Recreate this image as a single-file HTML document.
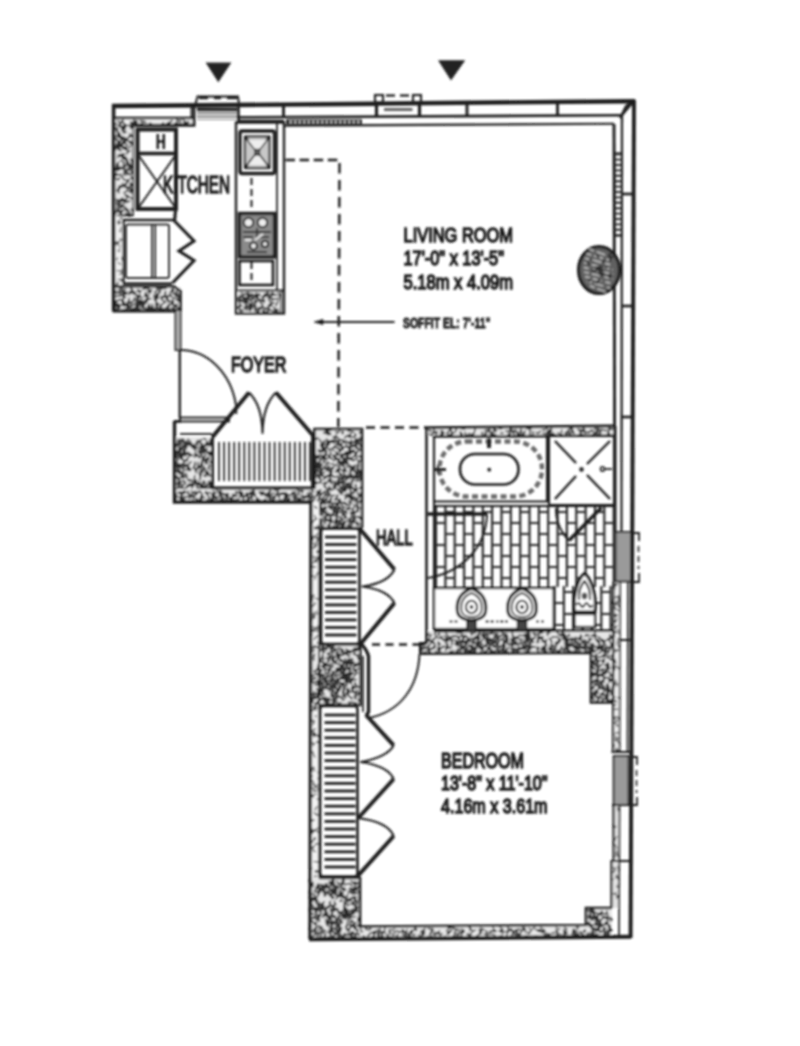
<!DOCTYPE html>
<html><head><meta charset="utf-8"><title>Floor plan</title>
<style>
html,body{margin:0;padding:0;background:#fff;}
body{width:800px;height:1046px;overflow:hidden;}
svg{display:block;font-family:"Liberation Sans",Arial,sans-serif;}
</style></head><body>
<svg width="800" height="1046" viewBox="0 0 800 1046">
<defs><filter id="b" x="-2%" y="-2%" width="104%" height="104%"><feGaussianBlur stdDeviation="1.05"/></filter></defs>
<rect width="800" height="1046" fill="#fff"/>
<g filter="url(#b)">
<polygon points="206.8,63.2 230.2,63.2 218.3,81" fill="#222" stroke="#222" stroke-width="1.3" stroke-linejoin="miter"/>
<polygon points="439.2,61 464,61 451,79.3" fill="#222" stroke="#222" stroke-width="1.3" stroke-linejoin="miter"/>
<rect x="115" y="120" width="17" height="96" fill="#e6e6e6"/>
<path d="M120.9 135.2L119.8 137.2L120 136.4M116.9 168.7L120.4 169.1L117.8 166.7M122.4 198.7L124.9 199.8L125.7 202.5M124.7 158.3L122.5 158.4L124.7 157.2M118.2 132.1L120.9 136.1L119 136.6M125.6 156L125.3 158.2L122.6 156.4M126.2 161.2L128.4 164.6L128.2 163.4M127.9 186.7L130.8 189.5L131 191.7M126.9 148.1L124.5 148.2L124 149.8M118.3 167L122.6 167.5L124.2 167.9M129.1 150.5L126.8 153.8L127.3 153.6M128.6 209.8L129 214.1L126.3 215.3M125.7 214.4L123.2 215.9L122.5 216M116.3 164.4L118.4 165.6L115.8 167.2M117.9 144.3L119.6 149L117.1 148.7M124.2 204L120 206.7L118.7 206.2M121.4 204.1L118.9 204.4L116.9 202.8M119.5 166.6L118.7 169.4L115.7 168.9M121.5 174.2L117.2 174.9L117.3 175.6M126.1 126.1L121.6 127.5L123.9 129.3M121.9 158.5L125.9 159.9L123.3 157.3M119.1 136.3L120.2 138.2L117.2 136.1M117.5 155.2L122.6 155.6L123.3 153.5M119.8 153.7L120.8 155.9L122.9 158.8M123 166.5L125.3 167.1L124.3 165.7M128.4 136.2L132 136.6L132 134.4M124.1 123.5L123.7 128.9L125.8 130.1M119.9 155.5L124 157.8L124.2 159.5M120.9 142L116.4 145L118.5 146.8M128.3 190.5L131.2 193L130.3 190.2M116.4 147.3L119.5 150.5L122.2 150.2M130.1 213.9L126.8 214.3L125.1 212.7M119 140.2L117 145L119 144.9M125.8 196.2L130 197.3L132 199M127.3 165.9L131.3 168.5L130.3 170.3M130.6 158.2L132 163.3L132 161.3M117.9 135.2L115 136.6L115 138.6M130.7 182.8L132 186.3L129.8 183.4M130.6 182.1L130.1 187.3L129.7 189.5M128.4 140.8L130.5 143L129 143.5M119.9 160.4L124.6 162.5L123.8 162.2M124.8 206L126 211.1L126 211.2M123.9 122.8L124.3 125.4L121.4 127.1M118.6 165.5L116 168.5L115 168.6M124.3 194.7L128.1 196L126.6 194.7M127.6 168.7L126.7 173.3L129.2 173M125.2 168.5L125 172.9L124.7 173.1M123.2 209.5L120.2 213.6L122.9 212.2M124.4 209.7L122.2 210.9L119.9 210.5M117.1 143.6L121.3 144.6L123 147M118.3 188.3L117.1 190.5L119.4 193.3M119.3 210.5L120.5 214.1L123.4 216M118.4 161.6L118.3 164.7L116.4 163.7M126.8 122.8L126.2 126.3L123.3 125.3M125.4 169.2L130.7 170.2L132 173.1M117.6 146L122.3 146.5L120.9 144.3M122.3 206.7L119.9 208.2L117.8 210.8M124.6 186.8L126.7 187.4L127.8 187M117.1 209.2L115.1 213.6L115 215.7M117 202.1L117.5 205.3L117.8 207.8M120 133.1L119.8 136L117.4 133.9M116.8 140L118.5 142.5L120 141.3M123.5 137.7L124.5 139.6L123 136.6M127 172.8L130 174.9L132 172.5M128.3 161.6L128.4 166.5L127.7 166.6M126.3 213.3L128.6 216L129.9 216M122.1 153.7L124.5 154.1L121.9 155.5M119.8 136.3L124.6 137.6L126.8 138.7M120.2 143.8L122.4 146.6L120.4 146.3M119.9 211.4L116 211.7L115 214.5M120.6 154.5L124 154.5L123.8 154.5M119 168.4L121.9 168.5L119.5 167.9M116.6 123.1L118.2 125.4L118.8 125.6M127.3 182.8L124.1 186.8L123.4 185.7M130.8 135L128 138.3L125.3 140.3M129.4 180L126.1 183.6L124 183.7M123.6 199.5L119.6 202.3L120.1 204.7M126.2 186.2L127.8 187.6L125.6 186.7M117.6 199.6L116.8 203.7L117.6 204.8M123.3 121.3L119.6 124.1L119.6 124.3M125.9 127.2L123.9 129.3L121.4 127.9M126.9 140.3L123.2 144.2L123.2 143.5M123.2 185.3L120.1 188L120.9 185.5M118.2 144.9L116.1 147.1L116.5 144.2M116.9 146.3L115 150.1L116.1 148.8M123.7 164.7L124 167.1L126.4 165.3M130.7 209L132 209.2L132 212M122.7 146.3L126.9 149.5L125.2 150M118.1 170.3L115.7 170.6L117.6 170.7M129.3 187.1L132 190.5L131.9 187.7M116.1 167.2L116.5 170.2L115 169.3M120.7 200L125.4 200L127.4 197.7M129.9 188L127 188.9L126.3 188.3M131 176.4L132 179.6L130.7 176.8M117.5 199.5L120.8 203.6L119.3 202.2M123.7 138.8L125.7 143.8L128 145.6M125.5 206.9L121.6 207.6L122.9 204.9M127 163.4L124 166.4L122.7 163.7M129.9 133L130.2 136.2L129 137.6M130.6 145.5L129.2 148.1L129.6 147.5M118.5 136.2L122.6 139.3L122.6 137.7M129.6 214.7L130 216L128.1 213.5M121.1 129.6L123.3 131.5L123.7 133.9M127.2 159.8L128.3 163.5L127.5 162.5M116.9 147.1L115 147.3L115 148.1M128.9 141.3L130.8 143.5L130.2 143.1M130.3 200.8L128.4 201.6L125.6 202.8M129.4 165.5L128.9 167.4L128.2 170M128.4 201.4L125.5 201.7L123.2 199.6M123.8 185.1L119.4 185.9L120.3 187.5M122.9 172.8L127.6 173.4L126 175.9M125.7 149.6L128.3 150.7L129.2 151.9M117.7 127.6L117.4 131.6L116.7 130M125 122L127.1 124.9L129.9 125.8M129.3 165.7L131.4 167.6L132 168.8M120.6 123L120.6 127.4L120.2 126M126 208L127.6 209.4L126.6 208.9M126.2 139.6L122.6 142.3L122.6 140.6M130.5 150.3L128.2 151.8L126.5 153.4M120.4 210.5L120.5 213.1L118.8 212.6M126 210.2L129 211.7L127.3 214.5M118.1 125.9L121.4 126.5L123.8 128.8M127 214.8L123.9 215.4L122 216M127.2 124L125.6 126.9L124.8 125.9M118.5 121.3L120.6 123.8L123.3 121.5M130.5 140.5L132 144.9L132 144.5M116.7 165.5L118.8 170.3L116.9 169.5M129.5 123.8L130.8 128.5L132 125.7M116.5 126.9L115 127.6L116.5 130M121.1 146.6L117 147.1L115.5 148.4M120.7 146.9L125.4 147L127.9 147.8M130.1 123.3L132 125.7L132 128.5M121.8 144.6L122.6 148.2L125.2 146.3M128 190.4L124 192.9L124.7 191.9M120.8 155L119 156.5L117.2 158M119.7 127.1L123.6 127.5L122.6 130.4M129.3 213.9L130.8 215.6L128.4 215.5M126.6 163L129.2 165.3L129.9 166.4M127.2 200.6L126 202.7L128.1 201.5M124.5 156.1L122.7 158L121.2 156.5M118.3 204.1L117.5 207.2L116.9 210.1M123.6 142.7L120.1 145.2L123 142.8M123.1 198L118.6 200.5L115.8 199.3M117.8 138.8L115 139.2L117.6 138.4M129 163.2L132 166.7L132 164.3M124.9 179.3L127.5 181.4L125.3 179.6M119.8 177.3L118.6 179.8L115.6 178.7M126.2 138.4L127.7 140.7L129.5 140.9M116.9 130.5L118.2 134.2L119.1 131.8M118.5 186.4L119.3 189.2L118.1 192M120.7 174.3L122.2 177.4L124.4 180.3M121.5 139.5L119.7 141.6L116.7 144M122.4 198.1L123.8 203L123.6 201M116.2 172.8L115 177.5L115 178.3M121.6 168.4L124.2 169.7L124.4 172.3M117.6 167.1L115 170.2L115 168M130.1 212.7L130.3 214.9L132 214.2M129.6 179.3L127.4 180.7L129.1 179M122.1 200.6L119.8 201.9L118.1 201.3M123.8 157.1L126.4 158.1L127.8 160.5M116.6 173.9L115.1 175.3L117.1 173M125 172.7L123.8 175.5L123.3 176M122.4 182.9L123 186.4L120.1 187.1M123.3 143.1L119.9 146.3L119.6 144.4M123.1 131.1L126.3 132.4L123.9 132.1" fill="none" stroke="#2a2a2a" stroke-width="1.5" stroke-linejoin="round"/>
<rect x="115.5" y="216" width="7" height="71" fill="#f0f0f0"/>
<path d="M119.1 219.8L118.1 221.9L119.5 223.6M119.1 220.7L119 224.1L121.7 221.9M120.8 285.7L117.6 287L115.7 287M119 283L116.5 283.7L118.2 286.3M116.8 241.2L115.5 243L117.9 241.6M120.6 226.9L120.5 232.1L118.8 230.7M119 239L121.6 239.3L119.6 241.9M119.9 278.8L122.5 281.2L120.2 281.4M119.7 241.8L116 243.4L116.5 245.7M117 285.5L115.7 287L117.5 285.6M121.5 256.8L122.5 261.1L122.2 259.1M120.2 220.3L117.8 221.9L118.6 224.8M119.4 262.8L120.5 264.5L117.7 262.4M119.6 246.8L119.4 252L117.2 250.3M119.8 218.5L122.5 218.6L120.1 217.7M117.6 257.3L116.9 259.9L117.6 259.7M117.2 281.6L119 283.4L116.6 284.2M120.9 271L121.7 273.8L118.8 274.6M119.3 241.2L117.7 244.4L120.4 245.8M117.7 279.3L121.6 279.9L121 278.3M116.8 270.7L120.7 270.9L122.5 268.7" fill="none" stroke="#2a2a2a" stroke-width="1.0" stroke-linejoin="round"/>
<rect x="115" y="118.5" width="78" height="6" fill="#f0f0f0"/>
<path d="M131.2 121.9L131.1 124.5L133 122.5M139.5 120.7L144.6 121.5L146.3 122.8M116.5 122.9L115 124.5L116.5 124.2M133.2 119.9L134.8 121.3L133.8 122.8M168.8 122.9L167 124.5L167.3 124.1M175.9 121.6L178.8 124.5L181.6 122.8M182.9 119.6L184.8 121.6L186.3 124.3M172.7 120.8L169.8 122L168.2 124.4M163.9 122.3L161.2 124.5L161.1 124.5M169 122.9L169.9 124.5L170.3 123.3M132.1 122L137.1 123.2L135 120.4M124.1 123.2L125.3 124.5L122.4 121.7M168.6 122L166 124.5L163.4 124.5M143.6 122.8L139.3 124.5L136.7 124.5M185.5 123.3L188.1 124.2L185.7 121.4M180.4 122.7L178.4 124.5L179.2 123.2M123.6 119.9L121.6 121.8L120.5 121.3M117.6 120.5L120.4 124L119.6 122.9M189.3 121.5L185.5 123.4L182.7 122.9M149.2 122.6L151.2 124.5L151.5 122.8M181.5 119.9L179.3 121.3L176.3 119.5M173.9 123.4L177.6 123.5L177.6 124.5M130 121.5L132.3 124.5L130.9 124.5M137.6 120.4L135.4 123.4L133 124.2M122.1 122.7L119.4 124.5L120.2 123.6" fill="none" stroke="#2a2a2a" stroke-width="1.5" stroke-linejoin="round"/>
<rect x="113" y="287" width="68" height="23" fill="#e6e6e6"/>
<path d="M140.5 296.3L138.3 297.1L140.6 294.2M127.6 293.5L124 294.7L123.3 297M129.4 297.7L129 302.3L130.5 303.2M137 294.9L141.4 297.2L142.3 298.6M125.2 297.2L122.1 299.8L119.9 299.6M172.4 293L174.9 294.7L176.2 296.8M124.2 291.3L126.4 293.5L126.6 291.4M135.7 292L131.1 292.3L128.7 295.1M120.7 296.1L115.9 296.3L117.3 295.9M126.9 301.4L129.5 302.3L128.8 299.5M140.3 304.6L138.2 307.7L139 307.5M123.4 300.7L124.7 305.1L127.2 304.6M151.9 303.7L152.6 306.4L153.9 308.7M165.1 302.7L161.2 304.7L162 304.4M134.7 301.2L138 302.2L139.7 303.5M155.6 293.3L156.4 296.7L157.1 296.2M158.6 307.5L162.2 309.9L163.8 309.2M146.3 308.5L150.2 308.9L148.2 310M176.1 298.9L179.9 300.2L180.1 301.5M147.8 301.4L144.5 303.4L144 306.1M127.9 302.4L129.4 306.8L127.1 309.7M137.5 289.2L139.7 291.8L136.8 291.3M141.8 302.7L143.1 305.3L141.4 306.7M176 299.1L179.7 302.1L179.1 300.4M122.5 304.3L119 306.7L118.9 307.1M128.9 308.2L130.8 310L132.7 310M144.9 294.2L144.5 296.6L146.5 295.7M170.1 293.6L171.2 296.3L170.8 294.4M114.2 303.2L116 305.4L114.8 305.2M142.3 301.4L140.7 304.3L143.3 306.4M117.8 305.4L113.2 306.8L113 308.8M155.8 288.3L161.1 288.5L162.1 287M120.7 291L124.2 294.2L123.3 292.1M173.7 304.6L178.1 307.2L178.7 308.9M158.1 306.8L154.2 309.8L152.4 310M149 303.6L150 308.6L150.3 307.2M129.5 290.9L129.5 293.1L129.3 291M146.4 298.5L145.8 303.4L142.8 305.5M144.9 299.8L142.4 304.1L141.7 303.6M177.4 289.6L175.6 293.4L172.8 294.1M159.1 307.6L161.8 310L161.9 309.9M173.2 288.7L170.6 292L169.6 294.1M138.2 298L137.8 302.6L136.1 302.3M141.9 299.6L139.3 301.2L141.3 300.6M147.2 293.7L147.1 299.1L148.1 300.9M135.8 294.7L138.2 297.9L139 299.6M116.6 303.2L113 304.6L113 303.4M114.4 292L113 293L113.9 294.7M174 300.8L172.5 304.8L173.7 305.3M158.9 292.5L157.1 295.6L158.7 293.2M126 288.8L122 292.2L123 291.4M168.3 304.5L167.7 307.4L166.5 306.9M135 297L132.7 301.8L130.1 302.2M116.6 290.5L113.3 292.7L115.8 292.4M114.9 296.1L113.4 301.2L116.3 301M141.2 290.1L140 292.6L137.9 289.7M114.3 302.4L119.3 304.4L116.8 306.6M122.5 288.4L120.7 290.6L122.1 288.7M117.3 304.3L114.2 308.2L115.6 305.7M155.5 302.9L156.1 308.1L154.7 310M161.3 288.2L165.6 288.4L167.5 287M134.5 303.3L138.9 305.8L138.8 303.2M138.3 300.1L139.1 304.4L137 306.1M138 301.5L136.6 304.7L135.9 306.4M176.4 304.5L175.7 307.4L173.1 310M160.4 305.4L162.5 308.9L165.4 310M153.7 294.5L154.8 299.5L154.1 300.6M153.7 306.8L151.3 308.5L148.3 307.1M141.9 300.3L137.6 303.1L134.9 305.1M167.6 306.2L166.9 309.1L169 310M159.2 307.2L160.2 309.2L160.6 310M127.2 303.8L124.5 304.4L125.1 305.4M144.7 292.3L147.9 295.7L149.7 295.4M119.8 304.9L117.7 306.8L118.1 309.2M172.4 299L172.7 303L170.8 301.2M125.9 302.7L127.6 306.3L127 306.4M123.8 288.9L120.5 289L118.2 289.8M166 291.3L165 294.3L165.1 291.5M116.2 308.8L113 310L113.4 308.6M165.4 296.9L160.8 297.7L162.7 300.5M130.8 288.8L132.9 290.3L130.4 287.7M150.8 306.3L151.5 310L153.9 307.4M153.5 296.3L158.5 298.3L157 298.7M156.3 308.1L154.6 310L154.3 308M177.7 308.8L179.4 310L177.9 309.1M173.6 307L171.7 308.1L173.4 309.3M156.7 308.7L159.1 309.1L160.7 310M158.7 294.3L157.4 298.7L155 297.7M131 290.6L131.1 293.2L129.5 291.1M158.7 288.3L157 290.3L154.2 292.9M128.6 307.6L123.9 309.7L121.7 309.4M120.4 307.5L116.7 309.5L116.4 308.5M168.3 298L167.3 300.3L165.7 297.7M161.1 299.6L165.6 301.8L164.2 301.3M124.3 293.7L121.5 295.2L119.5 295.2M135 307L140.1 308.9L137.4 310M158.1 292.4L158.3 295.4L156.9 293.6M138 308.8L132.8 308.8L130.4 307.6M173.1 289.2L171.2 291.5L174 288.6M167.3 295.2L169.1 296L171.1 296.2M126.3 297.1L123.6 297.9L124 295.7M125.9 304.2L124.2 306.3L121.7 303.8M154.2 298.4L155.9 300.5L156.6 301.7M167.6 300.2L169.4 301.6L170.8 301M161.6 289.2L159 290.9L161.1 293.1M146.5 288.3L143 289.3L145.2 287.9M126.3 305.5L127.3 307.8L126.5 308.4M114.3 298.9L115 302.7L113 304M167.9 306.2L170.3 310L169.6 310M118 306.3L114.3 306.9L114.4 307M149.5 288.4L146.7 288.7L144.8 287M130.5 305.2L132.9 305.4L134.1 303.6M115.2 300.6L114.3 304.3L115.5 301.9M171.4 303.1L173.8 303.4L173.8 303.4M132.5 290.6L133.2 292.9L133.7 295.1M123.7 300L121.9 301.9L123.9 304.5M139.7 296.8L136.3 298.7L135.7 301.3M165.3 295.1L167.6 297.3L167.2 300.2M167.1 307.2L162.9 309.9L160.3 310M177.2 307.6L179.7 310L180.5 309.2M149 289.5L149.8 293.1L146.9 291M178 304.3L173.9 305.1L175.7 307.4M172.4 288.7L171.1 291.4L172.2 290M149.8 307.4L148.7 310L148.8 309.6M176.8 294L179.2 297.5L176.9 298.1M177.1 298.8L179.5 301.5L179.7 299.4M122.2 290.8L124.2 293.5L123 291.9M119.8 299.5L116.2 301.5L116.6 302.4M127.3 302.9L127.8 306.8L128.4 306.6M134.5 293.1L137.4 295.5L136.7 296M114.8 295.4L113 296.6L113.3 296.5M132.8 308.7L135.6 310L133.6 307.4M171.5 297.2L174.8 297.9L174.4 299.3M121.2 292.7L116.7 293.3L114.6 292.3M137.3 302.2L135.5 306.8L137.4 306.9M162.8 303.6L160.1 306.1L161.8 307.4M174.4 290.7L172.5 291.5L174.1 292M146.9 308.2L146.1 310L147.8 310M154.1 296L154.6 299.5L156 298.3M139.8 299.7L140.9 302.6L142.6 304.7M147 297.3L149.5 299L147.4 299.5M152.4 289.8L149.3 290.6L151.4 292.7M177.3 292.3L178.5 297.3L175.5 294.6M151.3 298.4L146.7 299.6L147 302.6M148.2 298.9L146.3 301.7L145.4 302.2M137.2 307.9L135.2 310L132.7 309.2M140.5 299.8L139.3 304.7L142.1 304.7M143.1 301.1L139.8 301.2L140 303.1M125.3 294.7L120.4 295L120.5 292.7M173 302.5L168.4 305.4L170.7 304.9M124.3 294.1L124.2 297.9L122.3 295.9M155.6 300.7L158 305.6L158.8 302.8M141.2 304.5L143.7 308.2L140.7 307M169.6 300.3L168.2 302.6L168.2 303M131.6 301.6L131 307L131.5 306.5M122 291.3L120.3 292.9L117.9 290.9M148.5 305.3L146.8 309.8L144.2 306.9M164.9 294.8L162.8 297.3L160.8 295.9" fill="none" stroke="#2a2a2a" stroke-width="1.5" stroke-linejoin="round"/>
<rect x="238" y="291" width="43" height="21" fill="#e6e6e6"/>
<path d="M243.1 309.2L242.3 312L242 311.3M241.2 308.9L239.9 312L239.5 312M249.2 292.8L244.3 293.9L243.2 296.3M272.5 297.8L270.8 302.9L270.7 305.6M249 299.4L247.2 301.6L246.1 303.8M258.9 307.1L260.7 308.9L259.9 307M278.8 297.5L278.4 299.9L278.6 299.2M255.5 293.2L260.1 295.1L259.2 293.6M246.8 297.4L248.4 298.8L249.4 297.9M245.4 305.4L248.2 306.3L250.2 304M257.2 307.9L255.1 309.4L254.2 310.7M254.5 310.2L258.7 312L258.7 310.4M257.6 294.5L255.8 296.8L258.2 297.3M254.1 296.7L253.2 299.3L255.4 297M260 302.3L263.1 305.8L262.4 306.8M262.3 297.9L263.1 300.1L261.1 302.2M252.2 304.6L255.9 305.9L255.1 305.9M251.2 293.3L252.7 295.6L250.5 296.9M250.6 299.7L246.1 301L248.4 303.2M244.4 297.3L248.8 297.7L249.8 296.8M255.9 304.5L254.2 306.8L256.3 306M264.8 295.5L269.6 297.3L271 298.6M240.7 292.8L243 294.1L241.8 293.4M240.6 297.9L239.5 300.3L241.5 300.7M268.4 296.8L269.3 301.1L268.4 298.1M273.2 306.8L274.5 308.4L276.7 309.1M240.9 296.6L245.4 298.3L243.7 300.8M269.7 293.6L267.8 296.4L269.3 298.4M250.5 293.7L247.1 294.3L249.7 295.4M269.3 307.8L267.9 311.1L265.2 312M256.6 301.7L254.2 302.3L255.7 299.5M267.8 307.3L270.5 310.2L273.3 311M261.3 296.7L264.5 297.3L264 295.6M251.7 294.6L249.1 298.1L247.5 296.5M260.1 300.5L257 301.1L255.8 303.4M244.8 302.7L247.2 306.9L247.5 308.5M245.9 304.7L244.8 308.1L246.4 310.1M243.7 297.5L244.8 300L242.2 298.6M247.1 305.3L247.5 307.7L246.4 307.5M253.9 295.2L255.9 295.6L258.8 297.2M242.4 305.6L238.5 305.9L238 305.8M256.8 295.6L256.5 297.6L259 298.5M264.7 309.8L263.4 312L261.9 309.8M240.1 306.7L238 308.2L238 309M273.7 309.6L277.8 312L279.8 312M252.4 295.5L249.7 297.1L248.9 297.4M254.1 307.8L255.7 309.3L256.1 310M272.6 305.4L267.5 307L267.5 307M245.5 297.7L244.9 299.9L246 297.9M257.2 310.4L259.2 311L258.9 309.2M268.6 292.1L264.3 294.4L266 294M250.6 304.6L250.5 308L249.5 307.7M266.3 307.7L263.9 308.5L262.6 308.1M262.1 298.6L264 299.9L262.9 299.7M278.8 309.3L273.9 311.5L276.7 312M272.3 293.1L270.1 296.7L268.9 297.1M278.1 301.1L276.7 303.9L275.8 306.2M240.1 295.6L238.2 298.6L238 299.6M254.3 303L255.3 306.8L255.6 306.1M243.7 295.4L240 296.8L238 298.9M249.4 293.8L249.1 296.7L249.1 297M248.3 302.9L251.8 304.2L252.4 301.7M255.7 293.4L256.7 298.3L257 299.6M270 294.2L265.5 294.3L263.1 296.3M255.1 295.3L251.1 295.8L252.8 293.6M270.8 293.1L273.3 295.3L270.3 295.9M247.7 297.7L245.6 300.5L248 301.2M274.8 302.7L269.9 304L267.9 305.5M253 306.5L250.4 310.6L248.1 309.9M269.2 310L267.8 311.7L268.5 309.3M261.5 307.3L266.4 309.1L267.5 307.6M246.9 300.5L243.4 302.5L241.1 299.6M243.5 307.2L246.8 309.4L245.6 310.5M254.6 294.7L251 296.2L252.2 298.1M277.9 292.3L279.1 294.5L279.1 296.7M271.8 292.7L275.9 295.3L277 294.7M258.5 295L255.5 296.6L257.8 297.3M242.1 298.3L246.1 301.5L246.6 298.7M246 298.9L246.4 302.9L245.7 302M239.2 303L240.3 304.8L240 307.7M240.9 294.8L239.3 297.3L238 297.3M249.7 302.8L249.3 308.1L252.2 305.3M262 306.6L257.6 308.5L258.4 309.3M253.9 297.4L249.8 300.4L252.5 301.5M251.5 306.5L248.9 309.3L249.7 308.4M261.6 299.7L264.7 300.3L263.6 303.2M258.7 299L260.8 300.9L259.9 298.7M239.3 308.5L239.8 312L240.2 310.8M245.9 293.3L247.7 295.8L249.1 296.1M277.4 298.5L273.5 299.5L271 297.5M262.8 310.8L264.8 312L264.4 312M241.8 301.2L239 302.1L238 299.3" fill="none" stroke="#2a2a2a" stroke-width="1.5" stroke-linejoin="round"/>
<rect x="175" y="437" width="37" height="65" fill="#e6e6e6"/>
<path d="M181.8 454.9L180.1 457.1L179.5 455.3M197.1 492.4L195.9 494.8L197.3 497.6M197 443L192.9 445.8L191.9 443.7M182.6 471.8L178.7 473.4L181.2 471.7M187.4 485.2L185.9 488.3L187 487.3M178 464.1L182.2 464.7L181.2 464.7M196.9 454.2L197.2 456.2L199.7 456.6M210.6 441.5L209 445.8L207.9 443.3M181.5 447L179.7 448.5L181.6 448.1M194.9 475.1L194.1 479.3L194.7 478.3M201.9 454.2L199.1 457.9L200.7 456.8M203 499.6L203.5 502L203.6 502M180.6 438.6L180.9 442.9L182.6 442M210.6 452.4L209 454L206.1 451.8M178.1 469.6L177.7 472.2L180.3 471.4M181.2 449.2L177.7 453L175.6 450.2M203.2 453.3L199.5 453.5L200.3 452.6M204 467L206.7 471.4L204.4 472.8M178.3 478.7L179.8 483.5L177.2 483.8M190.3 495.9L186.2 496.6L184.6 495.1M185.2 465.3L187.2 467.1L188.8 468M186.4 500.6L189.5 502L187.5 502M206.4 454.8L203 458.3L201.7 457.3M193 494.1L196.8 496.3L197.4 496M196.3 493.6L200.3 496.7L199.5 498.4M206.2 449.5L201.2 451.8L200 448.9M179.9 499.4L185.1 499.5L183 501M179.4 448.6L178.2 450.6L177.2 453.1M201.1 493.6L199 493.7L197.4 495.5M200.1 440.4L200.1 443.2L199.7 440.8M176.7 500.4L179.5 502L177.2 501.9M180.8 465L184.5 467.3L182.4 468.8M193.5 445.1L195.2 448.4L197.7 447.5M183.5 499L179.3 500.6L177.9 498.7M185.3 442.3L189 442.9L188.5 443.2M188.7 438.7L186.3 442.2L186.6 442.5M200.2 499.9L196 501.6L195.4 500.5M190.7 499.3L191.8 502L191.3 499.9M210.9 438.3L209.2 443.3L207.7 443.9M189.2 453.2L191.1 454.6L193.2 456.3M207.8 441.1L206 443.7L206.9 444M187 499.2L191.7 499.2L193.8 499.3M196.7 500.7L199.8 502L201.3 501.3M200.9 462.8L200.6 466.9L201.6 465.9M198 472.2L201.2 474.9L199.8 477.3M192.6 483.5L192.3 487.1L190.6 485M208.5 471.3L208.2 475.1L210 473.6M182 489.8L182.6 494L184.5 496.4M206.4 440.7L208.2 445.3L210.1 443M181.4 453.8L184.5 454.9L186.3 455M191.8 443.5L193.6 448.7L194.8 448.4M192.7 488.3L190.9 490L192 489.2M194.2 453L195.5 455.9L194.8 453M183 473.9L185.6 474.4L186.9 473.1M187.3 453.2L185.3 454.4L186.1 456.5M183.1 464.7L179.8 467.2L179 464.4M191.5 461.1L189.6 463.5L189.1 464.4M204.4 460.2L205.8 464L208.3 462.1M210 482.8L211.7 486.8L210.7 484.3M202.5 461.9L202.2 465.6L204.6 467.2M176.9 475.3L177.3 478.9L179.4 478.4M192.6 494.1L193.3 497.7L193.3 499.7M199.5 484.6L200.1 486.7L201.2 487M202.9 486.5L205.5 487.5L203 489.4M179.6 443.6L176.7 446.3L175 447.4M200.9 468.4L205.2 469.2L204.7 469.7M210.9 489.5L208.6 490.4L207.6 490.6M176.2 500.3L178.1 502L177 500.5M206.1 473L205.9 476.5L203.2 475.3M206.3 488.5L203.7 489.8L201.9 487.1M194.8 461.5L195.2 465.2L195.7 464.4M204.1 450.6L200.2 451.6L197.5 450.5M194.7 463.8L194 466.8L192.7 468.6M186.2 482.8L182.9 485.1L182.6 487.7M191.6 493.3L195 494L195.9 491.2M206.2 442.5L205.4 445L207.9 445.4M204 469.4L201.8 473.1L200.5 471.4M205.3 447.2L202.7 447.9L200.3 445.5M203.4 497.9L204.6 502L203.1 502M200 447.8L204.4 448.5L201.6 450.6M186.3 452.7L185.5 455.7L185.8 453.6M207.9 458.4L205.7 459.6L207.5 462.5M189.7 440.1L191.3 444L189.6 444.3M179.3 467.3L177 469.9L178 467.6M205 445.7L199.7 447L202.3 447.2M186.2 459.9L183.5 462.6L186.1 460.1M193 492.4L191.8 496.1L189.3 494M185.5 494.3L183 495.6L185.6 492.8M197 498.9L199.5 502L200.4 499.3M187.7 466.3L190.9 469.6L189 471.3M186.4 442.4L186 444.7L186.3 446.4M196.8 467.1L200.6 467.5L198.2 468.4M180.6 474.4L182.1 477.4L183.1 475.4M181.9 497.3L184.4 501.6L186.7 501.5M181.2 443.9L179 444.8L179 445M180.1 467.5L183.5 469.4L183.5 468.6M182.9 463.4L184.9 464.9L183.3 467.1M193.6 494.1L198.9 494.4L198.8 496.1M196 481.4L199.4 484.5L197.4 483M177.1 462.8L176.9 465.8L179.3 463.3M196.2 452.7L194.8 457.3L196.1 454.6M184.6 475.7L182.5 475.9L183.2 477M204.5 459.6L201.5 461.6L204 458.6M208.9 464L209.6 466.2L208 467.6M199.8 447.5L200.9 449.7L199.1 448M187.6 499.5L182.8 499.5L182.7 499.5M203.3 495.2L200.3 498.2L198.5 498.9M205.6 487.6L209.9 488.8L209 486.8M209.8 480.4L208.1 482.2L210 484.8M207.7 484.9L203.5 487.3L204.1 487M204.9 487.4L202.1 488.6L204.8 488.8M209.1 445.3L204.4 445.8L202.9 447.8M184.1 450.5L184.5 453.3L184.5 455.7M200 482.8L201.6 487.2L203.3 488.3M209 490L209.6 492.2L210.5 494.2M187.9 475.5L183.7 477.8L180.8 477.8M176.6 445L175 446.9L175.6 446.6M187.7 451.5L189.9 455.9L190.7 454.7M179.1 455.1L177 457.9L177.9 459.8M180.2 481L185.1 481.7L183.2 480.3M209.5 460.8L212 464.1L212 466.5M189.8 469.5L186.1 470L189 468.1M205.1 448.2L204.9 450.2L203 452.9M191.9 489L194.2 491.3L191.8 491.6M206.2 470.4L208.2 475.2L210.5 476.2M178.7 477.3L179.6 482.6L178.8 483.6M198.1 461.7L197.8 466L200.3 466M188.7 499.5L193.6 500.4L194.7 500.7M191.7 485.3L187.4 486.8L188.9 484.1M187.4 446.6L182.3 447.4L180.2 447.9M196.2 440.9L197.7 445.3L198.6 444M202.7 456.3L202.2 459.8L205.1 460.7M204.2 480.6L206.1 485.6L207.4 486.8M185.7 448.2L184.6 453L186.3 452M180.9 470.5L178.5 471.5L179.9 469.5M186.9 441.4L188.9 444.1L191.7 446.8M182.6 457.5L179.9 458L178.8 457.6M179.8 454.4L180.9 457.6L183.7 456.2M183.1 495.3L183.9 500.1L184.7 501.8M187 447.6L184.4 450.1L184.7 451.1M202.3 455.3L204.5 460.1L204.7 458.8M198.1 454.4L196.4 455.8L198.4 456.2M188.4 497.2L190.3 499.3L187.7 499.6M202.4 480.7L203.7 485.4L201.4 484.2M198.6 498.9L196.8 502L198.4 501.4M208.9 484.8L210.5 487.7L212 486.8M182.5 492.9L182.1 496.7L183.1 499.1M180.7 459.3L184 460L184.1 462.2M199.4 474.4L200.6 478.2L199.2 480.3M203.6 490.8L207.5 492.8L209 492.8M207.4 494.6L204.1 498.1L205 500.4M180.6 482.4L178.1 485.7L176.8 483.1M197.1 489.9L198.9 492L197.3 489.6M199.7 499.4L197 501.3L198.2 498.7M205.4 458.5L209.6 458.5L207.4 457.2M178.1 466.1L177.2 470.8L175 472.8M179.9 452.1L178.6 455.1L177.6 455.5M183.6 488L187.5 491L189.4 491.2M177.1 487L180.8 487.4L180.4 484.7M198.1 483.6L197.2 486.9L197.2 487.5M183.9 492.7L179.1 492.7L181.9 491.7M210.5 442.5L210.7 445L210.4 446.1M200.8 466.6L202.1 469L201.5 467.7M182.8 484.4L182.6 487.9L180.8 489.1M182.9 454.7L182 459.1L184.9 460.6M209.2 496L206.3 499.4L203.7 497.6M176.5 492.4L175 495.6L175 494.8M181.7 477.8L178.7 477.9L175.9 476M188.4 494.6L185.5 496.7L183.1 494.3M181.4 487L181.9 492.4L184.3 494.2M192.7 489.8L194.9 490.7L195.2 490.8M183.3 453.9L188.5 454.2L189.8 456.9M210.3 465.5L208.1 468L210 470.1M180.7 438.8L183.9 441.3L183.1 438.4M205.1 487.5L205.3 489.7L207.6 489.9M178.5 458.4L176.5 463.1L176.4 463.9M183.2 453.3L180 454.3L177.6 454.9M180.4 450.6L181 454.6L181.8 455.8M191.4 442.3L190 443.9L189.8 443.3M199.6 483L202.7 485.9L203.8 485.7M181 495.3L180.3 497.4L178.7 500.3M184 462.7L180.2 465.7L181 467.2M177.3 443.9L175 444.3L175 441.6M184.4 496.6L187.8 499.4L190.4 500.2M208.2 454.6L210 455.5L211.5 453.1M210.1 482.7L212 485.4L210 485.5M179.7 487.6L175 489.3L175 491.5M195.5 489.7L195.4 493.9L196 495.7M178.7 441.4L178.3 444.4L177.7 441.5M202.1 439.5L197.9 442L197.7 439.7M198.8 451L199.3 453.4L202.1 453.7M188.3 443.9L185 447.7L187.1 445.3M188.9 457.1L187 458.8L187.7 461.7M202.9 438.4L205.2 439L206.4 439.6M194.2 466.7L195.4 470.7L196.3 473.2M201.6 488.2L196.9 489.5L198.2 486.7M199.8 491.5L200.9 496.5L199 499.2M191.5 482.5L193.6 484.7L192.7 483.6M179.3 465.9L175 466.2L177.6 467.7M205.3 500.6L203.2 502L201.7 501.5M176.7 452.5L175 454.4L175 456M203.1 494.1L200 496.4L197.7 498.3M187 477.5L188.6 481L191.3 479M194.6 478.9L193.9 484.2L193.4 486.7M200.1 498.9L202.8 499.7L201.5 502M176.5 454.4L175 458.6L175 458.3M200 481.5L196.8 484.8L195.3 483.4M177 481.5L179.3 483.3L182.1 484.2M196.7 479.3L195.3 483.6L194.2 480.9M178.3 438.9L179.4 441.2L177.1 441.1M209.9 481.3L212 484.9L210.1 482.5M186.6 463.8L184.6 466.7L186 464.3M208.6 459.6L206.8 460.6L208.8 459M205.9 488.6L204.4 491.1L201.5 489.3M207.7 448L205.7 451.5L206.7 449.6M181 444.1L177.7 444.3L178.6 444.7M183.8 442.1L188.8 442.3L186.6 445.1M188.7 483.5L193 485.5L191.6 484.7M194.3 445L197.7 448.4L196.4 447.7M202.8 452.1L205 453.7L204.3 452.9M198.4 467.7L196.5 468.6L197.4 470.6M184.2 439.9L184.7 442.2L184.4 443.5M179.3 445.4L179.4 448L177.8 447.7M180.1 442.3L181.7 445.6L184.3 445.9M178.5 452L175.7 454.9L178 457.6M206 444.9L202.3 445.6L200.7 443.6M206.3 451.4L209.1 452.1L211.6 451.9M201.6 442.7L202.1 445.8L200.3 446.7M188.6 445.5L185 445.7L183 442.8M198.9 470.4L202.5 470.7L203.9 470.9M184.2 469.4L182.8 473.5L180.7 475.3M209.1 484.6L206.1 486.1L208.5 484.2M183.9 475.7L181.8 476.4L180.1 473.6M191.4 446.9L195.2 449.5L195.7 452.1M190.1 480.8L195.4 481L193.8 480.9M193.9 497.7L194 502L194.8 500.3M205.2 450.7L201.6 450.7L199.9 453.5M187.3 463.6L189.3 467.5L186.5 466.7M181.7 490.2L185.8 490.2L184.3 489.9M195.7 482.8L198.2 484L196 486.8M181.2 446.6L180.9 450.7L183.3 448M184.2 448.6L183.2 452L182.7 454.3" fill="none" stroke="#2a2a2a" stroke-width="1.5" stroke-linejoin="round"/>
<rect x="175" y="489" width="139" height="13" fill="#e6e6e6"/>
<path d="M266.7 499.5L263.7 499.9L266.4 499.3M183.1 500.1L185 500.7L183.8 499.5M308.5 499.6L309.4 502L311.5 502M265.5 495.6L268.2 496.7L269.1 497.2M285.7 499.9L283.1 500.2L280.5 502M254.1 492L252.5 494.4L250.9 493.6M247.8 497.5L252.2 498.5L253 498.3M268.1 498.8L271.7 498.9L272.8 500.2M264.7 492L260 492.6L258.4 492.2M307.2 492.3L308.7 497.4L311.1 495.8M276.7 494L274.4 498L272.2 496.4M205.4 492.9L207.9 493.2L207.3 492.7M186.7 496.4L182.7 497.1L181.8 498.4M235.9 491.9L236 494L237.1 492M226.6 500.6L223 502L223.8 502M272.6 500.6L276.4 502L275.2 500.5M288.6 496.6L284 498.9L284.6 497.1M178.1 495.9L176.1 498.1L175 495.2M199.7 497.7L202.5 497.7L201.1 499M311.2 490.2L314 492.1L314 490M221.9 495.7L223.8 498.7L223.7 497.2M183.5 490.9L185.6 492.1L186.3 493.2M212 498.7L209.9 501.1L209.9 499.2M303.3 496.2L305.8 496.6L306.9 495.9M274.2 492.5L270.4 495.4L267.9 495.9M202.2 497.8L198.3 500.5L196.7 498.1M266.9 496.2L269.3 497.3L269.8 495M262.9 492.7L265.2 495.2L265.4 496.5M180.2 498L182.6 499.9L183.4 501M260.2 499.9L262.7 501.8L263.7 500.3M197.6 492.5L193.9 495.7L195.2 498.5M284.8 493.4L287.3 497.2L284.6 497.8M188.2 490.5L188.1 493.1L190.7 495.3M239.3 492.2L242.8 493.6L242.9 492.7M274.1 495.8L272.3 497.4L269.8 496.7M242.2 492.8L240.8 495.2L239.8 495M273.6 498.5L275 501.8L277.6 502M260.8 491.2L261.4 495.3L260 492.6M310.4 500L313.8 501.4L314 500.2M185.4 498.3L182.7 500.6L180.3 499.9M188.9 500.6L191.9 501.1L193.5 498.9M190.6 490.8L194 492.7L196 490.7M199.8 498.4L200.5 501.5L198.3 500M309.1 491.3L312.3 494.6L314 497.1M240.8 500.5L239.8 502L239.6 502M276.6 491.4L281 494.5L278.6 496.4M222.4 492.7L225 495.3L227.9 493.2M293.1 493.5L297 495.9L296.1 494M233.3 499L229.7 500.7L226.7 502M259.1 499.9L256 500.4L258.1 502M212.4 494L213.7 497L212.9 494.7M207.1 500L208.3 502L210.6 502M209.5 500.1L205 502L206.4 502M287.4 492.8L285.8 495.7L287.9 493.5M249.9 493.7L247.1 495.4L249.2 497.5M296.4 491.5L291.9 492.4L292.9 493.3M182.6 499.6L182 502L181.1 502M283.2 499.6L285.7 501.6L284.2 499.2M220.8 490.3L218.6 492L216 489.4M277.5 492.2L277.9 495.6L279.8 498.3M218.5 497L215 498.1L217.4 499.5M218.7 499.6L218.1 501.9L218.7 502M247 495.3L248.4 500.2L249.4 498.5M225.6 494L221.2 494.6L219 497.1M180.8 496.5L181.7 500.9L181.3 498.5M247.7 499L245.2 501L243.5 502M285.8 492.4L280.7 494.4L280.3 493.7M273.3 500.2L275.7 502L274.7 502M201.6 496L201.6 500.4L199.4 502M313 496.2L310.9 497.8L313.3 498.1M280.1 499.6L282.3 502L280.5 499.1M244.8 499.9L239.7 501.5L239.8 502M252.7 491.6L250.8 496L250.3 496.6M211.5 493L212.4 496.7L212.3 494.3M176.8 493.7L175 497.3L175 495.9M246.8 491.9L245.1 496.8L243.4 497.3M274.7 498.2L272 501.8L270.6 502M302.7 490.6L299.2 491.2L296.8 489M285.2 497.5L288.4 499L289.3 502M222 498.4L224 500.3L221.9 499.8M260.7 493.3L263.1 494.7L260.6 492.8M219.3 495.6L222.3 497.6L222 500.4M242.6 500.4L242.9 502L243.4 499.9M199.2 490.8L196 495.1L195.4 494.3M234.2 493.9L232.3 496.7L230.3 498.8M254.4 490.1L250.4 492.1L249.5 492.9M302.1 494.4L302.7 497.4L303 498.4M276.7 500.4L279.6 501.9L281.8 502M256.8 497.4L259.4 502L259.7 501.4M201 491.3L196.4 492.8L193.6 491.7M241.7 495.5L243.8 500.1L242.9 500.3M303.3 497L303.6 500.2L302.9 500.8M283.7 492.9L285 495.9L284.2 498.4M249.8 493L252.3 497.2L250.2 498.4M179 492.1L183.7 493L181.6 491.4M183.9 492.9L180.9 496.3L183.3 498.9M251.5 500.1L256.5 501.6L256.1 499.8M278.5 499.4L279.3 501.6L281.5 502M257.8 500.7L260 501L257.7 498.1M273 496.9L275.4 497.8L273.5 498.5M268.1 500.7L270.4 502L270 501.3M210.7 492.6L205.2 493L206.5 491M200.6 491.7L202.7 495.8L200.1 495.9M269.3 490.4L270.2 495.1L270.6 494.8M296.7 496.6L298.4 499.6L301.1 501.7M301.3 496.2L303.7 497.3L303 498.4M176.6 498.8L175 501.2L175 502M232.7 497.4L231.7 501.8L231.2 502M306.9 500.2L305.8 502L305.1 500.6M299.8 498.7L296 501.7L298.9 502M219.6 498.3L222.4 501.4L220.4 502M243 493L240.7 493.6L243.3 495.1M196.4 498.4L195.2 502L195.8 501.6M303.9 491L302.1 492.5L300.7 490.2M295.4 494.9L293.5 497.1L294.9 497.9M189.4 495.4L187.6 497.5L188.5 496.2M226.8 500.1L221.4 501.1L220.9 501.5M286.8 498.3L287.5 502L286.9 502M240.8 491.3L239 493.1L240.1 490.4M311.4 496L309.7 497.7L310.5 497M210.1 499L213.8 499.3L211.3 501.5M298.4 490.4L298.8 494L300.1 495.4M223 500.3L225.1 501.6L227 499.3M201.5 495.5L202.7 497.7L205.3 497.6M283.7 492.8L281 493.5L283.4 494.2M309 498.5L307.5 502L309.6 501.7M189.5 500.1L185.9 502L187.3 500.4M239.5 499.1L234.3 499.7L232.2 500.8M251.9 494.5L254.1 495.7L253.9 495.7M212.7 494L211.9 498.6L212.4 496.6M297.4 494L292 494.7L289.8 495.2M308.5 494.2L308 497.3L305.2 495.5M193 493.1L191.4 496.8L194.1 497.9M225.6 500.4L224 502L226.2 502M225.4 496.7L228.5 501L227 502M184.8 490.1L184.4 492.8L184.4 490.5M290.6 497.4L287.8 501.7L290.7 502M273.7 490L277.2 490.6L280 489.4M253.9 490.1L255.2 495.1L255.8 497M177.8 492.2L181.9 494.9L179.6 497.4M212.6 499.7L212.5 502L215.3 501.4M271.5 490.7L266.9 493.5L264.5 495M213 491.6L214.8 495.6L217.6 498.5M312.1 496.9L310.9 499.1L312.3 499.4M225.2 499.9L226.9 501.7L224.9 499.6M256.6 498.8L259.9 500.6L260.4 501M232.5 496L234.7 496.1L234.3 494.5M279.7 492.7L277.3 494.2L274.8 494M229.1 493.7L227 495.6L228.1 497.6M238 495.5L234 496.5L232.1 493.9M187.3 493.6L191.4 494.8L190.9 493.7M246.2 500.3L248 502L246.8 500.9M300.7 497.8L301.2 500.3L298.5 498M292.1 497.1L295.8 499.1L293.1 499.1M221.9 491.1L218.8 494.4L218.9 492.4M267.7 494.8L266.6 496.8L269 493.8M206.5 494.4L208.4 495.7L209.5 498.7M221.9 492.9L220.5 495.3L219.9 496.4M235 491.7L238.8 492.6L241.8 495.1M189.7 495.5L189.8 498.2L190.8 498.2M286.8 493.2L282.1 494.2L281.9 492.1M242.3 491.4L239.8 495.1L240.3 498M182.2 497.9L180.3 499.3L179.2 496.6M255.9 498L257.9 501.9L257.1 502M213.9 500.8L214.3 502L211.9 502M294.5 497L298.9 499.4L300.2 497.1M228.1 497.4L230.3 497.4L229.4 499.7M312.5 493.5L307.9 494.8L310.1 495.4M308.8 497.1L304.9 497.7L303.1 497.8M242.2 493.7L243.6 497.2L244.2 495.5M214 495.5L214 499L214.9 497.1M248.9 493L245.5 496L247.2 496.1M210.1 500.2L210 502L208.7 501.4M273.1 499L273.3 502L271.6 501.7M225 493.4L227 497.6L228.4 495.8M208 498.6L206 502L206.8 502M213.4 490.7L214.3 492.6L217 492.7M267.8 500.6L265.5 502L264.5 499.7M285 498.1L285.1 501.4L283.8 501.3M273.6 499.8L269.1 502L268.7 501.5M219 500.7L221.2 502L219.9 502M292.8 493.6L288.3 495.9L287.8 494.1" fill="none" stroke="#2a2a2a" stroke-width="1.5" stroke-linejoin="round"/>
<rect x="314" y="429" width="48" height="99" fill="#e6e6e6"/>
<path d="M350.5 466.3L355.3 468.2L355 467.6M342.4 454.8L345.7 455L345 452M332.1 503.8L334.3 507.6L335 505.8M315.9 495.4L314.9 498.3L314 500.4M356.8 452.6L355.8 456.5L354.7 453.7M330 492.5L328.8 496.1L326.5 494.4M329.3 470.4L331.5 475.1L329.2 478M326.1 513.1L329 515.9L328.2 513.1M351.6 508.6L354.8 512.1L354.6 515.1M317.5 466.9L320.7 469.6L322.3 471.7M340.2 467.6L338.3 469L336.9 470.5M335.3 526.3L338.7 527.3L337 524.4M319.3 438.8L320.7 442L320.8 440.8M347.3 480.1L344.7 480.2L344.8 480.2M332.1 513.5L336.1 516.6L335.3 515.7M343.3 484.6L344.7 486.4L347.5 485.6M320.3 493.7L319.9 496.8L318.9 498.9M330.6 470.5L327.3 470.9L326.8 468.9M345.5 494.5L346 497.9L344.4 499.6M336 510.7L337.8 514.9L335 513.2M359.2 496.2L357.2 499.4L357.1 497.6M323 492.6L321.3 495L322.2 492.8M343.2 446.6L343.1 449.7L343.4 447.6M337.2 489.8L340 491.1L341.1 491.4M343.4 505.7L342.7 508.4L342.4 510.3M341.1 503.1L342.5 506.3L345.4 508.2M345 440.3L344.3 442.3L346.9 445.1M348.5 456L346.2 457.2L348.1 457.3M315.7 516.4L316.6 521.2L317.8 521.4M354.7 449.7L351.6 450.7L348.8 449.7M318 437L317.1 439.2L315.1 438M327.8 519.3L323 520.7L325.9 520.4M351.6 457.3L346.9 458.4L348.3 456.7M319.2 519.7L318.5 523.8L320.7 521.7M347.2 475L344.4 477.2L342.5 480M327.9 502.3L325.5 503.7L326.6 503.1M325.3 451.1L322.1 451.5L322.1 451.6M316.2 503.1L314 506.7L314 505M331 501L329.4 504L329.5 502M357.3 475.8L357.2 480.5L355.3 481.9M331.3 508.8L334.1 509.7L334.9 509.6M332.3 486.1L335.1 488.4L332.1 490.2M326.7 510.6L326 514.6L326.8 512.4M350.8 458.3L346.4 460.3L347.5 462.2M335.1 495.3L332.5 495.7L330.1 495.2M338.4 444.5L342.3 447.7L341.6 445.6M323.4 486L326.4 488.1L326.7 487.7M338.2 511.2L343.4 511.4L341.6 508.7M350.3 485.3L350 488L351.7 486.9M348.4 452.1L347.5 456.3L346.7 456.2M318 492.4L316.6 494.5L316.9 495.9M319.7 511.4L317.7 512.2L316.1 509.7M326.6 438.4L326.7 441.2L325.5 441M332.1 506.5L330.5 508.3L328.9 505.4M330.1 440.5L327.4 444.3L330.4 442.6M316.7 503.4L318.1 508.5L317.5 507.4M318.3 521.9L318.2 525.5L317.8 527.1M353.2 476.2L356.1 478L358.5 477.4M345.4 484.3L345.9 488.3L344.4 488.6M354.8 437.7L356.8 442.4L359.7 439.5M343.8 491.3L340.6 493L338.4 491.8M347.8 500.6L351.2 503.2L352.1 504.1M316 472.8L318.1 476.3L317.2 474.1M345.8 457.8L343.4 459.7L343.7 461.6M320.3 500.9L325.5 502L322.6 503.4M332 447.4L333.2 451L332.7 448.7M339 459.1L335.7 459.5L335.3 457.8M359.6 461.2L357.4 465.6L356.7 467.1M327.8 440.6L331.4 441.1L333.6 439.3M335.3 504L336.9 505.9L337 505.5M358.2 517L361.1 519.7L360.6 516.9M335.4 518.8L337.8 522.1L339.1 519.5M357.5 440.6L360.1 444.2L357.3 443.5M320.8 475.9L323.4 476L321.7 473.5M319.2 448.9L319 451.3L321 450.8M326.6 453.4L324.7 454.4L326.1 452M358.4 469.6L356.9 474.4L354.5 471.8M346.9 487L345 489.3L345 487.4M335.1 457.3L334.3 460.3L332.9 461.1M318.9 507.7L319 510.5L316.7 510.6M338.2 499.8L339.5 503L341.9 501.6M360.1 516.6L354.8 516.7L353.4 518.6M343.1 449.8L338.9 449.8L340.7 450.2M318.7 513.7L321.1 515.3L321.8 513.4M336.3 499.2L340.4 500.5L338 500.4M344.9 496.7L347.5 497L350.3 496.4M334.5 466.3L331.9 470.1L332.8 469.5M341.2 480L345.6 483L348.4 484.6M360.7 475.2L358.2 476.5L359.6 477.8M358.2 510.8L355.4 511.9L357.2 511.8M329.4 465.7L325.4 468.7L327.4 469.7M322.8 445.1L322.3 447.8L321.3 445.4M322.1 499.6L325.9 502.8L324.9 504.9M328.9 455.9L329.6 457.9L329.2 457.2M315.6 513.6L316.3 515.4L319.1 513.8M326.6 432.4L330.9 433.7L331.4 433.8M326.3 457.8L323 458.1L326 460.4M320.7 512.3L325.2 512.6L327.1 513.7M340.3 508.8L343.7 510.7L342.3 510.1M323.8 498.7L322.7 503.3L323.5 503.9M357.4 508.8L356.8 511.9L359.3 511.1M319.7 462.3L316.5 466.5L317.4 467.5M358.1 505.5L358.7 509L360.3 507.9M320.1 490.1L317.7 491.7L318.8 494.1M320.9 443.2L320.9 446.3L323.6 449.3M335.5 506.9L334.5 509.3L337.3 507.4M318.5 473.9L322.2 474.1L321.6 476.8M334 512.4L330.9 515L329.3 513.8M337.6 468.3L335.9 471.7L334.9 472.3M360.8 449.6L361.8 451.4L359.4 448.8M334.5 511.1L331.3 515.5L333.3 516M341.7 431.2L342.7 433.9L343.5 431.3M339.9 466.4L340 469.8L337.6 471.2M351.8 488L355.6 489.5L357.9 492.4M349.9 434.4L345.9 436.1L344.5 438.6M353 516.8L355.9 519.6L355.1 518.4M350 489.8L352 493.2L354.6 493.6M357 484.9L354.9 485L354.7 485.3M348.4 524L347 527.4L347.9 527.6M347.4 521.9L350.5 522L352.8 519.3M351.4 433L349.2 437.3L347.6 436.6M325.4 498.4L325 502.5L324 503M358.9 505.6L356.1 506L356.2 505.3M330.9 507.9L334.3 510L335.9 512.6M315.9 456.3L316 461.5L314 463.6M333.3 483.1L331.1 483.6L330.1 481.6M321.2 459.4L318.8 462.7L316.5 464.5M338.3 443.9L334.2 446.5L332.5 449.1M352.3 452.2L357.3 452.2L359.3 449.8M350.3 505L348.3 509.5L351.2 508.4M353.4 519.3L355.8 523L356.9 525.1M341.1 456.7L343.8 459.5L341.6 461.7M355.9 453.5L353.4 457L351.1 458.7M350.3 459.7L353.1 460.6L354.7 460.4M352.5 445.5L355.5 446.5L357.8 444.5M318.4 503L322.5 504.3L320 502.7M345.5 514.7L346.5 518.2L343.7 517.2M326.1 506.5L323.2 510.2L323.4 511.4M320.9 467.4L322.7 469.7L324.1 468M330 457.4L326.1 459.1L326 458.4M357.4 521.1L358 525.1L360.2 523.6M326.9 440L326.9 444.7L324.8 444.3M360.6 476.7L362 481.3L362 480.5M320.7 491.7L317.1 495.6L318.1 494.4M338.7 457.9L339.3 461.5L341.8 463.9M357.6 476.4L355.1 476.6L357.7 477.5M355.1 470.1L353 470.2L355.1 472.1M332.2 510.4L335.8 513.3L335.7 512.7M324 507.6L322.5 509.3L325.4 507.7M332.3 470.2L331 475.2L333.7 476M331.8 440.4L335.5 441.2L336 440.9M360.2 470.1L361.8 473.2L359.8 475.8M342.2 482.6L342.8 485.4L341.7 485.4M335.5 525L335 527.7L332.3 525.6M330.9 505.9L328.2 506.9L329.9 506.5M339.7 481.7L341.9 482L342.9 483.1M332.5 519.1L329.9 520.8L327.3 521.1M345.1 451.8L348.8 452.3L346 453.7M343.8 457.1L344.3 459.9L342.4 457.9M352.5 474L350.5 476.5L352.3 477.1M345.1 468.1L344.6 470.7L347.4 471.7M339.5 492L342.5 492.9L340.9 495M315.6 473.1L314 475L315.3 473.8M325.7 498.3L328.4 502L327.5 503.5M341.4 509.1L338 509.2L341 506.3M355.4 432.9L354.9 436.2L356.5 435.1M324.6 506.1L323.8 510.6L323.8 507.9M350.5 451.2L350.7 453.2L349.2 454.1M350.2 491.7L351 496.2L352 494.5M339.6 488L337.8 490L336.7 489.1M319.4 463.8L316.8 466.8L314.8 468.2M320.4 502.9L322.5 503.9L321 504M327.4 515.8L324.5 516.3L326 517.5M340.8 454.7L335.5 455.6L332.6 454.6M329.8 449.3L330.9 454.3L328 456.3M329.2 431.3L326.4 432.2L324.7 429.9M331.9 441.6L334.3 443.1L334.8 442.8M329 481L325.6 484L324.7 486.5M351.4 484.5L351.6 487.6L349.4 489.9M343 439.6L338 440.8L335.2 442M326 482L323.2 483.6L323.1 484.6M323.8 490.8L325.1 496.1L323.2 497.3M316.9 456.6L319.2 457.5L319.4 455.6M351.6 439.3L349.7 444L347.4 442.3M350.2 475.6L347.1 476.3L346.5 479M330.8 523.7L328.3 524.6L328.5 527.3M320.4 512.3L316.9 515.3L317.5 512.9M359.1 439.9L355.6 442.8L354.5 443.9M333.9 502.8L339.1 503.5L338.4 505.4M336.7 508.8L339 512L336.1 511.9M318.6 513.3L316.8 516.3L319.6 519M359 438L356.3 441.6L356.9 438.7M357.5 472.5L356.1 477.2L354.7 474.4M357.5 456.2L359.9 456.6L362 458M324.7 444.2L320.5 445.6L321 443.4M334 521.8L337.5 521.8L334.8 524.8M319.8 522.5L315.8 524.7L314 525.9M337.7 477.7L341.1 479.3L342.9 477.1M355.3 470.7L357.2 472.8L357 473.7M341.2 516.3L341.1 520.1L344 518.4M315.8 461.9L317.1 463.9L316.6 461.1M357.4 477L353.2 478.6L354.6 480.2M328.9 500.7L332 503.1L332.6 504.8M322.7 463.4L318.6 465.9L321.5 463.6M324.7 440.3L321.7 443.9L322.6 445.5M338.7 484.5L334.6 485.6L335.5 486.1M337.7 503.4L337.2 505.8L336.7 505.3M334.9 484.4L336.3 487.5L335.9 486.7M359.7 438.8L362 439L361.4 438.7M342.2 465.6L343.7 467L346 469.6M328.2 475.1L329.3 477L331.7 479M326.1 454.7L323.3 458.6L323.1 457.9M325.7 507.4L321.2 509.5L318.9 510.1M360.3 499.4L360.6 501.9L358 503.3M318.2 508.5L316.3 511.6L318.7 514.2M343.4 439.7L342.4 443L340.9 445.6M348.6 441.8L351 443.9L351.4 442.9M335.2 508.9L339 511.3L338 514M358.8 461.8L358 464L357.5 464.8M344.4 463.2L346.8 463.5L347.1 461.5M329.1 490L325.5 491.2L324 491.7M327.7 505.9L330.3 507.3L329.9 509.7M322.6 448.7L325.1 449.8L324.1 449.1M349.9 469.2L350.2 472.5L351.9 475M334.6 519.4L338.4 523.2L338.6 524.3M332.5 456.3L337.2 458.4L336.3 459.6M336.2 481.1L338.3 482.7L337.3 483.8M340 430.2L337.8 433L335.2 431.6M324.7 509.8L324.2 512.9L322.7 511.7M327.9 463.6L324.1 466.5L325.3 468.8M345.1 441L347.6 441.4L346.2 441.5M352.8 486.8L353.4 489.6L356.3 491.1M330.7 434.5L327.8 434.6L329.9 432.3M345 464.6L342.2 465.6L339.8 463.8M352.1 524.9L350.2 528L348.9 526.6M319 525.5L323.1 526.1L322.2 524.2M335.1 520.3L336.9 522.1L337.7 523M338.5 447.4L336.3 448.3L334.3 446.8M338.6 476.2L337.9 480.7L340.2 480.5M316.9 510.6L320 510.8L317.9 511.4M351 442.5L354 446.5L355.1 444.1M346.6 507L347.3 509.5L348.3 508.4M321.2 446L321.9 448.3L321.2 448.6M340.4 469.2L338.5 470.5L337.5 473.1M354.8 519.3L351.9 521.9L353.6 522.4M320.4 454.8L325.2 456.3L324.2 455.7M339.8 439.8L336.9 443.6L338.7 445.9M329.6 444.1L326.4 447.1L325.6 446.2M322.1 510.7L322.7 515.5L321.7 514.4M338.6 502.3L335.6 503.5L336.8 502.9M354.6 503.7L354.1 506.9L352.7 509.3M351.8 459.6L354.4 460.3L357.2 457.5M352.3 481.3L351.6 485.1L351.1 485.5M319.1 519.2L321.5 520L322.5 520.9M352.1 497.2L350 497.7L347 496.1M350.8 444.8L350.4 449.5L348.3 449.6M356.4 502.5L357.6 506L356.3 508.8M351 496L353.6 499.7L353.6 501.5M331.7 515.5L329.8 518.5L330.2 520.3M339.3 523.1L344.5 523.3L345.8 523.2M354.1 444.4L356.3 448.4L358.2 447.6M360.7 492.9L362 493.3L359.5 493.7M329.8 455.3L330.2 457.6L332.6 459.6M340.7 473.1L343 476.5L342.1 479.4M359 500.5L357 501.7L354.8 500.7M320.8 471L315.9 471.2L318.6 469.5M325.2 432.3L326.6 433.9L326.8 432.7M346 484.4L345.1 487.3L346.5 488.5M347.9 475.7L348.2 478.7L345.4 478.5M343.3 448.1L338.8 450.2L340.9 452.1M337.5 447L340.5 450.5L343.4 448.2M315.3 464.3L317.2 467.9L314.8 470M330.6 518.1L332.1 520.8L330.2 523.6M342.1 510.1L345.9 510.9L347.3 513.8M358.1 440.1L360.2 445.1L360.4 447.9M326.7 432.5L323.8 433L324.1 432.1M341.6 520.6L336.6 521.4L335.1 523.3M315.8 470.4L314 470.9L314 471.4M325.9 498.7L324.8 500.8L327.3 498.2M347 463.8L349.1 464.8L352.1 466.6M336.1 507.1L330.9 507.6L331.1 506.2M338.9 525.2L336 528L338 527.5M340.7 512.3L344.8 515.3L341.9 515.5M341.4 444.2L338 445.1L336.1 444.5M342.2 471.6L344.5 471.6L345.8 469.4M326.8 508.3L322.1 510.5L320.2 507.5M349.7 488.1L350.5 490L350.1 488.4M342 525.1L343.8 526.5L345 524.2M325.3 472.6L322.1 472.7L321 472.6M322.5 469L320.6 471.6L322.4 469.7M319.7 490.8L320.4 496L318.1 497.5M345.8 465.9L349.6 467.5L351.2 467.4M336.7 496.5L335.6 499.8L333.7 499.6M340.3 517L336.3 517L335.3 515.4M344 501.6L347.1 504.7L350.1 504.1M358.2 472.4L355.9 476.8L354.1 475.9M360.3 436.3L362 439.3L362 440.1M357.8 495L360 495L357.2 494.6M316.2 481L315.1 483.5L317.3 483M359.2 464.7L357.7 468.3L356.3 470M315.2 454.2L317.9 458.5L317.9 455.7M328.8 489.1L326.8 490.5L328.5 489.8M339.1 470.9L340.2 476.2L342.7 478.7M348.8 497.9L350.8 498.8L352.7 499.9M344 460.3L347.5 464.2L347.7 461.3M330.7 463.8L336 465L338.4 466.9M315.2 470.5L319.5 472.1L321.3 473.8M351.4 441.7L353.7 441.8L355.8 443.8M338.7 452.8L336.6 453.8L335.5 450.8M360.2 470.3L356.6 473.4L357.1 476.3M350.6 519.9L348.4 520.2L349.9 518.5M329.9 463.1L327.7 463.2L327.3 461M360.9 478.1L358.6 481.2L360.2 480.2M334 502.2L331 506.3L329.8 508.4M348.9 485.6L350 489.4L347.5 487M329.3 442L333.8 442.6L335.2 443.3M324.5 500L320.9 502.2L319.3 502.6M333.2 456.1L337.6 458.4L338.4 460.9M322.9 455.6L322.9 457.8L321.7 458.1M337.2 518.2L336.1 522.3L336.7 524.1M331.9 430.1L327.1 430.4L324.8 429M325.2 493.8L327.1 494.7L327.1 491.7M326.9 467.1L328.5 468.3L327.1 466.7M329.9 470.2L331.3 473L328.4 475.1M349 477.8L351.8 477.8L354.2 477.6M324.4 509.5L322.2 510.3L322.2 510.7M320.4 461L318.8 465L319.6 465.8M332.4 436.7L337.3 436.9L339.5 439.4M318.5 504.6L321.3 506.3L319.5 508.4M352.7 510.8L354.6 515.7L353.2 516.1M346 452.7L346.8 454.9L348.6 453M321.3 457L319.5 460.8L319.6 462.9M349.6 450.3L349.3 452.9L347.8 450.8M318.5 464L314.5 465.5L314 463.8M342.2 481.4L344.5 481.6L344.9 482.2M318.7 505L321.7 507.7L321.8 506.8M358.5 468.4L359.5 472.2L361.5 475.1M350.4 482.3L347.7 485.5L350.5 488.4M350 451L349.2 454.5L347.6 456.1M325.2 498.8L325.3 502.3L326.5 503.7M360.5 526.9L358.2 528L359.2 528M358.3 473.4L359.2 475.2L359 475.4M329.2 440.2L329.3 442.5L327.3 442.1M331 478.5L330.7 481.9L328.5 479M340.7 524.1L342.8 526.6L341.7 528M337.7 507.2L340.2 507.2L338.4 506.5M333.4 467.4L329.9 467.8L330.3 470.5M344.5 487.7L341.8 489.3L339 492.1M339.6 486.5L344.1 487.4L343.3 488.3M328 519.1L329.2 521.8L331.6 520.1M327.5 477.2L325.1 477.4L323.3 479.2M318.5 470.2L315 473L316.7 470.7M355.9 464.6L352.9 466.6L355.2 466.5M326.9 444.6L326.9 446.8L324.9 449M341.4 513.7L344.7 515.4L344.5 513.1M327.1 519.4L324.7 522.3L325.3 524.5M358.9 487.7L362 488.5L360 486.9M321.3 479.7L320.4 483.2L320.2 481M348 482.1L350.8 486.2L353.4 488.7M360.3 436.7L361.5 440L360.1 441.5M356.6 443.4L356.5 448.8L358.9 448.5M319.8 474.3L319.6 479L317.7 477.7M360.3 431.1L359.5 433.3L361 432.9M357.6 451.7L355 452.7L352.3 450.2M318.5 467.7L315.3 468L316.6 465.2M338.7 482.3L342.6 483.5L342.2 482.5M353.2 497.1L355.4 497.9L352.7 496.5M344.3 523.9L339.3 524.4L337 526.2M350.1 475.9L346 475.9L343.7 474.2M321 489.2L319.1 493.8L316.1 490.9M359.7 455.4L362 459.1L359.7 460.9M356.2 484.5L355.6 486.4L356.2 487.1M350.5 480.2L353.1 481.1L354 478.6M319.9 454.3L316.8 456.7L315.9 459.5M341.7 453.1L340.7 458L339.9 457.6M341.6 525.8L340.4 528L340.9 526.9M336.8 499.2L340.5 499.4L339.4 500M352.8 475.3L351.6 478.1L350.1 478.1M339.5 451.7L336.7 454.2L335.9 452.7M353.5 517.5L350.7 518.1L348.1 518.8M316.1 513.1L314.4 515.7L314.1 516.8M322.4 465.4L318.9 468.1L319.4 465.7M325 454.9L329.2 455.3L329.6 457.8M340.5 519.1L340.9 522.9L339.6 522.7M358.1 477.3L361.3 477.3L359.5 478.1M338.4 476.1L333.9 477.2L331.4 474.4M347.2 487.9L345.5 491.2L342.7 490.9M353.4 488.4L355.8 488.7L358.3 489M322.6 498.5L317.7 499.7L318.6 501.6M319 475L316.4 476.7L314.2 478.9M347.4 430.7L351.3 431.5L354 432.2M355.3 440.2L354.7 442.8L353.7 440.7M336.3 434.5L334.3 438.2L336.8 439.8M318.5 514.3L317.8 519.5L317.7 517M347.4 446.8L343.5 447L345.9 447M330 494.2L327.8 497.1L326.5 496.6M347.9 452.2L351.1 453.9L352.1 451.3M327.5 524.2L330.6 527.7L329.5 525.3M337.4 514.3L335.7 515.7L336.9 516.5M337.2 494.5L337 497.1L338.2 494.9M329.3 512.6L328.4 516.3L329.7 516.3M332.7 483.6L335.9 483.8L333.1 486.8M356.8 493.4L361.2 495.8L359.8 497.6M344.9 488.7L342.9 490.8L344.9 491.1M349.8 511.5L352.2 513.9L351.4 511.4M355.3 496.5L355.4 500.4L357.7 497.8M331.5 496.6L331.1 500.3L329.6 498.6M345.8 463.1L340.8 464.1L343.6 462.7M338.7 440.1L339.6 442.2L339.6 444.9M350.1 465.3L353.5 469.3L350.8 471.4M354.4 436.7L350.2 437.3L349.5 436.9M343 481.1L338.3 483.2L337.3 480.2M350.8 492.8L349.8 494.8L347.2 497.2M331.7 475.9L329.1 476.1L329.9 473.4M340.8 501.7L344.9 503.9L347.7 505.8M351.4 521.9L348.9 524.9L350.8 526.8M343.9 494.9L346.6 496.6L345.6 498.7M350.9 458.2L348.7 458.2L346.1 457.2M318.6 522.1L320 525.2L322.1 525.4M344 472.7L344.7 478L343.3 478.1M337 443.7L340.4 445.4L342.2 445M317.7 520.7L322.3 522.8L319.6 523.7M321.7 455.3L322.9 459.8L322.5 459.3M333.5 480.5L336.9 484.6L335 482.4M340.2 464.1L338.9 465.7L339.9 464.9M357.7 459.1L358.3 462.2L358.5 460.8M345.8 469.9L344 472.3L343.7 472.7M348.1 493.3L348.6 495.5L346.2 493.4M323.5 447.8L321.9 450.6L324.3 449M326.3 447.7L330.2 449.7L330.7 448.2M352.3 495.5L353.2 499.6L354.1 499.2M319.2 465.4L316 465.9L316.8 463.4M350.6 513.8L351.9 516.9L352 515.4M324.7 442.5L322.6 445.6L325.3 448.4M355.2 521.6L353.4 522.6L351.2 525.5M355.2 489.7L353.9 493L353.4 490.9M340.2 456.7L344.9 458.5L345.3 460.8M328.5 485.9L331.7 489.7L329.9 490.6M340.5 461.6L344.1 462.5L344.3 464.4M324.3 448L327.1 451.9L325.5 452.7M316.5 438L314.2 440.9L314 440.8M358.3 467.9L357.6 471.4L357.7 468.6M355.6 486.2L357 488.9L355.1 491.5M353.7 466.7L352.4 470.4L350.6 467.6M348.8 445.8L348.4 447.8L345.5 445.8M345.1 489.4L340.8 489.6L340.9 486.6M359.1 477.4L357.1 478.3L359.1 478.2M325 469.4L328.9 470.3L327.2 471.5M323 496.9L321.4 501.1L324.1 499.9M346.4 468.5L341.8 470.1L343.4 470.7M327 518.1L321.7 518.6L320.8 520.5M346.2 511.5L343.3 513.5L342.7 515.3M345.1 482.3L343.2 483.2L340.2 482.9M319.5 511.7L324.4 513.1L322.7 510.9M349.7 495.7L350.8 499.7L351.1 502.3M338.3 482.3L338.8 485.8L339.9 483.4M346.8 520.1L344 522.7L343.1 520.3M319.2 482.3L314.6 484.2L314 485.7M352.1 476.6L349.7 477.7L348.7 477.8M348.4 473.5L351.4 477.6L350.7 477.1M325.3 476.9L323.3 479.5L324.3 479.4M315.5 523.3L318 526.4L320.7 524.7M317.9 449.9L322.4 452.2L322.5 449.5M327.5 479.6L330.1 481.2L332.5 480.8M325.7 488L329.3 489.3L330.2 486.8M340.2 460L337.3 463L339.8 463.6M323.4 448L320.5 451.9L317.9 451.4M328 475.3L324.4 476.9L325.8 478.5M327.8 490L329.2 493.4L329.4 494.4M322.7 511.3L325.5 512.8L327.5 515.7M331.9 522.3L337.2 523L335.4 520.2M350.1 445.7L348.6 447.1L346.4 446.2M318.9 475.7L321 479.8L321 482.6M353.8 446.6L348.8 447.9L349.2 448.1M322.8 461.1L324.9 462.8L325.6 461.8M350.3 485.6L348.3 486.8L350.4 486.8M344.1 453.1L342.1 455.9L343.4 456.4" fill="none" stroke="#2a2a2a" stroke-width="1.5" stroke-linejoin="round"/>
<rect x="311" y="502" width="8" height="437" fill="#f2f2f2"/>
<path d="M312.8 633.8L311.4 635.2L312.2 635.5M316.3 646.1L316.6 649.8L318 647.2M315.1 615.9L314.3 618.7L312.5 617.1M317.4 661.2L313.1 662.8L311.7 663.2M312.1 908.8L311.1 911L311.2 911M316 628.9L312 630L311 632M317.3 635.4L314.2 639.3L316.5 636.8M317 611L313.4 613.6L313.2 616M316.8 935.5L312.8 936.1L314.3 937.1M314.4 720L314.3 722.7L312.9 724.8M317.1 806.4L315 809.5L315.4 810.5M312 696L311 696.3L311 693.7M313.5 861.5L318.3 862L319 864.2M313.5 908.2L314.9 911.5L317.6 911.8M316.1 551L319 551.1L316.6 553M313.5 919.5L312.1 921.8L313.3 920.7M315.2 536L311 538.4L311.5 539.6M314 558.5L316.4 562.5L316.8 560.3M313.4 709.6L315.6 709.7L315.3 707.5M317.3 559L314 562.4L312.9 562.6M318 771.4L319 776.5L317.6 779.3M313.9 686.4L316.2 689.9L318.5 691.1M313.1 933.8L311 936.7L313.1 934.3M315.6 844.9L312.3 847.7L311 847.5M313.6 767.5L314.8 770.9L315 771.4M317.3 625.7L319 627.7L316.7 629.8M317.5 557.8L319 562.4L319 565.3M318 635.1L319 635.7L319 632.8M313.5 708.7L312.1 710.9L311 709.8M312.5 556.2L317.1 557.7L319 555M316.8 869.9L315.4 872.7L317.4 870.1M312.3 918.3L316.3 921.6L317.8 918.9M312.6 784.2L316.5 786.1L317.5 784.5M314.9 595.2L311 596.9L312.1 597.6M312.4 888.5L311 890.9L311.5 890.8M316.5 734.9L319 737.8L317.3 734.8M315.1 881.6L313.4 883.8L313.4 884.3M315.5 703.1L315.3 707.5L317.6 707.6M316.7 798.8L319 799.9L317.9 799M314.9 631.1L311 631.1L311 632.3M317.5 572.4L315.4 577.4L314.7 579.6M316.8 642.2L319 644.3L318.5 643.4M314.8 819.8L311 821.5L312.6 819.5M314.2 506L316.8 507.9L314.9 507.7M312.8 787.1L313.6 789.8L314.7 788.8M312.1 867.7L311 871.2L311 869.8M316.2 566.7L311.9 567.1L312.2 564.4M313.7 687.2L311.2 687.3L311.7 684.8M317.8 828L314 830.6L312.1 829M312.2 742.9L314.8 743.5L312.9 746M316.7 627.3L314.2 627.5L312 626.8M316.8 545.9L313.8 548.3L315.5 547.3M312.3 546L311 548.9L312.6 547.1M313.7 595L311 597L311 598.4M312.2 705.9L315.5 709.3L316.8 710.4M313.2 521.7L311.3 525.7L311 527.7M317.4 660.2L317.1 664.4L319 665.3M315.1 837.4L315.2 839.6L315.4 839M314 674.5L316.4 676.4L317.9 678.8M314.7 870.8L318.3 872.3L319 874M314.3 576.1L311 576.6L311.9 575.6M312.7 751.1L314.2 756L315.2 757.5M315.4 830.5L319 832.8L319 833.3M313.1 542.6L311 546.3L312 544.8M314.9 837.1L312.7 841.8L311 843.4M312.1 774.9L311.8 777.2L311.4 778.2M317.2 536.6L317.1 541.3L314.8 543.7M317.6 652L319 653.5L317.3 653M316.2 910.5L315.3 915.8L314.8 916.7M312 685.1L314.5 685.3L316.3 683M313.8 731.8L313.6 733.9L311.3 735M314.4 543.1L314.7 546.4L317.6 543.7M313.1 535.5L312.2 540.8L313.9 538.5M315.2 658.7L311 659L311.6 657.6M314.6 732.1L316.1 735.8L313.6 735.3M317.9 676.6L317.8 681.3L319 682.7M314.3 812.6L317.7 815.1L314.8 813.2M313.1 656.2L311.6 657.7L313.9 655.2M317.7 915.8L316 920.4L318.6 920.1M317.1 518.2L313.8 520.9L315.5 518.8M312.5 730.6L311.1 734.7L311 735.1M317.8 613.1L313.3 616L314.3 615.6M314.5 706.4L316.6 707.3L315.3 705.3M317.4 660.5L313.7 662.1L316.1 664.4M316.3 698.1L319 700.8L317.9 702.8M312.3 780L313.9 783L314.2 785.9M318 658.4L312.7 659.1L312.8 659.5M313.2 846.3L313.4 851L315.9 851.7M316.2 741.7L319 743.2L316.4 741.3M317.9 668.4L319 669.9L316.4 670.5M313.4 597.6L311.2 602.4L311 603.7M315.5 714.8L316 716.8L315.1 716.9M314 935.4L316.4 939L318.3 939M315 720.2L312.8 721.4L311.2 718.5M314.9 700.2L311 700.9L311 700.9M312.6 830.6L312.5 833.2L314.7 830.4M313.2 710.6L311 710.6L311 712.4M314 907.2L316.8 907.3L315.7 909.4M312.6 796.2L311 798L312.8 795.3M314.9 597.9L317.5 599L319 599.4M312.8 627.3L317.9 628.3L319 628.2M317.8 928.4L319 930.2L317.1 931M315.6 728.5L312.6 731L311.5 732M317.7 524.7L317.8 527.2L319 526.8M317 794.3L313 794.8L313.6 797.6M316.8 650L319 651.7L316.4 654.2M317.6 790.8L313.5 791.4L315 792M313.3 537.3L311 539.9L311 540.2M313.6 617.1L311 618.7L312.5 620.6M314.6 699.3L315.3 702.5L317 704.8M313.8 812.4L315.4 813.7L316.5 815.4M314 935.8L312 938.2L313.6 939M312.8 899.6L313.4 902.5L312.7 902.7M315.2 631L319 631.8L319 633M314.4 876.1L316.8 876.2L313.9 876.6M315.1 602L315 604L312.2 606.8M317.3 533.2L315.5 536.5L315.8 538.6M315.8 912.3L313 916.7L311 918.6M313.9 903.5L311 906.8L312.5 906.2M315.1 843.4L319 844.1L319 845.4M314.1 766.7L311.8 769.1L312.9 771.6M314.2 731.9L314.5 736.8L313.1 735.5M314.4 786.8L319 789.3L319 790.7M314.5 514.9L315.9 518.6L313.4 521.5" fill="none" stroke="#2a2a2a" stroke-width="1.1" stroke-linejoin="round"/>
<rect x="311" y="644" width="49" height="61" fill="#e6e6e6"/>
<path d="M339.6 672.1L342.4 672.3L341.5 673.2M320.2 673.6L322.8 676.6L323.9 676.7M347.3 681.7L351.4 682.9L351.3 684.4M356 665.7L353.5 667L354.4 664.1M350.8 671.3L351.3 675L350.5 673.4M344.5 682L347.4 682.5L350 681.2M325.8 679.1L327.9 684L330.8 681.8M322.6 655.1L323.1 658L324.1 660.4M315.4 646.5L318.3 647.6L316.1 647.2M329.1 687.9L323.7 688.5L323.2 689.3M318.2 681L313.5 682.8L311.3 680.8M354.4 686.1L352.7 687.7L353.5 684.8M346.6 691.9L347.7 693.6L349.1 696.6M341.2 666.6L343.6 670.8L346.5 669.9M322.4 703.8L323.2 705L322.1 705M358.2 672.7L355.1 674.2L354.7 676M357.6 689.6L354.7 693.5L357.2 696.2M337 667.9L340.8 668L340 665M358.7 663.1L356.7 663.6L355.8 665.3M343.6 684.7L343.7 687L345.7 688.6M334.5 678.2L331.4 680.3L331.3 680.2M346.6 688.4L348.9 692.5L348.2 693.5M329.7 698.1L325.1 698.9L324.4 698M332.4 680.7L336.3 681.1L338.8 678.5M353.9 678.8L349.4 678.8L350.7 680.3M331.8 652L327.2 654.2L328.6 652.5M335.5 675.4L337 678.7L336.8 681.6M341.5 702.6L339 703.3L340.6 702.6M340.1 678.2L338 680.4L339.1 679.7M348.8 674.1L346.4 679.1L345.1 676.1M354.1 676L351.9 680.4L354.3 679.7M358.4 668L355.2 671.8L354.4 671.3M329.2 665.2L330.6 670L327.9 672.9M349.2 678L347.8 680.8L349.4 683M329.9 674.5L332.2 676.3L334.3 677.1M333 682.8L334.7 683.9L333.8 684.3M320.7 677L322.2 679.5L323.6 678.6M346.9 689.2L347.7 691.2L349.8 691.5M339.3 685.4L338.5 690.6L335.5 693.4M341 669L336 670.5L336.6 667.6M341.3 669.3L340.2 674.1L338 676.2M326.6 659.8L329 660.1L327.6 660.3M356.2 655.1L358.2 657.8L359 656.9M343.5 653.9L347.5 654.4L348.8 652.2M314.3 684.5L319.4 685.5L320.5 683.5M331.2 648.3L334.4 649.2L336.6 651.6M347.4 682.6L346.4 686.3L347.3 686.2M330.7 694.4L332.7 697.1L333.8 699.9M328.2 670.6L329 673.2L328.2 674.9M320.8 673.2L323.4 676.3L325 674M334.9 656.1L332.9 660L331.2 658.4M326.2 664.4L321.5 666L323.2 665.4M333.5 656.9L334.2 662.2L331.7 661.5M321.2 694.9L323.3 697.9L320.7 699M336.2 692.3L333.2 695.8L331.8 694.3M340.1 647.9L335.7 648.8L335.6 648M315.6 677.7L313.8 679.3L311.4 680.4M334.1 691.7L335.6 696.9L337.8 695.9M337.2 679.6L338 684.4L339.2 686.3M323.9 674.8L323.3 678.8L320.4 680.7M333.1 654.4L329.5 656.1L331 657.6M341.3 698.9L344.4 699.5L342.4 700.3M322.3 646.7L324.7 647.8L324.9 647.5M333.8 645.7L333.6 648.6L331.1 645.9M319.1 668.6L322.2 670.5L320.2 671.9M353.2 664.1L358.4 665.3L355.9 666.2M347.6 673.5L345.2 674.3L346.5 676.8M354.2 695.1L354.9 698.8L357 698.1M324 646.9L326 648.3L328.6 647.2M328.6 702.5L326.6 705L324.2 704.2M325.7 701L327 705L325.6 702.3M354.3 649.4L351.1 652L349.8 654M332.2 703L331.2 705L333.8 704.3M344.5 688L343.5 689.8L344.6 691.4M321.1 650.6L324.9 651.4L322.6 653.5M331.5 703.7L329.2 705L327.3 704.6M340.5 695.8L337.6 696.9L334.7 697.9M344.3 683.2L340.4 686L341.1 687.9M317.9 700.8L316.7 702.8L314.7 703.7M326.4 700.3L328.8 703.1L328.8 705M326.3 697.6L323.7 700.7L326.4 703M347.2 677.2L350 677.6L350.9 675.3M342.2 665.5L343.9 670.1L346 671.5M333 676.6L327.8 676.9L328.4 674.3M354.4 647.7L358.4 649.2L356.6 650.8M344.3 654.8L339 656.3L339.9 659.2M349.7 672.9L345.2 675.7L346.3 673.2M329.5 686.5L330.6 688.9L330.3 686.7M334.3 650.8L332.5 652.9L335.1 650.6M341.7 683L345.1 685.4L345.4 686.1M320.7 673.1L317.1 675.2L315.5 674.2M353.3 648.1L353.6 651.9L353.2 648.9M317 694.7L317.4 697.7L317.1 695M315.8 693.9L313.9 695.7L312.8 693.2M326.9 675.7L324.3 678.4L326.3 681.4M338.7 647.6L342.6 649.3L340.4 651.7M314.6 648.3L311.1 648.3L311.5 648.9M317.6 664.8L319.4 669L321.1 670.2M320.5 672.2L318 672.9L317.1 673.6M358.8 646.5L356.7 649.5L356.9 651.5M316.5 680.3L319 684.2L320.3 683.7M319.1 690.1L316.8 693.3L318.3 696M323.5 685.7L321.1 687.4L323.5 686.2M356.9 679.4L351.9 679.8L353.5 679M333.5 679.6L330.7 681.6L333.1 679.9M336.5 653.6L339.1 655.1L336.4 655.5M341.1 668.3L338 670.7L339.1 668.2M327.5 646.2L331.9 648.6L329.7 649.2M329.7 684.7L325.2 686.6L328 689.4M330.7 703.3L328.5 705L327.5 705M351.7 650.8L347.6 652.3L348.2 651.7M329.9 668.9L327.7 671.7L329 674M316.1 646.1L313.5 646.6L315.3 646M322.6 645.7L323.5 649.7L320.8 646.8M325.5 697L323.5 699L322.9 698.5M345.3 661.8L347 665.2L345.4 664.8M347.1 674.8L350.3 675.3L350.7 673.7M330.2 678L331.3 680.4L333.6 677.8M354.6 650.6L353.9 654.5L353.4 655.2M353.5 663.8L356.2 664.3L358.4 664.9M347.4 668L349.8 671.7L350.2 674.2M319.6 665.2L316.6 669.5L316.4 671.2M317.1 682.7L319.4 686.5L318.2 684.7M324.6 687.7L321.4 691.8L320.9 689.2M350 660.1L347.7 663L347.3 660.2M322.7 689.1L323.3 694.2L325.1 694.4M358.2 645.1L359.4 648.8L356.7 651.1M319 679.2L321.2 681.7L321 680.5M320 684.4L319.2 686.5L322 684.1M322.5 661.6L324 665L326.4 662.6M339 681.8L341.2 684.2L340.9 686.5M348.5 673.3L351.7 674L353.6 673.6M330.4 682.7L334.6 683.2L335.7 680.9M331.6 695.5L334.2 698.3L333.3 698.6M330.4 665.3L326.1 666.3L329.1 665.4M333.9 666.6L330.9 667.9L332 666M337.5 660.9L334.3 661.8L337 662.2M328 677.5L323.7 678.5L325.7 678.9M341.1 653.3L337.4 655.4L338.3 654.2M347.9 676.1L350.8 680.7L352.4 681.8M351.5 686.1L353.4 691.1L355.8 692.1M332.4 674.5L337.5 675.3L339.5 675.8M333.9 692.4L337.3 692.6L335.8 693.3M328.6 680.8L325.4 681.9L323.1 679M351.3 672.6L351.6 674.7L349.3 671.7M354.1 647.8L356 650.9L356.5 649.2M342.4 682.7L340 682.8L338.8 680.4M325.6 657.6L330.4 658L329.1 659.5M350.2 692L354.3 692.3L356.4 693.1M340.4 670.1L337.1 672.1L336.2 672.1M334.2 656L331.6 660.3L332.5 657.3M331 690.2L334.5 691.7L335.6 691.9M327.5 646L326 648.1L326.6 648.2M346 651.6L341.4 652L343.6 650.1M345.9 667.3L343.2 670.9L342.7 673.6M332.6 672.6L331 674.5L333.4 673.5M353.7 653.6L357.5 655.1L355.9 654.7M321.4 687.7L318.4 691L316.2 688.2M339.4 649.8L336.9 652.9L339.5 654.8M342.8 693.8L342.7 696.8L340.1 698.1M343.3 682.3L343.2 685.9L345.7 685.2M318.6 701.1L314.8 704.6L317.7 704.2M319.3 674.1L319.4 677.4L321.1 675.9M357.6 657.5L360 661.3L358.4 662.7M324.9 669.1L325.1 672L327.1 674.6M355.5 654.4L359 654.7L360 655M357.2 703.3L355.6 705L355 702.4M330.5 689.3L332 691.5L332.2 693.9M342.3 651.5L342.9 654.2L344.8 653.7M332.8 696.8L335 699.6L337.9 698.5M337.4 683.3L339.4 686.9L339 688.9M338.2 687.9L337.2 692.2L336.5 690.1M329.1 664.2L333.8 664.4L333.9 664.3M345.1 648.9L349.3 650.7L346.5 652.9M335.9 702.1L332.8 703.5L331.8 703.1M348.2 672.2L344.7 676.5L346.2 676.5M346.9 674.1L346 677.5L348.6 680.4M338.7 678L342.5 679.2L345 677.7M348.4 660L346.6 662.4L347.1 664M313.5 694.6L313.3 697.4L312.1 697.7M346.8 655.5L349.6 656.1L350.4 655.5M347.9 687.9L349.5 691.6L347.4 692.3M342.4 659L341.2 661.1L344 661.4M355.3 684.5L358.9 687.3L359.6 686.6M344.6 689.9L343.1 692.2L345.9 694.6M332.4 699.7L329.2 699.7L327.3 698.2M335 653.5L338.4 656.6L335.5 657.3M331.2 686.9L333.7 689.6L332 686.7M352.6 666.6L355.8 670.8L355 671.1M318.6 669.3L314.1 671.2L316 673.6M322.8 648.1L326.8 649.8L327 649M345.5 658L344.3 661.2L342.2 662.9M320.7 692.2L318.1 694.6L317.8 692.9M318.6 686.1L320.1 689.7L319.3 688.3M319.7 690L320.2 692.5L322.4 690.4M322.8 654.3L321.9 658.9L319.1 661.5M345 694L345.9 697.5L343.4 696M352.9 661.8L348.2 663.3L350.8 661.2M331.9 694.2L333.5 696.6L330.6 696.8M337.9 657.5L340.7 660.6L338.8 662.3M353 669.8L356.7 671.4L355.4 669M345.3 678L347.2 680.2L348.6 682.7M328.5 679.5L331.3 681.9L331.8 680.7M340.4 677L342.8 677.3L342.3 675.2M337.7 680L335.7 684.7L336.4 686.3M317.4 696.5L313.5 697.4L315.4 697.7M332.4 654.5L332.7 658.9L334.5 661.3M336.4 700.8L337.2 702.7L336.7 702.9M348.3 658.8L352.8 659.1L351 661.2M338.6 653L338.3 657.7L336.6 660.4M314.7 653.8L313.4 657.9L314 660.5M321.5 647.7L321.1 650.9L320.5 650.3M353.5 661.8L351.2 665.1L349.9 667.6M324 662.7L327.7 665.3L328.8 664.5M317.5 680.1L319.4 683.6L320.4 680.6M314.1 693.3L312 694.2L311 693.8M351.1 663.2L348.8 663.5L351.3 660.9M340.3 702.3L336.9 705L336.1 705M354.5 661.2L350.5 664.6L348.8 664M348.2 678.8L344.8 679.7L344.5 677.7M324.9 696.6L328.4 700.4L330.2 700.8M326.2 645.1L330.8 646.9L333.5 649.6M325.2 700.3L325.8 703.5L328.2 705M343.9 661.9L346.4 662.7L345 660.9M338.8 663.6L342.8 666.7L342 663.8M312.4 677.5L316.4 677.9L313.5 677.7M341.1 676.9L344.9 680L347.8 681.8M355.8 702.3L357.4 705L356.9 705M319.9 658.4L320.5 662.2L323.4 661.2M312.2 667.9L311 668.8L311.1 669.4M351.4 664.3L349.7 669.3L352.5 669.7M327.9 683.4L325 686.6L326.1 686M345.7 665.7L347.4 667.3L347.7 665.3M325.3 662.6L326.6 665.7L329.5 665.9M337.8 668.6L337.1 673.4L337.2 673.5M328.5 655.9L330.3 657.4L329 654.6M331.5 678.8L335.9 680.4L335.6 681.2M332.2 691.9L330.9 693.9L331.2 692.5M347.1 666.9L348.7 668.2L351.6 666M323.8 699.9L327.2 700.5L326.8 701.5M348.8 702.5L350 704.4L348.3 701.5M324.6 681.6L322.4 682.4L321 684.7M339.6 668.6L341.7 669.1L340 669.8M314.7 674.7L313 675.7L311.8 675.2M340.7 688.4L338.8 691.4L337.8 692.1M333.6 699.8L333.2 703.9L334.2 703.7M335.1 684.2L333.4 689.4L332.3 689.3M357.8 693.1L357.3 696.1L355.4 695.6M332 670.5L334.6 673.2L335 670.8M343 686.9L345.3 688.5L342.5 688.4M343.7 669.3L342.6 673.3L339.9 670.6M335.8 699.6L333.7 702.4L332.2 700.2M342.4 690.1L343.1 692.3L341.8 693.5M348.2 668.6L345.1 669.8L342.2 668M353.8 686.6L356.7 687.4L356.1 687.3M313.2 699.4L312.9 702.3L311 702.7M355.8 687.4L351.3 689.6L352.3 686.9M326.6 679.3L327.3 682L324.7 684.2M343.4 662.6L343.8 667.7L341.7 668.4M323 698.4L318.6 701.5L317.9 701.5M327.1 665.7L321.8 666.5L324.7 669M335 684L331.6 685L334.2 686.8M325.3 666.2L323.9 668.3L322.4 666.5M317 698.6L312.1 698.6L312.2 700.1M344.3 671L344.1 673.5L342.6 672.5M328.8 683.9L330.8 685.8L333.1 687.5M355.8 691L358.8 693.1L360 694.9M322.7 673.5L322.2 675.4L320.6 676.9M343.3 671.4L342.5 675.1L341.6 672.6M346.9 690.6L347.8 695.2L349.8 696.3M350 702L355.2 702.7L354.9 704.3M346.6 650.8L346 653L347.4 652.1M329.7 661.1L326.2 663.5L325 664.9M320.7 692.3L319.2 696.8L319.9 699.7M344.7 672.4L343.6 676.2L342.3 675M349.5 693.3L345.2 693.7L345.2 693.1M345.1 683.3L340.6 684.1L339.9 682.8M314.1 691L314.9 694.3L312.2 694.3M354.2 661.4L351 664.7L352 665.3M323.7 684.8L322.3 690L322.4 689.1M354.6 681.8L356.6 685.6L354.5 683.7M353.6 672.3L351.3 673.9L351.1 672.4M349.7 680.2L350.8 683.4L349.1 681.7M344.5 663.4L347.6 664.5L347.3 667.4M330.1 668.8L325.6 669.2L325.4 668.6M322.6 654L323 658.2L320.6 658.1M320.1 680.5L322.2 684.3L323.9 683.8M330 649.7L333.3 652.2L335.1 650.1M357.9 698.9L359.5 702.5L360 701.5M329.2 687.6L329.4 691.1L329.8 688.8M334.1 662.4L337.4 664.3L338.6 664.5M335.5 684.5L336.8 689.8L335.1 686.8M338.7 686L339.9 689.2L339 687.6M349.2 695.9L351.8 699L351.5 696.8M346.5 676.4L341.3 676.5L343.7 675.1M317.2 692.8L321.3 694.3L319.4 695.5M314.5 650.2L311 651.7L311 654.5M348.9 658.3L346.8 661L346.6 659.9M322.7 662.9L324.4 664.9L326.7 664.1M338.3 692.9L337 695L339.7 697.6" fill="none" stroke="#2a2a2a" stroke-width="1.5" stroke-linejoin="round"/>
<rect x="309" y="878" width="51" height="61" fill="#e6e6e6"/>
<path d="M351.1 898.4L347.5 900.6L344.7 899.9M344.2 911.1L339.5 911.9L341.5 914.8M326.8 932.6L331.6 932.6L329.1 932.6M331.6 883.2L329.6 887.6L328 886M347.8 910.2L350.8 910.4L353.5 909M324.2 905.6L319.6 907.3L319 908.3M311.4 882.8L313 886.7L310.9 884M351.8 890L354.1 890.4L351.6 889.1M338.4 917.7L340.7 920.7L339.7 921.2M315.3 915.8L320.6 915.8L318.8 916.2M319.2 905.2L322.1 908.4L323.8 910.4M357.7 905.9L357.2 909.1L356 909.1M357.7 882.3L355.5 884.5L356.1 883.1M345.2 908.3L347.2 911.2L344.3 908.8M354.5 883.9L355.9 888L353.1 890.6M320.1 935.8L321 939L321.6 936.5M334.8 923.2L331.2 926L332.3 923.8M330.1 909L334.7 909.6L332.3 910M323.1 888.6L319 889.2L320.4 889.9M337.6 930.5L340.9 931.1L339.2 931.7M329.3 933.3L331.5 935.3L334 936.6M331 901L329.3 902.9L330.7 901.3M349.5 883.4L344.7 884.7L341.8 882.7M354.8 927.3L357.7 931.1L358.2 929.6M343.7 903.5L348.2 905.6L349.5 904.1M330.9 919.3L332.1 922L332.2 924.7M314.7 893.9L314.9 899.3L317.9 896.3M341.5 887.2L343.4 888.7L343.4 891.6M357.3 900.7L353.1 902.1L350.6 904.5M323.4 936.7L328.1 938.8L328.2 938.9M319 907.8L316.1 910.5L319 910.7M354.3 886.9L351.5 889.9L353.8 888.9M332.7 927L335 929.3L337.1 930.2M334 879.9L331.4 882.3L329.9 881.6M316.7 928.6L312.4 931.8L313.5 929.8M330.7 937.7L333.9 937.7L331.8 935.8M323.5 915.5L328.4 916.6L328 914.6M315 910L316.7 913.3L314.3 912.4M334.8 884L334.7 888.9L335.3 886.7M340.9 883.9L342.8 884.8L343 882.8M323.7 886.1L321.3 886.9L322.3 888.8M332 913.4L334.5 917.6L335.6 915.1M344.5 887.3L344.6 889.9L344.5 890.9M345.9 898.2L349.5 898.8L351.9 899.1M340.4 924.2L338.1 929L340.8 930.4M349.5 887.4L352.6 890.7L353.1 892.9M347.9 898.6L351.6 900.8L349.3 900.7M323.5 902.7L321.5 906.4L322.3 903.8M353.8 920.6L349.8 921.8L350.7 924.1M346.6 916.4L348.6 916.7L349.9 918.8M328.9 891.4L329.8 896.3L331.4 894.1M319.9 891.3L317.9 893.3L320.2 892.8M319.5 903.5L324.1 905.7L321.2 905.2M328.6 881.3L332.7 884.8L334.9 884.3M352.8 932.6L348.7 934.5L349.1 934.6M345.1 914.5L342.5 914.7L344.9 916.2M331.7 929L333.8 931.7L334.2 934.5M321.9 929L319.4 933.6L318.2 934.6M353.5 931.2L350.7 935.2L351.5 935.5M319.4 909.6L314.1 910L311.4 908.8M321.7 928.7L325.7 931.2L323.8 930.3M357.7 886.4L356.9 889.3L358.4 886.7M343.2 894.2L340.1 894.6L341.1 891.8M356 916.4L351.6 917.6L349 919.1M328.7 890.8L324.6 892.3L323.7 889.7M341.8 882.5L343.4 884L341.4 885.5M323.1 937.2L326.2 939L327.6 939M339.6 887.3L335.1 889.9L335.3 888.1M314.2 894.1L311.1 894.4L309.8 894.5M311.7 925.6L309.3 927.6L309 929.9M349.7 924.1L353.9 927.4L354.7 924.5M358.1 920.2L360 923L360 923.8M311.4 891.6L309.7 892.8L309 890.3M338.6 887.1L335.8 889.4L337.5 891.9M357.6 890.3L359.6 894.7L358.6 897.3M326.5 916L329.6 919.2L328.3 918.8M345.4 927.9L347.8 929L346.1 930.6M343 921.3L340.7 922.9L340.7 919.9M327.3 914.5L330.5 917.9L328.8 917.6M343.5 892.1L341.8 895L339.1 892.7M342 927.5L339.3 931.8L340.3 933.4M351.1 914.1L350.8 916.7L349.2 914.2M315.4 902.1L317.9 905.3L319.8 903.9M353.8 928.2L357.2 930.5L355.4 927.9M320.8 891L322.9 891.1L324.7 893.3M352.3 883.3L357.3 883.7L356.6 882.8M344.3 910.3L345.6 912.5L343.3 913.8M354.4 881.3L357.3 883.7L355.9 883.7M334.6 894.6L337.8 895.8L339.7 893.6M336.4 926.8L335.7 930L338.2 931.6M358.8 896.7L359 900.3L360 901M337 909.4L333.9 910.5L331.7 908.5M321.9 884.6L318 884.9L319.8 884.7M335.5 892.3L332.3 893.5L331.7 894.9M352.6 937.9L352.8 939L354.7 938.5M319.9 907.2L321.6 909.6L323.2 908.7M340.6 896.9L345.1 898.5L346.7 899.8M339.9 889.3L339.9 894.2L341.6 894.7M340.9 889.1L345.8 889.9L342.9 888.4M329.6 920.3L326.7 924.4L329.2 923M322.2 886.2L323.4 888.2L326.2 888.7M334.1 882.4L331.3 883.2L332.9 881.4M323.3 887.1L322.9 890.1L323.4 891.4M321.1 886.8L320.9 890.2L320.6 889.4M318.1 886.2L315.3 889.4L316.4 890.3M335.2 890.6L331.4 891.6L331.2 890.2M328.5 936.9L329.9 939L327.6 939M323.3 892.8L325.3 895.6L326.1 895M352.2 888.1L349 889.7L350.8 889.1M322.6 931.8L320.7 935.9L320.9 937.2M356.9 922.7L353.7 923L352.5 925.3M350.9 931.4L351.6 934.8L354.2 933M318.2 889.1L320.2 892L319.5 891.7M311.7 899.2L311.7 901.4L311.6 903.8M342 934.8L338.6 936.4L335.8 933.8M338.2 928.7L339.5 930.8L341 931.1M332.9 886.5L332.3 890.5L333.5 892.9M313.7 928L315.6 931L314.6 932.8M331.6 883.2L331.8 885.7L328.9 883M328.6 905.6L331.1 905.6L333.5 905.9M358 911L353.7 911.6L353 908.9M317.2 925.7L315.8 928.4L313.7 929.2M355.6 893.7L351.7 893.7L349.9 891.8M344.9 933.8L347.1 935.4L345 933.7M321.1 903.6L324.2 906.6L322.7 905.2M330.5 889L332.8 889.4L329.8 890.4M312.4 907.3L309 908.7L309 908.1M330.9 897.9L333.4 898.4L331.3 896.6M326.2 885.1L325.3 887.6L325.3 888.7M334.4 922.7L331.6 925L329.9 922.3M343.9 900.7L345.4 902.5L343.4 904.9M333.1 929L330.6 930.3L329 932.7M321.6 914.3L318 915L317.6 917.8M352.3 933.7L350.6 935.9L347.9 933M355.2 911L350.2 912.9L348.7 915.8M323.4 889.6L327 893.7L329.7 892.8M333.6 927.6L329.4 930.6L328.6 929M335.1 934.1L333.4 938.8L331.5 938.9M354.9 912.7L351.1 915.6L350.7 916.7M343.9 904.9L343.6 909.8L345.9 912.7M328 918.9L327.2 923.8L325.7 923.6M322.6 926.4L321.3 928L319 925.8M339 924.7L340 926.7L340.6 927.4M331.1 895L332.4 897.5L334.3 896.8M345 911.4L347.2 913.4L348.2 915.5M355 888.1L356.6 889.8L354.7 889.1M345.2 933L344.5 935.5L343.7 933.3M323.7 912.9L323.7 915.5L322.3 917.9M340.9 914.5L342.5 917.1L344.1 914.2M342 935.4L341.1 937.4L338.3 939M319.1 903.9L317.1 907.8L315.8 908.9M354.8 906.6L356.2 910.8L358.4 911.9M355.4 925.1L352.6 925.5L353.6 923.8M315.8 899.1L312.8 899.7L311.6 902.2M358.1 923.7L360 928.1L357.4 925.1M313.1 898.8L316.7 902.2L316.4 904.3M333.9 901L335 902.9L334.7 905.6M357.6 934L360 935L360 933M313.2 891.1L317.6 892.3L318.9 895.3M312.5 920.5L310.4 922L309 924.9M348.7 883.1L352.3 885.5L350.3 885.1M317.3 884.4L317.5 888.3L319.6 885.3M327.4 883.3L327 885.8L325.9 888.6M341.8 918.4L340.9 921L342 923.8M314.4 928.5L315.6 930.9L316.6 933M318.2 890.6L318.2 893.3L318.2 896.3M311.3 904.2L313.3 905.8L313.9 908.5M333 912L330.1 916L332.9 915M318.7 933.1L317 937.9L314.9 939M315.8 886.8L318.8 888L318.3 888.9M355.9 904.3L355.1 907.7L354.4 906.3M310.3 894.1L309 897.8L310.1 897.4M330.1 890.2L334.1 893.9L334.6 893.4M336.2 908.1L338.3 910.8L337.9 913.2M353.7 896L354 898.8L356.8 896.6M333.6 879.7L334 883.3L331.1 881.2M334.5 907L335.8 908.7L334.7 907.8M315.1 914.4L318.1 916.8L319.3 913.9M334.4 916.6L330.2 918L332.2 919M321 927L318.3 929.6L320.9 926.9M354.5 900.1L353.9 904.8L351.9 904.8M310.7 881.1L309 881.5L309 879.2M355.7 908.9L353 910.2L352.8 908.7M338.9 920.7L338 924.7L336.8 927.4M311 888.8L309 893.5L311.1 892M356.2 905.9L355.3 910.1L356 912.4M354 897.6L351.1 898.7L352.2 896.6M341.2 896.7L336.9 896.8L336.2 899.6M315.7 923.1L314.7 924.9L314.5 922.6M359 884.9L357.4 888.4L355.1 891M338.1 915.5L339.8 917.3L338.8 914.5M319.9 908.3L321.4 912.7L319.3 910.9M335.6 919.5L337.1 921.8L334.9 921M328.6 926L330.9 928.2L332.4 926.4M311.9 936.4L309 937.2L309 936.9M320.3 925.4L316.1 927L315.5 929M355.9 889.8L354.6 892.1L357.5 893.9M330.1 922.7L331.4 924.5L331.5 921.9M332.4 929.3L331.7 932.2L330 932.5M335 932.3L338.1 934.2L337.8 933.4M319.1 901.6L318.8 904.3L317.7 904.4M356.1 907.5L357 909.4L357.2 908.4M315.7 907L314.5 910L315.9 910.8M313.1 881.9L312.7 886L313.1 884.4M326.9 921.3L328.1 925L326.5 925.8M333.5 879.2L330 882.5L333 885.2M344.4 906.5L347.4 909.8L346.9 908.8M315.7 914.7L312.8 918.4L310.8 916.7M341.2 886.6L336.3 888.5L337.1 887M337.6 924.2L339.6 928L340.2 930.4M348 918.5L347.3 923.5L347.9 924.7M325.2 885.3L324.7 888.1L327.5 886.4M353.9 898.7L357.2 900.9L356.1 903.9M340.3 885L341.6 886.9L341.6 887.1M325.5 918.7L326.3 923.5L327.4 922M350.7 880.7L352.2 882.2L354.9 882.4M351.2 937.4L356.2 938.9L353.3 939M348.9 901.7L344.5 903.3L344.4 902M317.8 883.5L317.3 887.3L315.4 887.5M313.9 896.8L312.6 899L312.7 896.8M353.2 891.5L348.1 892.6L350.9 891.3M343.4 883.1L339 883.5L336.2 881.3M315.2 899.5L310.5 900.5L309.5 902.3M310.5 911.1L311.3 913.3L313.8 914.2M358.8 916.8L357.9 919L357.7 921.4M337.4 916.7L337.8 919.9L334.9 918.2M319.1 884.4L323.7 885.2L326.7 886.4M350.7 891.4L347.7 892.9L349.9 891.3M324.7 910.1L326.9 911.9L328.2 913.7M358.2 917.6L359.8 920.9L360 921.4M355 912.5L351.3 912.9L351 910.1M325.9 907.5L329.4 907.6L327.1 906.2M353.3 933L357.1 934.4L357 931.8M324.6 910.5L325.5 914.4L322.9 915.1M340 890.2L338.9 895.3L341.2 896M335.5 923.2L336.2 927.7L335.4 928M346 913.5L344.9 916.7L344 917.6M331.9 905L333 907.8L333.7 910.1M319.6 917.3L319.1 921.5L320.1 920.9M310.5 900.4L310.2 904.6L312.8 905.6M342 899.7L340 901.2L342.4 901.1M332.2 919.8L331.5 925.3L329.2 922.7M339.1 892.3L343.3 895.9L343.5 894.7M327.9 892.3L329.6 894.1L332.5 895.5M327.6 885.4L322.5 885.8L320.1 888M337 937.1L337.7 939L334.7 939M321.7 931L325.6 934.3L324.6 936.1M345 934.1L344.2 937.2L342.8 935.6M315.1 896.6L317.7 900.7L314.7 900.8M334.9 888.3L333.3 890.6L334.8 888.6M353 897.4L355.5 898.2L353.7 895.9M325.4 936.3L326.7 939L328.2 936.4M314.3 930.3L315.6 932.6L313.7 934M357.9 902.5L355.7 905.4L353.9 904.3M326.6 893.8L324.8 895.2L324.1 896.6M311.6 935.8L310.1 939L309 937.2M351.3 936.5L356.2 936.8L354.4 934.2M339.2 884.6L334.9 887L333.6 884.9M335.1 923.2L339.6 923.7L337.3 923M318.1 883.8L317.8 886.8L320.2 889.2M345.6 909.2L344.2 912L344 912.3M330.6 905.2L325.8 907.7L327.2 909.8M325 883.4L327.8 885.8L329.4 887.2M354.8 925L356.1 926.7L356 925.7M352.6 932.4L352.1 937.1L353.4 937.2M331.7 935.2L328.4 937.6L331.4 935.5M347.7 911.5L349 913.5L349.5 915.7M318.6 932L315.9 932.1L316.2 932M326.4 886L330 890L332 892.7M334.4 908.5L337.9 909.1L338.3 912.1M313.2 917.7L318.5 918.5L316.7 919.7M341.1 891.1L341.5 894.6L339.6 894M313.1 920.7L309.2 921.1L309 921.2M317.1 922.6L315.7 924.5L315 922.3M344.3 879.9L342.3 880.8L344.3 878.9M335.9 921L331 921.9L328.9 923.2M331.1 888.9L331.7 894.1L328.8 895.3M336.6 931.1L336.8 933.9L338.9 931.6M343.7 896.3L346.3 896.8L348.4 894.7M355 887.7L352.9 888.2L353.8 888.4M339.2 933.6L343.4 937.2L343.8 939M322.3 937.8L319.9 939L318.3 939M337.4 937.4L333.1 939L334.5 937M350.7 921.2L352.8 921.8L350.4 920.2M347.4 924.3L345.6 927L348.2 924.9M321.2 905L324.3 908.4L326.3 909.8M325.8 913.2L328 916.5L328.2 914.4M351.4 926.9L349.6 928.4L348 929.9M349.6 915.4L346.2 916.2L344.5 916M324.8 901.5L322.3 903.4L323.6 904M311.1 909.1L309 910.8L311.1 911.7M358.7 881.3L359.4 883.9L360 882.7M342.6 917.7L346.7 917.9L345.7 916.4M341.6 916.3L345.1 919.1L342.6 916.4M353.5 933.8L348.1 934.7L349.5 935.1M335.9 910.6L330.6 911.5L330.3 909.7M336.4 904L332 906.9L332.8 904.4M336.2 886.6L335.6 891.4L336.7 891.2M317.7 933.9L314.3 935.4L311.6 936.5M329.6 902.4L330.8 905.2L328.6 906.1M335.4 904.4L332.7 907.1L330.7 905.7M337.4 918.3L335.5 922.5L334.6 924.1M338.6 894L342.4 895.6L344.5 898.3M350 927.6L349.2 930.3L348 932.5M323.4 907.6L323.1 909.6L320.7 907.8M349 925.3L351.5 926L354.4 924M349.2 913.6L345 915.4L342.6 917M345.1 881.5L342.1 882L341.9 882.2M337.2 912.6L342.1 913.7L342.2 911.2M334.6 890.2L335.6 894.6L337.1 892.6M324.1 936.1L323.1 938.6L323.7 937.1M313.6 917.8L316 918.7L317 921.5M313.4 923.2L315.4 924.2L312.5 921.3" fill="none" stroke="#2a2a2a" stroke-width="1.5" stroke-linejoin="round"/>
<rect x="360" y="926" width="227" height="12" fill="#e8e8e8"/>
<path d="M525.4 936.1L528 936.2L525.2 935.6M433.5 928.9L431.5 930.2L432.3 928.1M508.1 928.3L512.6 931.5L511.2 931.2M509.7 937L509.3 938L510.3 938M492.5 930.8L490.6 932L490.9 932.3M567.5 934.8L570 937.1L570.6 936.4M375.1 936.9L375.5 938L373.4 935.1M566 928.4L564.9 933.6L566.5 934.1M425 933.7L422.8 935.3L421.2 934.8M495.6 935.9L494.8 938L496.1 935.9M385.1 927.1L384.2 931L384 931.3M403.3 929.1L402.4 932.4L402.4 934.9M466.2 934.4L469.8 935.1L467.1 933.3M403.4 930.8L408.1 933.4L406.9 932.2M377 930.7L373.9 933.1L376.3 933.8M505.9 931.3L502.8 933L500.6 931.4M540.4 927.6L543.9 929.8L545 929.6M507.8 931.2L507.2 933.2L506.7 936.1M490.4 930.4L488.4 935.4L488.2 934.9M545.9 935.5L549.1 938L547.9 937.1M541.7 930.6L538.1 931.6L540.3 929.4M452 927.3L447.4 929.5L447.3 929.3M579.3 930.9L580.8 932.9L583.3 934.7M479.6 934.3L475.8 936.4L473.5 937.3M557.1 931.8L558.1 935.9L556.2 934.3M514 936.9L518.1 938L518.1 935.2M397.3 930.1L395.9 932.1L395.1 932.8M530.8 937L528.5 938L528.8 938M485.3 933L486.3 935.6L487.3 937.9M514.5 933.6L511.6 934L512.1 935.9M507.8 927L507.7 931.9L505.9 931.2M582.1 931.5L581.5 935.6L583.6 935.3M563.2 934.1L564.4 938L563.2 935.3M470.2 927.5L473.1 931.5L475.9 929.6M398.3 930.5L398.7 933L400.6 930.9M482.4 929.7L481.3 931.9L481.3 934M364.8 928.9L369.6 930L370.6 928.5M563.5 928.7L563.7 933.3L564.3 930.7M371.6 928.8L366.6 929.7L365.4 927M503.8 929L498.9 930.7L500.6 932.4M536.2 935.3L537.8 938L534.9 938M461.1 936.8L458.3 938L459.5 938M499.8 927.1L502 929L503.2 931.5M502.4 934.6L501.4 936.9L499.9 937.4M530.6 931.2L528.8 933.8L527.7 931.8M454.1 932.8L459.1 934.6L456.1 936M439 936.4L440.3 938L441.5 937.3M545.1 933.7L545.9 937.9L547 936.9M404.8 933.5L404.4 935.7L402.4 935.2M381.2 932.2L382.2 935.1L383.7 936.5M376.1 933L372 933.1L374.9 931.5M410.7 930.3L412.6 932L411.1 932M543.6 934.7L548.3 935.3L549.1 933.9M362.5 935.6L365.2 936.8L364 938M573.7 936.2L569.3 938L569.1 935.3M413.9 928.4L416.2 929.3L415.1 926.6M427.4 935.6L430.2 938L432.3 935.1M524.6 932.4L529.7 932.9L531.5 930.5M577.3 932.8L576.2 935.3L573.3 936.5M521.5 928.8L525.5 929.2L524.3 928.3M556.3 932.7L560.5 934.3L561.8 934.7M575.6 931.8L574.6 933.7L573.4 932.5M457.7 932.1L461.8 933.7L459.1 932.2M492.7 927.2L495.1 931.4L496.5 930.6M398.6 934.5L396.5 935.4L396 935.7M517 929L513.5 931.2L515.3 933.9M514.8 933.7L516.5 936.1L515.8 937.9M495.1 929.8L491.5 930.9L494.3 931.9M526.4 930.4L522.7 930.5L523.7 930M478.7 928.8L480.1 931.9L481.5 929.9M405.5 933.4L405.9 938L403 937.7M548.1 934.6L549.8 938L549.1 935M379.3 929.3L376.8 930.3L375.5 930.7M517.9 933.5L519.7 936.1L516.7 937.9M445.9 929.9L448.8 932.2L446.7 931.1M384.7 928.9L384.4 932L382 934.3M374.4 931.1L375.7 932.9L374.5 932.5M516.1 929.6L518 934.4L518.8 934.1M408.7 934.9L406 935.5L408.1 934.7M468.7 927.3L470.8 929.2L469 931.2M575 930.2L572.5 932L573 930.1M565.6 932.2L564.2 936.7L564.4 936.7M521.1 931.7L520.4 934.7L518.3 933M579.5 932.9L582.2 933.1L582.7 933.1M583.5 936L587 937.1L587 938M575.5 930.8L573.7 934.8L575.5 936.1M545.6 930.4L542.3 932.8L545.1 931.8M500.4 935.6L497.2 938L495.1 935.9M432.6 933.5L436.8 934L434.6 932.1M423.5 932.5L420.1 936.6L418.5 934.1M554 932.9L549.6 934L547.4 933.2M410.3 931.5L413.5 935.4L415.8 933.6M585.9 936.6L587 938L587 938M442.7 933.3L440.3 935.4L440.2 933M396.1 935L398.7 938L398.2 938M425.2 927.9L423.8 930.4L422 930.2M472.6 935.9L470.6 938L470.2 938M390.2 930L388.5 935L389.1 933.3M578.7 935L581.2 937.1L578.4 938M410.1 935.3L407.1 938L407.5 936.5M369.1 932.9L372.9 933.1L374.6 930.9M459.3 932.4L461.7 933.6L462.4 931.7M395.3 929.2L390.2 930.2L387.9 930.7M453.5 927.3L456.5 930.3L453.6 933.1M425.3 930.5L422.8 930.9L420.6 930.7M431.5 930.2L430.1 935.3L429.6 932.6M444.9 935.5L445.4 937.7L443.9 936.1M439.9 930.2L437.6 934.1L434.9 931.9M546 935.8L543.9 937.4L545.1 934.8M512.9 929.2L508.6 931.6L508.4 933M573.5 935.9L571.7 938L570.8 938M392.7 931.6L394.9 932.2L395.9 931.8M407.7 936.5L410.1 938L410 936.1M584.6 934.6L581.7 935.6L584.2 938M572.9 928.8L574.9 929.9L572.4 931.1M372.4 931.6L374.4 935.7L371.7 937.1M576.6 930L577.9 934.4L576.8 936.4M585.2 929.2L585.4 931.7L585.8 931.1M579.8 934.3L574.9 934.4L576.9 933.7M510.6 928.1L513 932.8L515.9 930.8M472.3 931L470.8 934.8L469.4 937.1M462.3 934.8L458.8 938L458.9 938M534.7 929.3L539.5 930L540.6 931.5M541.1 929L537.1 930.6L539.8 930.9M555.7 927.6L559.1 929.5L560.1 928.8M377.2 935.9L382.2 937L380.6 938M494.4 929.4L495.9 931.8L496.1 930.5M483.4 929.8L487.5 931.5L486.1 934.1M452.2 929.6L448.9 933.6L448.1 935M435.6 936.9L436.9 938L433.9 938M501.5 929.9L502.5 933.2L501.6 931.3M483.5 933.7L488.6 934.1L487.1 933.9M410 933.7L411.2 937.6L410.6 937.6M380.5 936.8L381.2 938L383.3 936.8M539 931.2L542.7 932.7L541.4 930.9M583.7 936.4L584.1 938L585.2 936.8M390.1 932.8L394 935.4L394.5 933.8M535.8 936.7L536.1 938L535.8 935.1M465 930.5L461.3 931.5L464.1 929.5M447.2 927.1L451.6 927.9L448.8 926.2M458.7 936.2L460.2 937.6L461.4 938M392.2 936.3L387.4 938L389.3 938M518.8 928.2L517.4 931.2L516.4 930M379.2 935.1L377.7 936.5L377.8 933.6M483.6 928.7L480.6 929.1L480.7 927.6M564.4 927.1L566 929.4L567.5 928.6M554.9 930.3L558.2 931.7L555.7 929.6M478.7 932.7L480.7 934.4L480.8 934M469.4 933.7L471.2 934.6L468.6 936.4M519.1 928.5L520.7 931.2L523.2 930.7M521.7 927.9L524.5 928.2L525.3 927.9M557.2 935.2L554.5 938L557.3 938M381.1 931L384.8 932.8L384.9 930.4M378.9 931.6L377.6 934.8L377.4 935.6M518 934.1L518.7 936.6L521 933.8M407.3 928.9L406.1 932.9L403.7 933M490.3 933.9L494.8 934.9L493.4 934.2M389 935.4L387.2 938L387.3 935.7M451.3 927.8L455.9 929.3L452.9 928.6M370.4 934.6L368.3 934.7L367.5 937.6M417.4 930.1L412.2 930.3L411.5 931.3M539.7 930.5L543 930.6L544.1 933.4M460.4 931.1L461.9 934.9L459 937.4M575.7 927.3L578.8 927.4L576.6 929M556.7 932.5L554 932.9L552.1 932.3M462.6 929L458.1 930.1L456.8 928.5M424.8 931L422.6 935.1L425.3 932.6M405 930.8L401.4 931.3L402.8 933.3M464.7 930.8L461.5 933.5L464.4 932.1M575.5 931.9L571.6 933.6L572 935.7M379.1 929.8L379.3 934.7L377.4 936.4M380.8 930.5L381.4 935L381.5 937.1M516.8 930.8L516.6 934.2L518.9 933M401.7 929.4L405.1 932.9L406.2 931.3M455.5 935.9L452.7 936.3L455.4 933.6M585.7 930.2L583.6 930.5L584.7 933.1M545.5 932.7L548 934.1L550.7 936.3M410.8 930.4L409.7 933.3L408 935.5M386 933.3L387.1 936.8L389.3 938M535.2 927.2L531.3 929.8L528.3 928.2M525.4 935.7L524.7 938L522.3 936.6M545.6 934.9L548.6 937.5L548.2 938M450.6 930.2L447.4 933.2L446.5 934.5M420 932L422.7 933.8L422.2 931.3M431.1 930.5L433.1 933.7L435.5 935.8M427.5 928.3L432.4 929.7L434 931.2M565.3 931L567.3 932.2L566.7 933.8M380.2 931.4L382.8 932.1L383.1 933M573.1 930.2L574.7 931.7L572.8 928.9M361.3 928.2L360.9 931.7L363.3 931.6M380.6 928.5L377.4 932.8L378.9 931.3M438.7 931.4L439.4 934.3L437.3 931.5" fill="none" stroke="#2a2a2a" stroke-width="1.2" stroke-linejoin="round"/>
<rect x="586" y="908" width="26" height="29" fill="#e6e6e6"/>
<path d="M608.1 935.3L604.8 935.6L605.9 933.8M589.7 909.1L592.1 913.2L592.3 911.6M598.6 923.6L601.5 925.7L604 925.3M610.8 928.5L612 930.6L612 930.2M591.5 926.8L594.5 928.8L592.4 928.3M610.2 925.1L610 929.3L611 929.9M593.8 914.7L592.1 919.7L594.4 919.6M594.1 924.9L597.8 925.4L599.5 928.2M589.2 914.4L589.4 918.5L592.2 916.2M590.1 922.1L588.4 923.4L587.7 924.6M597.1 913.8L601.6 914.9L601.7 915.1M603.4 929.6L604.4 932.7L606.9 930.2M605.6 921.4L605.3 924.3L608 923.1M594.7 910.6L590.1 912.2L587.4 910.1M593.9 909.8L594 914.7L595.3 914.8M610.5 917.2L612 919.7L612 919.5M590 922.3L586 922.8L586.7 925M598.7 922.4L597.1 924.6L597.7 924.6M594.2 922.4L597.8 924.7L595.4 924.4M588.3 923.6L593 925L590.1 926.9M594.2 934.8L595.5 936.9L596.5 935.4M606.5 921.9L609.2 924.9L607.6 923.5M589 915.4L590.9 917L590.4 916.7M601.3 923.9L599 927.4L598.8 929.5M590.4 916.4L595.6 916.6L597.9 916.1M607.2 924.2L602.2 925.3L601.2 924M597 934.8L597.3 937L594.4 936.3M609.2 920.3L605.1 923.4L607.7 924.8M598.9 917.1L594.2 918L595.6 915.3M602.6 927.6L605.4 928.9L605.2 927.4M589.6 913.1L589.8 915.1L591.6 914.6M593.7 915.8L595.9 919.2L597.2 918.8M604.2 924.5L600.4 927L602 924.2M595.4 912.1L593.2 913.4L595.8 912.5M590.7 927.8L593.4 929.6L593 930.4M599.4 926.9L595.1 930.2L595.9 929.7M598.9 918.4L595.5 920.3L596.7 922.2M603.7 932.9L604.4 937L606.7 936.9M606.7 916.5L611.1 918.9L611.4 921.7M601.4 916L606.1 917.9L604.7 915.9M599.7 928.4L599.2 930.5L600.9 931.5M594.8 933.9L594.9 937L592.4 935.8M605.1 927.5L602.5 931L599.7 933.2M588 915.5L590.2 918.6L587.8 918.2M590.4 918.1L591.5 920.2L593.3 917.4M591.8 933.1L593.4 937L592.2 937M599.7 919.9L596.2 920L598 920.1M595.4 931.8L593.4 932.3L594 933.8M599.2 919.9L597.6 921.9L597.4 920.1M607.7 930.2L609.3 934.7L609.5 935.6M592.7 929.8L590.3 934.7L588.8 934.2M605.7 916L602 919.3L600 920.7M594 916.4L596.1 920.6L596.9 919.9M603.4 930.9L607.5 933.8L607.6 934.6M607.7 914.8L608.1 919.2L605.2 918.6M600 921.1L599.9 926.1L597.6 927.4M593.8 911.3L594.1 913.7L593.8 911.7M597.7 912.7L594.9 912.7L594.6 913.4M603.2 912.5L600.2 914L597.7 913.6M601.9 918.7L599.9 921.1L601.8 923.7M606.6 910.7L607.6 914.4L606.9 912.5M601.1 912.2L604.1 914L607.1 913.3M610.2 927.2L607.9 931.8L608.4 933.3M598.3 930.5L596.5 931.2L599.1 928.4M602.4 911L599.8 913.4L597.6 915.5M592.9 933.3L594.4 937L594 937M595.5 922.9L597.9 925L595.6 923.5M593.7 927.6L596 928.7L598.8 929.6M589.1 932.4L586.1 935.2L588.8 935.4M590.3 909.3L593.8 910.3L594.1 912.3M588.7 910.9L591.8 911.9L594.4 913.6M588.1 925L590.4 926.5L589.3 924.9M594.1 915L596 918.6L596.4 920M593.7 909.7L593 912.7L591.3 912.2M609.7 925.2L608.4 926.8L608.6 928M607.8 929.5L612 930.4L609.1 932M598.3 934.1L593.8 934.8L591.2 935.7" fill="none" stroke="#2a2a2a" stroke-width="1.5" stroke-linejoin="round"/>
<rect x="591" y="652" width="22" height="50" fill="#e6e6e6"/>
<path d="M594.4 673.4L597.2 674.6L594.5 674.8M593.8 664.7L591.5 666.6L592 668.8M604.7 692.3L601.9 692.9L600 695.9M610.4 668.5L608.1 669L606.5 671.2M594.1 694.4L597.7 697.4L595.4 697.4M603.5 679.8L601.6 680.7L602.8 682.8M602.4 664.3L599.6 666.4L598.2 668M607.3 692.6L607.3 694.6L604.5 694.9M592.7 682.8L597 684.8L594.2 685.9M596.5 701L596.8 702L598.9 700.7M611.4 667.2L613 667.5L612.2 668.1M593.3 696.4L591 699.4L593.9 696.7M605.7 694.1L608.6 695.9L606.8 698.5M601.4 692.9L604.3 695.8L605.8 694.8M597.4 657.1L596 660.2L594.2 659.2M598.4 659L597.7 661.4L595.9 660.6M611.8 687L613 690.1L613 689.1M607.9 683.2L607.1 688.3L608.1 689.2M610.7 674.9L612.7 675.5L613 675.4M609.5 699.7L611.4 701.6L611.8 698.7M594 656.6L596.1 659.4L594.3 660.5M607.2 693L606.5 697.6L608.3 698.9M598.3 680.6L595.9 682.1L595.1 679.2M604 658.5L604.5 661.1L602.2 663.4M598.6 699L595.8 702L595.7 702M608.2 662.1L607.8 665L606 663.4M607.8 697.8L608.3 700.4L606.4 699.2M599.4 695.4L599.1 699.1L599.9 697.2M599.4 674.1L602.4 674.8L602.8 675.4M597.3 656.5L596.8 659L593.8 661.7M606.6 698L609.2 701.9L611.3 702M592.7 666.2L594 669.4L594.5 667.5M596.4 654.1L597.2 656.4L595.6 653.5M608.9 663.9L608.8 667.9L606 668.2M608 664.5L606.2 668.6L606.6 667.8M602.2 685L603.1 689.5L604.6 691M600.7 660L603.3 661.6L603.6 659M598.2 660.1L597.9 662.8L599.8 660.1M599.1 688.9L596.2 690.5L598.9 692.8M603.3 668.9L606.9 671.4L604.2 672.3M596.6 662L595.4 665.1L592.7 663M607.8 671.7L604.6 674.3L601.6 673.4M604 664.7L609 666.9L608 667.9M600.8 700.5L602.4 701.8L603.3 702M608.7 658.3L611.8 660.2L610.5 658M594.8 655.1L595.4 657.5L592.5 655.1M606.1 684L608.3 688.3L605.6 687.8M610.7 655.5L613 657.2L612.1 654.6M608.8 691L607.9 694.3L608.2 694.3M603.4 668.4L600.2 670.5L598.6 671M607.6 676.9L609.6 680.2L610.7 678.3M609.7 672.7L610.7 676.3L612.2 674.4M595.7 676.4L599.2 676.6L597 674.8M599.3 696L598.3 698.8L599.1 698.9M592 674.1L591 678L593.8 675.1M602.3 671.3L603.1 676.1L602.7 676.3M607.2 694.7L606.2 698.4L603.8 697.7M595.8 690.1L594.5 692.2L595 694.5M609 671.1L610.5 674.6L610 677.4M609 695.9L606.7 695.9L609.3 695.1M597.2 681.8L598.1 684.4L600.9 682.5M593.7 671.9L591 674.4L591 673.8M594.8 691.3L592.8 693.2L593.8 695.5M599.2 664.1L596.3 667.1L595.6 664.1M598.5 686.8L601.5 688.9L603.2 687.9M594.5 685.4L592.2 688.9L594.7 688.1M602.2 674.7L599.4 676.1L597.8 675.3M608.5 688.7L612.5 691.4L613 690.4M607.8 686.3L606.8 688.9L603.8 691.1M598.6 692.5L594.1 694.7L595.5 696.1M608.4 698.2L603.5 699.5L602.4 702M593.8 661.8L591 663.4L593.7 662.4M593.3 660.2L591 661.9L591 662.8M592.7 698L594.4 700.1L594.3 699.9M601.8 687.5L605.8 690.1L604.7 689.5M609.9 688.5L606.8 692.1L606.3 691.2M602.5 693.7L606.3 696L606.1 698.7M606.2 697.3L607.2 700.7L605.7 699M598.3 663.3L596.7 666.9L598.1 668.4M611.4 678.3L610 681.9L609.9 681M598.2 668.9L598.1 672.5L598.4 673.5M611.7 681L608.6 681.1L609.3 681.6M601 675.1L605 678.7L602.5 680.6M601.6 669.6L604.6 674L603.6 674.5M600.3 684.8L599.6 688.6L597.3 685.7M605 653.1L604.8 656.1L606.3 655M593 660.6L595.1 664.3L596.4 666.3M611.1 679.7L613 680.3L612.1 681M595.5 672.1L598.6 675.1L601.3 674.3M602.1 683.5L599.7 685.7L598.3 686.7M598.2 676.9L596.6 680.5L599.5 679.6M596.3 672.5L591.6 674.1L591 672.1M596.7 690.4L595.3 692.5L597 694.7M608.3 669.7L605.8 671.3L608.4 669.1M599.9 667.6L595.9 670.1L596.1 670.3M597.8 681.2L602.3 681.9L605.1 681.6M601.3 681.1L603.2 686L601.5 685.9M605.8 688.8L607.2 690.8L608.3 688.6M608.5 653.9L604 655.7L604 658M607.6 685.3L609.2 687L606.9 684.5M605.5 686.7L602.2 687.2L601.4 689.4M607.8 700L613 700.2L612.5 702M596.2 679L592.9 682.2L594.1 679.7M610.3 655.6L606.9 657.8L607.7 656.1M607.8 689.5L611.5 693.2L611 695.3M596.6 670.9L598.3 672.2L596.2 670.2M602.3 676.2L607.3 677.9L608.1 678M597.5 673L594.1 674L594.1 676.5M600 694L604.4 694.9L602.1 693.6M593.7 695.3L591 696.9L591 694.5M602.4 696.1L601.1 697.7L604 700.4M603.8 654.1L601.2 657.3L598.2 657" fill="none" stroke="#2a2a2a" stroke-width="1.5" stroke-linejoin="round"/>
<rect x="425" y="631" width="190" height="22" fill="#e6e6e6"/>
<path d="M429.3 633.2L426.8 637.2L425.8 635.1M477.5 636.6L477 639.5L479.4 636.6M469.2 644.5L469.6 646.7L468.9 645.4M576.1 636.8L574.3 640.7L573.8 638M526.6 634.2L530.4 637.8L528.4 640.5M455.9 632.6L460.9 633.1L463.2 631.7M490.9 638.8L489.6 641.6L489.5 642.5M477.7 634.7L475.7 638.5L472.7 638.1M585.1 643.9L582.3 648.5L580.5 647.9M453.8 650L452.5 653L453.4 652M559.5 637.4L559.4 641.6L561.1 640.1M567.8 642.9L566.9 645L567.1 642.6M544.5 647.8L545.7 651.1L546.5 651.5M610.2 648.8L608.4 651.5L605.7 652.6M468.1 646.1L465.8 650.5L463.1 650.4M490 638.8L493.4 642.4L493.1 642.7M448.1 643.1L447.1 645.3L446.2 643.9M529.9 633.6L526.5 633.8L529.1 631M567.1 650L567.8 653L568.5 651.8M472.3 650.3L470.7 653L470.4 653M565 637.6L566.9 640.5L564.3 640M447.6 645.3L449.2 648L447.5 646.5M469.1 649.7L469.7 653L468.6 653M538.5 635.4L537.5 637.1L540.4 638.5M466.2 640.6L461.6 641.9L463.4 642.4M463 645L462.4 647.5L459.8 647.6M598.5 638.6L597.5 640.7L599.7 643M482.5 646.4L480.1 648.9L482.4 646.2M480.1 634.3L476.2 636.7L474.6 637.7M522.1 643.4L523.2 647.2L523.5 646.1M495 635.3L493 639.7L491.4 640.3M499.3 635.6L501.4 636L502.9 633.8M479 642.2L482.3 644.5L482.1 642.9M553.6 644.8L550.4 645.3L552.1 646M533.4 632.7L535.4 635.6L532.7 633.2M580.9 634.2L580.4 637L580.6 636.4M476 641.1L479.4 645.2L479.2 643M565.5 635.3L562.2 638.7L564.8 638.8M566.5 647.8L563 650.1L565.4 651.6M497.9 639.4L493.3 641.9L492.5 644.4M575.2 645.9L576.7 648.5L575.4 649.6M513 636.5L517.4 638.6L515.5 636.6M525.9 633.1L526.7 635.7L528.8 636M518.8 641.4L523.8 641.7L526.4 638.7M532.2 647.7L527.5 650.2L529.9 652.5M453.6 651.9L449.3 652.1L451.6 650.7M507.2 634.2L507.7 639.6L509 639.4M485.2 636.2L485.9 639.2L485.8 639.6M502.2 643.9L503.2 647.5L503.1 649.5M594.2 643.7L592 645.8L590 644.7M452.1 647.3L448 648.4L446.4 646.2M571 643.5L575.9 645.9L577.4 648.7M610.9 647.7L605.7 648.8L603.7 647.9M527 644.8L529.6 646.1L531.2 648.9M515.4 650.7L510.6 652.6L508.8 651.9M550.8 648.2L548.7 649.5L549.7 646.6M484.4 633L484.3 635.5L485.3 634.9M578.3 638.5L575.8 638.5L573.3 638.5M520.5 648.9L523.1 649.1L521.6 648.7M580.4 645.3L582.8 647.5L584.4 647.9M446.3 639.2L449.9 639.5L448.3 638.3M489.8 649.3L492 649.9L489.8 649.5M507.8 650.6L505.9 652.8L503.7 653M582.5 636.5L580.1 638.7L582.8 641.4M458.8 648.1L457.8 651.3L457.9 653M516.5 643.3L516.5 645.4L518.1 643M595.2 632.1L594.6 635L595.7 635.7M566.4 648.4L564 648.5L562.4 648.4M600.5 639.9L603.5 642.3L602.4 639.7M577.8 641.1L575.7 642.2L574.7 639.9M585 640.9L584.3 643L583.9 642.3M558.4 636.7L555.3 636.9L555.3 636.7M490.5 633.1L495.7 633.8L498.6 634.5M451.1 635.9L452.2 637.7L451.3 636.4M487.3 648.8L486.3 653L485.2 650.4M569.4 646.6L566.6 648.4L568.5 646M561.7 645.9L560.8 649.9L560.6 649.5M515.3 644.2L512.5 645.6L512.9 645M458.2 646.1L463.3 646.2L460.6 644.2M566.1 640.7L568.3 643.7L570.9 644.6M493.8 651L495.5 652.6L496.9 653M575.6 639.9L574.2 642.2L572.8 644.9M586 650.9L585.3 653L584.4 652.4M600.3 646.9L597.8 647.4L597.3 649.9M600.3 648.4L597.5 649.4L598.8 647M512.1 632.2L512.7 634.9L512.2 635.9M553.1 649.6L550.1 650.3L549.1 649.8M473.7 648.9L470.3 651.5L471.2 650.2M478.2 647.2L483.4 648.8L481.3 647M569 650.2L573.6 652.7L573.7 650.5M528.7 636.6L526.8 640.4L528.8 642.9M588.1 645.5L584.8 649.3L586.8 649.3M602.8 651.2L605.1 652.8L605.8 653M505.4 642L508.2 644.1L508.7 645.6M558.7 634.1L561.7 636.3L563.3 635M564.8 636.6L567.7 640.6L565.8 642.7M529.5 632.5L529.9 636.4L527.6 635.6M517.3 641.5L514 642.3L516.4 641M566.1 635.1L564.9 639.6L566.9 636.9M565.9 635.1L562.8 635.4L565 633.4M611.5 642.8L615 646.1L615 647.4M506.5 636.6L504.4 641.2L505.8 642.4M437.7 641.2L440.1 644.3L441.1 644.9M426.5 638.1L428.7 640.9L427.4 639M467.9 641.8L465.3 642.8L468.1 643.8M594.5 649.7L590.8 653L588.9 653M493.8 635.3L496.6 638.6L494.4 636.2M585.1 648.3L587.7 648.6L584.8 648.8M611 635L610.2 638.5L611.5 639M563.7 634.1L558.9 634.5L556.6 631.5M578.7 647.5L580.6 652.4L581.4 652.5M433.7 641.7L435 645L434.1 647.1M495.4 633.9L498.9 637.4L499 636.5M590.7 651.7L591.3 653L590.2 650.7M590.2 646.2L592.5 649.8L594.6 652.8M458.6 641.2L457.1 644.4L457.2 644.1M503 643.5L504 646.3L503.5 648M455.1 641.5L459 645L456 644M607.2 646.2L610.6 649.3L610.6 646.9M445.6 632.9L447.7 635.6L450.5 637.9M529.5 645.3L527.7 649.8L526.9 650.7M466.8 636.5L469.1 639.1L467.9 639.7M433.5 638.3L432 642.8L433.7 642.4M543.3 632.5L539.1 633.5L540.8 631.2M503.8 638L499.7 640.2L497.6 643M464.6 634.7L464 638.1L466.7 635.4M596.6 646.3L597.9 648.4L599.2 645.6M481 633.7L483.5 638.5L485.6 638.8M547.3 644.6L543.5 647.7L546.3 650.4M490.4 651L492.1 652.7L493 650M590.7 651.6L588.3 653L588.5 650.3M509.9 648.5L512 649.9L511.2 649M488.7 638.5L492.8 639.4L492.8 640.1M487.2 650.1L484.2 652.6L483.5 653M508 640.3L507.5 642.5L507.5 640M598.8 647.8L601.3 648.8L602.3 649.1M502.3 640.2L504.9 642.4L502.2 639.8M470.3 632.5L472.3 634.4L471.4 634.9M612.4 646.1L609 648.2L610.6 649M427.6 639.3L431.6 641.1L430.8 640.7M455.2 651.4L456.8 653L456 651.9M461.5 645.9L462 647.9L464.6 645.6M589.1 651.7L588.4 653L585.5 651.2M575 645.9L577.8 647L575.2 648.7M546.6 639L545.8 642.7L544.4 642.9M427.5 646.4L425 646.7L425 647.3M554.6 647.5L557 651.4L556.2 653M521.4 643.5L518.9 644.3L518.9 643.4M437.5 647.6L439.6 649.1L437.4 650.7M558.5 638.6L558.6 641.8L558.5 639M480 651.2L482.4 653L483.1 652.8M542.7 645.9L541.6 650.5L540.4 648.9M512.5 647.8L512.5 649.8L512.3 652.1M457.4 643.4L459.9 646.5L461.4 645.5M458.4 641L456.4 641.1L455.2 639.4M514.9 647.7L514.1 651.7L512.4 651.9M566.8 638.6L572.2 639L572.2 641.8M540.8 638.8L545.3 641.6L546.9 642.1M429.4 638L430 640.3L429.8 640.1M464.3 642.5L459.3 643.3L461.3 642.1M469.8 641.6L467.1 642.1L464.5 644.2M428.2 642.2L425 642.4L425 641.2M567 645.6L570.5 646.5L570.4 644.5M450.5 638.2L452.2 643.3L451.2 645.7M429.9 641.3L431.8 642.4L430.6 643.5M540.1 637.8L537.2 641.1L539.4 642.3M442.9 647.6L437.9 648.4L438.8 646.1M588.9 641.9L585.4 645.8L583.7 643M602.1 649.8L605.6 650.8L607.7 651.5M524.1 651.9L527.4 652.2L525.3 653M535.8 637.2L531.1 639.3L531 642M466.5 645.8L463.7 645.9L464.9 647.9M588.6 637.3L589.4 639.6L589.5 641.8M481.8 649.6L484.3 652.3L485.2 653M603.1 639.1L604.6 643.5L606.4 645.3M476.3 649.3L473.3 652L472.3 653M439 646.8L440.2 651.3L440.7 650.5M485.6 642.1L488.2 643.3L489 641.4M598.8 642.6L600.2 644.8L598.8 644.2M451.6 638.2L446.3 638.8L448.8 641.5M558 651.3L556.6 653L554.6 653M607.3 650.8L603.8 651.1L604.9 653M561.8 649.1L558.1 650.7L560.4 649.8M581.2 640.7L585 643.7L586.8 644.6M514.5 637.2L510.7 639.3L511.7 641.2M431 647.9L428.8 649L426.1 651.2M475.2 642.7L472.6 643.3L472.5 640.6M590 649.2L591 653L588.9 653M578 646.6L581 646.9L582 648.9M518.6 645.7L519.1 649.7L517.8 647.9M589.7 643.1L591.3 645.6L590.3 645.7M455.6 641L457.1 644L456.3 641.3M592.3 638.1L588.6 641.8L587.9 640.9M553.2 650.9L552.7 653L550.4 651.9M511.4 645.1L513.1 649.3L515.1 647.8M525 634L527.2 637.4L529.1 635.6M576.5 645.2L574.6 646.4L574.7 644.3M571.6 645.6L575.7 649.2L578.1 648.5M466.7 647.5L469.1 651.9L467.8 653M492.4 643.8L494.7 647.3L492 646.4M492.4 643.8L489.4 646L492.1 643.9M563.8 639.9L566.3 641.9L565.5 641.8M518.1 647.8L515.4 649.9L517 650.5M432.5 648.6L428.5 650.1L428.6 652.5M610.3 643.6L614 644.3L612.2 644.1M539.1 636.4L542.8 637.2L543.9 637.3M579.4 652L576.2 652.2L575.9 652.7M467.1 650.8L463.1 653L462.4 653M523.9 634L526.9 637.2L529.5 634.5M489 642.2L489.9 645L487.9 643.9M436.8 637.6L441.7 638.6L442.6 638.6M486.6 645.6L488.9 649.9L491 648.3M523.2 639.3L520.4 639.4L517.6 637.8M603.1 644.4L600.6 647.2L601.8 646.7M524.7 645L520.5 648.2L521.3 650.2M456.4 636.1L454.2 636.7L454 635.1M528.5 638.1L526.2 638.7L528.2 641.5M502.2 648.1L501.2 650.7L501.3 648.5M484.1 633.5L488.4 636.2L488.5 638.4M512.4 638.2L512.5 641.4L515.4 638.6M463.2 636.4L463.2 639.8L460.9 640.4M591.9 642.9L593.7 646.2L592.2 643.5M483.1 639.7L480.5 641.9L482.8 639.6M484.9 635.5L482.9 637.1L483.3 637.2M564 642.5L567.3 646.7L567.2 644.7M528.4 642.3L530.4 642.9L530.4 644.2M493.7 644.9L496.8 648.2L498.6 648.4M598.8 640.2L599.6 642.1L598.9 643.6M571.1 640.6L571.8 644.7L569.2 644.8M585.2 634.5L588.8 635.4L589.5 634.7M504.3 650.7L498.9 650.8L496.9 649.7M475.7 650.2L474.3 653L471.9 653M609.5 636.6L610.8 638.2L612.8 636.6M457.9 649.4L456 652.4L454.5 653M490.4 646.8L489 649.8L491.8 649.3M474.5 636.5L478.1 636.9L480.7 638.3M491.2 638.1L487.3 640.9L486.1 639.4M475.4 648.2L475.7 652.6L476.7 653M527.8 632.5L526.4 635L528.6 635.5M555.3 645.7L550.9 647.9L553.5 649.9M473.8 646.9L475.8 651.1L476.2 651.5M443.6 635.6L445.7 636.6L447.9 639M491.8 641.1L490.8 645.4L488.3 648.3M431.7 634.3L429.7 636.7L430.5 637M516.4 642.4L513.5 644.2L515.1 644.8M592.3 634.1L593.6 635.8L590.8 636M511.7 635.7L514.1 636.9L516.5 637.3M504.4 643.4L505.1 647L502.6 649.9M536 646.5L533.7 647.2L531.1 645.6M458 635.9L459.7 640.5L460.2 641.9M519.7 650.5L517.5 651.4L518.5 653M580 643L580.7 645.2L579.3 642.8M439.1 647.6L439.1 650.8L440.3 649.8M597.9 636.6L600.1 638.2L602.9 640.5M463.9 650.6L468.3 651L468.1 649.4M538 636.5L537.6 641.1L537.2 643.5M594.1 635.6L595.8 636.9L594.9 634.3M482.8 634.4L483 637.3L485.6 639.1M492.8 642.7L494.9 643.3L496.8 640.8M495.2 636.7L497.3 638.4L495.7 641M471.2 645L475 648.6L477.4 648.7M603.7 646.5L600.1 647.7L597.5 645.2M584 651.2L585.3 653L587.7 651.9M568.7 647.6L567.3 650L564.6 649M476.5 642.4L478 645.5L476.9 643.3M478.6 645.3L481.8 649.3L484 649M481.7 645.1L477.1 646.7L475.4 645M435.2 650.8L437.3 653L438.9 651.7M561.7 632.3L562.3 634.3L564.3 633.1M579 647.1L581.8 648.2L583.6 649.3M505 634.6L507.8 636.3L507.7 637.2M589.4 645.8L588.7 649.6L589.4 646.9M434.2 642.9L435.3 647.8L433.7 646.9M473.3 645.1L471.4 646.4L470.7 647.5M564.9 647.4L568.8 649.6L568.5 651.9M462.8 648.8L458.8 649.9L456.9 648.9M495.3 649.6L498.2 651.4L497.4 651.6M562.9 632.6L564.6 634.1L564.6 635M573.8 646.5L578.5 649.2L575.6 647.4M544.5 644.9L546 649L545.7 647.9M485 640.6L489.2 642.1L487.2 642.6M600.3 648.3L598.1 649.7L599.9 646.8M468.5 637.5L465.6 642.1L463.9 642.1M480 646.5L485.1 646.7L483.9 644.7M581.3 646.6L577.3 649.7L577 649.3M575 641.9L578 644.8L577.6 646.3M589.9 647.9L593.7 648.7L593.4 646M480.2 632.1L478.5 634.3L476.6 636.5M476.5 645.7L474.4 649.4L471.9 647.7M580.8 639.8L583 642.8L580.2 644.1M571.3 651.3L573.7 653L576.4 653M512.8 651.1L512.3 653L512.7 651.1M499.6 642.1L496.5 644.5L495.6 647.4M440.8 635.5L443.3 640.4L443.1 639.8M580.7 636.6L578.9 638L579.5 640.6M539.5 636.9L543.3 639.9L541.9 642.4M506.8 634L503.7 637.4L504.8 634.5M495.6 641.8L493.4 642.4L493 641.5M543.6 641L545.6 644.2L545.9 641.4M486.2 637L488.2 639.5L486.9 638.7M554.6 636.7L552.4 637L551.2 638.4M548.9 638.1L551.8 641.6L551 643.4M596.7 635L595.2 637.4L595.6 639.8M545.4 649.5L546.8 652.1L547.1 651.3M524.5 637.1L527.8 639.6L525.4 638M443 645.8L445.6 647.2L447.7 647.3M513.8 638.6L513.5 643.3L512.7 641.1M460.5 646L460.9 651.3L459.2 652.5M499.3 637.6L497.3 640.1L495.6 639.8M506 633.7L502.6 633.8L501.8 631.6M453.7 635.7L457.5 636.5L458.4 638.6M475.2 648.1L473.6 649.7L471.8 647.9M589.7 646.9L592.5 647.5L590.5 648.3M506.7 650.9L504.1 652.3L502.7 652.3M502.3 647.9L506.4 650.8L507 650.1M607.8 639L603.8 642.5L606.2 645.4M509.3 647.5L506.6 649L506.3 651.5M572.9 638.1L571.1 639.7L570.5 640.1M483.7 632.2L482.7 636.2L483.7 634.2M439.3 632.9L439 635L437.2 635M496.7 645.7L500.2 647.3L499.7 645.4M596.9 650.6L594 651L591.2 652.2M595.4 639L598.3 642.8L598.6 643.4M559.6 642.4L556.3 644.5L557.7 641.6M516.6 650.1L516.7 653L516.9 653M440.3 637.6L444.7 640.2L447.6 638.3M479.8 636.9L478.3 641.2L476.8 643.1M510.9 641.9L512.4 645.2L509.6 642.5M607.9 637.8L610.4 642.6L609.2 640.2M589.5 640L588.2 642.7L585.9 641M570.2 642.8L567.9 646.8L568.4 647.8M462.4 635.7L463.3 640.5L461.7 642.2M581.5 646.7L583.8 647.5L585.6 645.8M430.3 643.7L427.5 647.7L428.8 648.2M493.8 650.5L496.1 653L493.8 653M555.1 642.3L555.9 644.3L556.8 641.6M568.7 644.4L564.8 646.2L566.3 644.9M602.8 643.7L602.3 647L604.4 647.8M530.1 644.3L525.8 647.7L524 650.4M479.3 640.7L476.1 644.3L475.1 643.1M525.7 641.6L526.7 644.5L523.7 647.1M491.7 650.3L490.8 652.5L488.9 651.7M463 634.1L460.2 636.6L458.1 636.7M553.9 648.7L554.4 651.4L551.7 652M525.2 651.9L526.7 653L526.9 653M470.1 637.5L474.2 640.3L474.7 638.9M493.6 637.1L498.5 637.5L500.1 636.3M490.7 650.6L493.7 653L496.2 651.8M573.4 638.3L570.9 638.5L568.9 639.7M490.8 641.1L488.5 642.2L486.9 642.9M470.1 641L473.4 643.7L474.3 641M574.2 650.7L577 653L575.8 653M605.6 646.1L606.5 649.2L604.6 651.5M601.2 646.2L598.1 647L595.6 646.8M613.8 643.9L610.1 646L609.6 645.9M471.4 639.8L466.2 640.5L466.9 641.7M486.9 644.9L484.7 645.6L487.6 643.6M434.6 632.5L435.9 636.8L434.4 639.5M570.1 634.8L568 636.5L569.2 633.8M576.3 639L575.1 640.8L575.1 640.2M453.5 640.5L451.4 640.6L454.2 639.7M577.3 648.3L576.2 652.3L579 652M577.9 641.7L580.8 646.3L578.7 649M565.8 635.5L563.8 636.2L565.1 639M569.5 650.4L566.8 653L569.3 653M495.2 635.5L496.1 637.7L498.5 637.3M609.7 634.2L610.2 638.3L609.5 639.5M475.7 632.6L472.1 633.9L471 635.7M445.4 638.1L445.5 643.1L446 642.8M543.8 650.6L544.8 653L545 650.8M471.9 645.2L472.4 647.8L469.4 650.6M584.4 644.7L583.8 648.3L586.6 651.3M604.1 645L601.6 649.6L600 649.5M532.8 638.5L531.7 642.4L534.3 642.1M502.6 643L504.7 643L501.9 645.3M589.1 647.1L591.9 650.2L589.8 650.4M524.8 645.5L529.7 647.5L530.2 650.5M443.4 646.5L438.8 649.5L437.2 648.5M593.8 646L597.7 647.4L596.5 649.2M445.8 646.5L446.6 648.9L445.1 650.7M604 651.3L609.1 651.9L609.8 651.3M433.3 646.3L433 649.1L433.2 646.6M603.4 648.9L599.8 653L597.8 652.9M605.5 650.1L604.5 652.2L604.5 652.5M527.1 637.7L529.4 639.7L527.9 642.5M457.7 636.1L455.3 636.3L452.5 635.6M530.6 645.2L525.9 647.3L523 649.1M467.3 644.2L465.2 645.5L465.5 648.1M502.9 644.8L500.5 647L498.1 648.1M430.2 650.6L430.4 653L428.3 653M508.7 645.1L511.6 645.9L511.8 647.6M550.4 632.5L547.1 633.2L547.9 636.1M583.3 639.2L585.9 641.9L585.9 639.7M540.7 648.8L544.2 651.1L544.5 649.3M587.1 634.7L585.3 636.2L587.7 634.8M556.9 645.3L554.5 649.3L553.1 648.9M537.3 646.2L538.3 649.4L539 646.9M527.6 640L525.9 642.7L523.2 643.8M486.1 633.4L491.4 634.1L491.4 632M438 643.2L438.5 645.3L438.7 645.3M535.1 634.2L539.3 634.3L536.3 634.3M499.2 649.3L499 651.8L496.9 653M469.3 643.9L470.7 646.6L469.9 647.4M493.8 638.7L495.9 643.2L498.8 644.8M569.1 639.6L566.2 642.9L569.1 641.3M426.4 642.2L425 644.7L427.8 642.9M546.8 649L543.4 649.2L544.8 647.1M520 634.7L517.1 637.2L514.4 640.1M518.7 649.1L514.8 650.1L514.4 651.2M519.7 635.6L524.3 635.6L526.8 636.9M526.1 648.8L527.6 651.3L529.3 653M531 642.6L529.8 645.7L529.3 643.1M536.5 648.1L538.5 652.1L539.9 653M458.7 640.9L457.1 645.7L454.2 643.4M462.2 647.8L465.6 649.7L464.4 650.8M506.2 637.5L505.7 642.6L507.9 642.8M560.6 650.5L558.1 653L559.7 650.7M533.4 637.2L533.4 639.5L532.1 639.6M579 651.6L574.8 651.9L576.7 651.3M448.7 638.2L446.6 641.5L444.3 639.8" fill="none" stroke="#2a2a2a" stroke-width="1.5" stroke-linejoin="round"/>
<rect x="420" y="643" width="6" height="10" fill="#e6e6e6"/>
<path d="M423.7 651.5L424.4 653L426 653M423.7 648.3L421.1 650L420 651.9M423.7 644.8L420.2 645.5L420 643M421.6 650.5L420 653L420.2 652.1M424.2 651.8L426 652.6L426 653M424.1 645.1L425.2 648.6L422.3 649M421.7 648L420 649.5L422.6 651M422.5 644.8L420.5 647.7L423.5 647.5M423.5 646.7L426 648.2L424.3 648.3" fill="none" stroke="#2a2a2a" stroke-width="1.5" stroke-linejoin="round"/>
<rect x="613" y="582" width="7" height="170" fill="#eee"/>
<path d="M615.2 704.8L613 706.7L613 704M617.8 650.2L615.3 650.4L616 652.6M615.5 649.1L617 650.6L619.7 650M618.1 583.8L614.6 584.9L616.6 583.7M615.2 660.4L616 663.5L614.1 660.6M614.1 607.5L618 610.4L619 610.8M614.4 635.8L613 636.6L615.4 635.8M617.2 625.1L615.6 628.6L616.1 625.9M615.2 630.5L615 633.5L614.2 633.5M616.8 643.2L618.7 646.7L619.4 648.2M617.1 603.3L619 607.1L620 609.5M617.7 683.5L616.7 686.3L617.1 685.5M615.7 620.2L613 620.9L613 621M614.3 722.2L617.7 725.9L616.1 726M617.5 683.1L613.1 684.4L613 683.8M616 659.4L614.2 660.5L613 661.7M614.5 717.3L616.8 721.9L615.2 723.5M618.3 637.8L617.3 642.4L620 642.8M618.5 732.6L615.8 732.8L615.5 733.5M617.1 600.2L615.8 605.3L616.1 603.4M615.5 735.7L616.1 737.9L614.8 738.4M614.8 665.5L615 669.8L613.7 668M616.3 613.5L615.7 616.9L617.8 615M616.6 629.8L618.9 630.8L619.2 630.9M617.1 697.2L620 698.5L620 697M614.8 716.5L618.9 717.6L617.8 720.4M614.7 665.5L616.9 666.4L618.2 668.2M614.8 749.8L617.5 751.2L616 749.8M617 585L613 587.8L615.7 588.6M614.7 631.5L619.5 633.6L620 634.9M617.8 709.1L615.2 709.4L614.4 709.2M617.1 667.1L619.2 669.3L620 666.7M618.1 597.7L619.3 602.6L617.4 602.7M615 602L613.3 606.8L613 609.3M615.6 697L613.2 698.1L614.6 696.8M616 607.1L613.1 608.1L613 610.2M616 679.9L614.7 684.5L614.4 686.8M615.1 749.9L620 750L620 752M614.8 598.1L613 600.4L613 602.5M617 618.1L616 622.1L613.3 622.2M617 614.4L613.8 615.5L614.2 614.4M616.2 747.6L617.5 751L616 750.4M615.4 744.5L613 745L614.6 747.3M617.3 740.9L620 744.9L620 745.9M616.3 704.7L613.7 705.1L613 705.9M614.3 733.9L613 736.4L613 736M614.3 701.1L616.5 701.9L614.8 699.9M618.4 737.6L615.7 741.2L615.3 739.4M615 596.8L617.8 597.6L618.1 595" fill="none" stroke="#2a2a2a" stroke-width="1.1" stroke-linejoin="round"/>
<rect x="427" y="427" width="187" height="8" fill="#e8e8e8"/>
<path d="M532.1 431L533.4 432.9L532.8 435M564.7 432.3L566.2 434.4L567.8 431.9M513.5 430.2L515.3 431.4L514.1 431.8M520.6 432.9L518.3 435L516.7 433.8M493.1 428.9L495.5 431.8L494.8 430.5M571.8 432.4L568 433.3L568.5 433.9M599 430L595.6 431.7L597.2 433.4M481.8 431.6L482.1 434.1L481.4 435M490.5 428.8L488.4 431.8L489.1 429.6M524.9 430.7L524.1 434.3L524.4 435M449.2 428.3L450.3 430.5L447.5 432M582.6 428L584.9 429.6L584.1 432.5M442.5 430.3L442.3 433L441.3 434.3M554.2 432.8L552.3 435L550.2 432.1M551.2 432.8L548.8 435L548.2 432.3M511 428.7L513.8 432.4L514.3 434.8M587.2 432.3L584.7 432.8L586.2 433.6M529.8 428.7L529.8 433.9L531.1 435M572.2 428.4L573.7 433.1L575 433.1M512.1 430.4L513.4 433.3L513.3 433.9M456.5 429L454.9 432.7L454.8 432.8M493.5 434L495.8 435L494.6 435M484.4 430.5L487.6 431L487.3 431.7M570.8 428.3L572.3 430.7L572.1 433.2M600.1 432.3L596.5 433.1L597.2 430.9M561.8 429.6L561.4 432.4L561.4 431.7M590.6 431.1L588.4 433.1L588.4 433.2M485.5 430.5L488 430.6L487 431.7M535.5 432.3L538.2 433.1L540.8 430.9M460.1 431.3L460.7 435L462.9 435M511.2 430.7L508.8 430.8L508.7 432.3M552.1 428.6L547.7 431.5L549.2 429.5M594 428.9L598.4 429.1L599.6 430.8M526 428.4L530.2 428.9L531.7 428M569.4 430.3L570 434.6L571.1 435M453.6 432.1L450.1 435L450.8 435M473.1 434L470.2 434.2L471.1 435M515.4 429.7L516.6 432L518.4 432.1M612.9 429.3L608.6 429.5L608.9 427.2M440.3 431L444.2 432.6L442.6 435M547.7 428.3L543.8 430.2L542.1 429.4M552.9 433.4L554.4 435L557 435M542.5 432.9L546.9 434L549 433.1M585.1 430.1L582.4 431.7L582.7 432.4M450.2 428.5L451.8 431.6L452.6 434.4M602.2 428.8L600.7 430.7L598.1 428.3M593.6 432.3L593.4 435L594.1 432.6M516.1 433.5L520.6 433.9L518 434.1M460.8 428.4L464.2 429.1L467.1 427M509.6 429.8L510.8 432.4L510.1 435M453.9 433L451 435L452.2 435M611.3 428.3L607.8 431.7L608.7 434.5M437.9 431.7L436.3 433.3L436.5 435M552.2 430.3L547.8 433.1L546.2 431.6M580 432.5L581.2 435L584 435M498.4 428.5L501.7 428.7L501.3 427M469.5 433.2L467.2 435L464.8 435M595.3 432.6L592.9 435L591.5 435M428.4 429.9L430.4 431.2L431.7 430.9M486.7 432.7L484.8 435L487.2 433.1M511.2 428.4L508.1 431.8L505.3 430.9M441.2 432.9L440.3 435L441.5 435M589.9 430.3L593.2 430.6L591.8 431.8M489.2 433.1L492.5 435L495.1 435M434.5 432.7L432.3 433.8L433.7 431.4M486.9 429.7L490.6 431.7L493.6 431.8M602.4 429.6L605.2 430.8L607.1 429.7M492.3 433.2L491.2 435L493.4 432.9M465.2 431.7L465.3 435L467.1 435M460.4 432.3L462.1 433.9L460.9 433.2M521.3 428.7L520 431.7L522.9 431.6M581.8 432.8L580.4 435L577.9 435M606.9 433.5L609.6 434.2L608.5 432.3M475.3 428.6L474 433.5L473 435M588.4 431.4L585.8 432.6L586.4 433.5M428.7 433.9L431.3 435L433 434.9M451.3 433.9L447.8 435L446.8 432M485.9 433.9L484.1 435L485 432.5M519.1 433.7L522.8 434L525.6 431.6M511.1 432.8L507.7 434.6L508.2 434.9M552.5 433.9L551.2 435L549.6 434.9M551.5 432.8L553.2 434.8L550.8 435M433.6 428.1L434.5 432.8L437.4 431.4M492.9 428.7L495.4 429.7L497.2 431M557.4 432.6L561.8 435L561.9 433.6M576.9 429.5L581.6 429.7L579.4 432.7M583.6 430L579.5 430.4L579.8 429.1M594.6 431.7L596.5 434.1L595.3 433.1M601.3 431.5L599.6 435L596.9 435M572.8 428.5L569.2 429.3L566.3 432.1M503.6 433L501.5 433.1L500.1 433" fill="none" stroke="#2a2a2a" stroke-width="1.5" stroke-linejoin="round"/>
<rect x="613" y="805" width="6.5" height="56" fill="#e2e2e2"/>
<path d="M615.3 844.4L616.9 847.8L616.3 849.4M616.4 826.8L613.2 828.2L616.1 826M614.4 843.6L613 844.4L613 845.7M617.2 836L614.5 840.2L614.9 839.4M614.9 824L613 826.7L613 825.1M618.4 808.9L619.5 812.2L619.5 809.4M617.1 808.1L619.5 810.2L619.5 808.4M616.9 807.3L619.5 808.7L617 810.6M616.6 850.7L617 854.7L614.2 857.3M615.4 840.7L613 842.2L613 843.8M617.6 855.1L618.6 858.2L618.6 858.8M617 850.8L615.9 853.4L617.5 855.1" fill="none" stroke="#2a2a2a" stroke-width="1.0" stroke-linejoin="round"/>
<rect x="611.5" y="861" width="8" height="47" fill="#e2e2e2"/>
<path d="M617.5 866.5L619 871.2L618.4 869.2M612.7 893.7L615.9 894L615.7 892M615.2 895.1L618.3 895.8L619.3 896.5M615.9 874.8L618.2 879.5L618.1 878.2M615.3 867.2L614.1 872.4L615 869.4M617.6 870.9L619.5 871.2L619.5 868.2M618.4 880.3L619.5 880.4L619.5 877.6M613.5 867.2L614.8 870.3L612 873M617.1 874.8L615.6 878.1L617.4 876.6M618.2 894.9L616.7 898.6L617.6 895.7M617.8 883.9L619.5 885.8L619.5 887.6M613.8 879.3L611.6 879.4L611.5 882.1M616.8 885.4L617.2 887.6L618.7 886.6" fill="none" stroke="#2a2a2a" stroke-width="1.0" stroke-linejoin="round"/>
<line x1="112" y1="106" x2="376" y2="103.8" stroke="#1c1c1c" stroke-width="4.42" stroke-linecap="butt"/>
<line x1="376" y1="103.6" x2="635" y2="101.2" stroke="#1c1c1c" stroke-width="4.42" stroke-linecap="butt"/>
<polyline points="195.5,104 197.5,96.5 238,96.5 239,104" fill="none" stroke="#1c1c1c" stroke-width="1.95" stroke-linejoin="miter"/>
<line x1="199" y1="97.5" x2="208" y2="97.5" stroke="#1c1c1c" stroke-width="3.38" stroke-linecap="butt"/>
<line x1="214" y1="97.5" x2="221" y2="97.5" stroke="#1c1c1c" stroke-width="3.38" stroke-linecap="butt"/>
<line x1="227" y1="97.5" x2="237" y2="97.5" stroke="#1c1c1c" stroke-width="3.38" stroke-linecap="butt"/>
<rect x="375" y="95" width="8" height="7.5" fill="none" stroke="#1c1c1c" stroke-width="2.08"/>
<rect x="413" y="95" width="8" height="7.5" fill="none" stroke="#1c1c1c" stroke-width="2.08"/>
<line x1="386" y1="95.5" x2="395" y2="95.5" stroke="#1c1c1c" stroke-width="2.34" stroke-linecap="butt"/>
<line x1="400" y1="95.5" x2="409" y2="95.5" stroke="#1c1c1c" stroke-width="2.34" stroke-linecap="butt"/>
<line x1="376.5" y1="104" x2="376.5" y2="116.5" stroke="#1c1c1c" stroke-width="3.12" stroke-linecap="butt"/>
<line x1="419.5" y1="104" x2="419.5" y2="116.5" stroke="#1c1c1c" stroke-width="3.12" stroke-linecap="butt"/>
<line x1="384" y1="109.5" x2="412.5" y2="109.5" stroke="#666" stroke-width="3.12" stroke-linecap="butt"/>
<line x1="114" y1="118" x2="194" y2="118" stroke="#1c1c1c" stroke-width="2.6" stroke-linecap="butt"/>
<line x1="237" y1="117.3" x2="622" y2="115.3" stroke="#1c1c1c" stroke-width="2.6" stroke-linecap="butt"/>
<line x1="197" y1="109.5" x2="237" y2="109.5" stroke="#1c1c1c" stroke-width="2.86" stroke-linecap="butt"/>
<line x1="197" y1="113" x2="237" y2="113" stroke="#555" stroke-width="1.3" stroke-linecap="butt"/>
<line x1="197" y1="116.5" x2="237" y2="116.5" stroke="#555" stroke-width="1.3" stroke-linecap="butt"/>
<line x1="197" y1="119.5" x2="237" y2="119.5" stroke="#888" stroke-width="1.17" stroke-linecap="butt"/>
<polyline points="134,125.2 194,125.2 194,106" fill="none" stroke="#1c1c1c" stroke-width="2.86" stroke-linejoin="miter"/>
<line x1="191.5" y1="107" x2="191.5" y2="118" stroke="#1c1c1c" stroke-width="1.82" stroke-linecap="butt"/>
<line x1="285" y1="125.6" x2="614" y2="123.8" stroke="#1c1c1c" stroke-width="2.08" stroke-linecap="butt"/>
<rect x="286" y="119.3" width="76" height="5.3" fill="#333" stroke="none" stroke-width="0"/>
<line x1="290" y1="122" x2="360" y2="122" stroke="#eee" stroke-width="2.08" stroke-dasharray="1.5 3" stroke-linecap="butt"/>
<line x1="283.5" y1="104" x2="283.5" y2="116.5" stroke="#1c1c1c" stroke-width="2.86" stroke-linecap="butt"/>
<line x1="467" y1="104" x2="467" y2="116.5" stroke="#1c1c1c" stroke-width="2.86" stroke-linecap="butt"/>
<line x1="557.5" y1="104" x2="557.5" y2="116.5" stroke="#1c1c1c" stroke-width="2.86" stroke-linecap="butt"/>
<line x1="238.5" y1="104" x2="238.5" y2="122" stroke="#1c1c1c" stroke-width="2.6" stroke-linecap="butt"/>
<line x1="634" y1="100" x2="630.6" y2="938" stroke="#1c1c1c" stroke-width="3.9" stroke-linecap="butt"/>
<line x1="622" y1="115.5" x2="621.5" y2="531" stroke="#1c1c1c" stroke-width="2.21" stroke-linecap="butt"/>
<line x1="614" y1="124" x2="614.6" y2="426" stroke="#1c1c1c" stroke-width="2.86" stroke-linecap="butt"/>
<polygon points="634.5,100.5 620,118 626,106" fill="#333" stroke="#1c1c1c" stroke-width="1.95" stroke-linejoin="miter"/>
<line x1="618.2" y1="153" x2="618.2" y2="236" stroke="#444" stroke-width="6.5" stroke-dasharray="2.4 3" stroke-linecap="butt"/>
<rect x="614.8" y="153" width="7" height="83" fill="none" stroke="#1c1c1c" stroke-width="1.3"/>
<line x1="622" y1="194" x2="633" y2="194" stroke="#1c1c1c" stroke-width="2.6" stroke-linecap="butt"/>
<line x1="622" y1="306" x2="633" y2="306" stroke="#1c1c1c" stroke-width="2.6" stroke-linecap="butt"/>
<line x1="622" y1="417" x2="633" y2="417" stroke="#1c1c1c" stroke-width="2.6" stroke-linecap="butt"/>
<ellipse cx="599" cy="270" rx="20.5" ry="23.5" fill="#606060" stroke="#1c1c1c" stroke-width="3.12"/>
<path d="M589.2 249L608.2 256M586.5 253.6L610.7 260.6M584.9 258.2L612.2 265.2M584 262.8L613 269.8M583.8 267.4L613.2 274.4M584.1 272L612.9 279M585.1 276.6L612 283.6M586.9 281.2L610.4 288.2M589.9 285.8L607.5 292.8" fill="none" stroke="#b8b8b8" stroke-width="1.69" stroke-dasharray="5 3 9 4" stroke-linecap="butt" stroke-linejoin="round"/>
<path d="M599.6 279.7l-1.6 0.8M598.3 269.2l-5.8 2.7M598.8 274.2l5.9 -0.2M602.8 262.7l1.7 -2.8M590.2 258.4l0.3 1.9M598.5 269l3.1 0.7M598.9 270.5l4.4 -0.2M596.4 254.6l2.6 3.4M589.3 278.8l-0.7 3.5M600.1 268.8l-4.4 -2.3M605.5 268.3l1.5 -1.6M593.1 269.7l-1.8 0.7M587 261.9l2.2 3.4M608.4 256.1l2.1 -2.7M608.4 256.7l4.9 0.6M598.3 266.3l4 0.6M598.8 271.1l4.2 3.9M609.4 277.5l-1.1 -2.8M595.8 283.2l4.5 -3.6M598.5 269.5l2.6 -1.4M610 258.1l0.1 4M598.6 271.3l1.2 -3.7M601 276.9l1.3 -2.8M611.8 274.1l-2.2 3.7M603.6 265.9l-0.5 0.2M593.3 261.7l0.7 1" fill="none" stroke="#2a2a2a" stroke-width="1.95" stroke-linecap="butt" stroke-linejoin="round"/>
<line x1="614.8" y1="426" x2="614.8" y2="531" stroke="#1c1c1c" stroke-width="3.38" stroke-linecap="butt"/>
<rect x="615.5" y="532" width="15.5" height="49.5" fill="#9a9a9a" stroke="#1c1c1c" stroke-width="1.82"/>
<polyline points="633,533 639,533 639,541" fill="none" stroke="#1c1c1c" stroke-width="1.82" stroke-linejoin="miter"/>
<polyline points="633,582 639,582 639,573" fill="none" stroke="#1c1c1c" stroke-width="1.82" stroke-linejoin="miter"/>
<line x1="638.5" y1="546" x2="638.5" y2="569" stroke="#1c1c1c" stroke-width="1.56" stroke-dasharray="6 4" stroke-linecap="butt"/>
<line x1="613.5" y1="582" x2="613" y2="752" stroke="#1c1c1c" stroke-width="2.21" stroke-linecap="butt"/>
<line x1="620" y1="582" x2="619.5" y2="752" stroke="#1c1c1c" stroke-width="1.69" stroke-linecap="butt"/>
<line x1="628" y1="582" x2="627.5" y2="752" stroke="#1c1c1c" stroke-width="1.69" stroke-linecap="butt"/>
<line x1="620" y1="640" x2="632" y2="640" stroke="#1c1c1c" stroke-width="2.08" stroke-linecap="butt"/>
<rect x="613.6" y="756" width="14.9" height="49" fill="#9a9a9a" stroke="#1c1c1c" stroke-width="1.82"/>
<polyline points="631,757 637,757 637,765" fill="none" stroke="#1c1c1c" stroke-width="1.82" stroke-linejoin="miter"/>
<polyline points="631,805 637,805 637,797" fill="none" stroke="#1c1c1c" stroke-width="1.82" stroke-linejoin="miter"/>
<line x1="636.5" y1="770" x2="636.5" y2="793" stroke="#1c1c1c" stroke-width="1.56" stroke-dasharray="6 4" stroke-linecap="butt"/>
<line x1="611.5" y1="752" x2="630" y2="752" stroke="#1c1c1c" stroke-width="2.08" stroke-linecap="butt"/>
<line x1="612" y1="805" x2="630" y2="805" stroke="#1c1c1c" stroke-width="2.08" stroke-linecap="butt"/>
<polyline points="613.6,805 613.6,861 611.5,861 611.5,908" fill="none" stroke="#1c1c1c" stroke-width="2.21" stroke-linejoin="miter"/>
<line x1="619.5" y1="805" x2="619" y2="936" stroke="#1c1c1c" stroke-width="1.69" stroke-linecap="butt"/>
<line x1="612" y1="861" x2="630" y2="861" stroke="#1c1c1c" stroke-width="2.08" stroke-linecap="butt"/>
<polyline points="420,653.7 591,652.7 591,702.5 613,702.5" fill="none" stroke="#1c1c1c" stroke-width="2.6" stroke-linejoin="miter"/>
<polyline points="611.5,908 586,908 586,925 360,926.5" fill="none" stroke="#1c1c1c" stroke-width="2.6" stroke-linejoin="miter"/>
<line x1="309" y1="939.3" x2="631" y2="936.8" stroke="#1c1c1c" stroke-width="3.9" stroke-linecap="butt"/>
<polyline points="310,939 311,502 174.5,502 174.5,421" fill="none" stroke="#1c1c1c" stroke-width="3.38" stroke-linejoin="miter"/>
<line x1="319" y1="528" x2="319" y2="878" stroke="#1c1c1c" stroke-width="1.69" stroke-linecap="butt"/>
<line x1="113.6" y1="104" x2="113.6" y2="311" stroke="#1c1c1c" stroke-width="3.51" stroke-linecap="butt"/>
<polyline points="133,124 133,215.5 117,215.5" fill="none" stroke="#1c1c1c" stroke-width="1.69" stroke-linejoin="miter"/>
<polyline points="112.5,311 181,311" fill="none" stroke="#1c1c1c" stroke-width="2.99" stroke-linejoin="miter"/>
<polyline points="114,286.5 174,286.5 180.5,291 180.5,311" fill="none" stroke="#1c1c1c" stroke-width="2.6" stroke-linejoin="miter"/>
<rect x="175.5" y="310" width="5" height="40" fill="#bbb" stroke="#1c1c1c" stroke-width="1.82"/>
<line x1="179.8" y1="350" x2="179.8" y2="418" stroke="#1c1c1c" stroke-width="2.34" stroke-linecap="butt"/>
<rect x="137.5" y="129.5" width="38.5" height="79.5" fill="none" stroke="#1c1c1c" stroke-width="3.9"/>
<line x1="137" y1="153.5" x2="176.5" y2="153.5" stroke="#1c1c1c" stroke-width="3.64" stroke-linecap="butt"/>
<line x1="139" y1="156" x2="175" y2="207" stroke="#1c1c1c" stroke-width="1.95" stroke-linecap="butt"/>
<line x1="175" y1="156" x2="139" y2="207" stroke="#1c1c1c" stroke-width="1.95" stroke-linecap="butt"/>
<line x1="157.8" y1="134" x2="157.8" y2="149" stroke="#1c1c1c" stroke-width="2.47" stroke-linecap="butt"/>
<line x1="163.8" y1="134" x2="163.8" y2="149" stroke="#1c1c1c" stroke-width="2.47" stroke-linecap="butt"/>
<line x1="157.8" y1="141.5" x2="163.8" y2="141.5" stroke="#1c1c1c" stroke-width="2.47" stroke-linecap="butt"/>
<polyline points="174,220 123.5,220 123.5,283.5 172,283.5" fill="none" stroke="#1c1c1c" stroke-width="2.34" stroke-linejoin="miter"/>
<rect x="126" y="224.5" width="43" height="53.5" fill="none" stroke="#333" stroke-width="1.95" rx="2"/>
<line x1="152" y1="225" x2="152" y2="278" stroke="#1c1c1c" stroke-width="1.69" stroke-linecap="butt"/>
<line x1="155.2" y1="225" x2="155.2" y2="278" stroke="#1c1c1c" stroke-width="1.69" stroke-linecap="butt"/>
<polyline points="175.5,211 174.5,221 194,241 179,251 194,260.5 172.5,283" fill="none" stroke="#1c1c1c" stroke-width="3.12" stroke-linejoin="miter"/>
<rect x="236" y="122.5" width="48" height="191" fill="none" stroke="#1c1c1c" stroke-width="2.34"/>
<line x1="277" y1="122.5" x2="277" y2="291" stroke="#1c1c1c" stroke-width="1.69" stroke-linecap="butt"/>
<line x1="237.5" y1="290.5" x2="284" y2="290.5" stroke="#1c1c1c" stroke-width="2.08" stroke-linecap="butt"/>
<line x1="238" y1="121.5" x2="284" y2="121.5" stroke="#1c1c1c" stroke-width="3.64" stroke-linecap="butt"/>
<line x1="281" y1="291" x2="281" y2="312" stroke="#1c1c1c" stroke-width="1.56" stroke-linecap="butt"/>
<rect x="240" y="131" width="34.5" height="42.5" fill="none" stroke="#1c1c1c" stroke-width="3.38" rx="2"/>
<rect x="245" y="136.5" width="24.5" height="31.5" fill="#c8c8c8" stroke="#1c1c1c" stroke-width="2.08"/>
<line x1="245" y1="136.5" x2="269.5" y2="168" stroke="#1c1c1c" stroke-width="2.08" stroke-linecap="butt"/>
<line x1="269.5" y1="136.5" x2="245" y2="168" stroke="#1c1c1c" stroke-width="2.08" stroke-linecap="butt"/>
<polygon points="248,140 266.5,140 257.2,152" fill="#eee" stroke="none" stroke-width="0" stroke-linejoin="miter"/>
<polygon points="248,165 266.5,165 257.2,153" fill="#eee" stroke="none" stroke-width="0" stroke-linejoin="miter"/>
<rect x="255" y="149.5" width="4.5" height="5.5" fill="#666" stroke="#1c1c1c" stroke-width="1.3"/>
<line x1="251.5" y1="178" x2="251.5" y2="210" stroke="#1c1c1c" stroke-width="2.08" stroke-dasharray="7 4" stroke-linecap="butt"/>
<line x1="251.5" y1="262" x2="251.5" y2="286" stroke="#1c1c1c" stroke-width="2.08" stroke-dasharray="7 4" stroke-linecap="butt"/>
<rect x="239.5" y="213.5" width="35" height="43.5" fill="#8a8a8a" stroke="#1c1c1c" stroke-width="3.38"/>
<ellipse cx="248.5" cy="222.5" rx="4.6" ry="4.6" fill="#eee" stroke="#1c1c1c" stroke-width="1.95"/>
<ellipse cx="262.5" cy="222.5" rx="4.6" ry="4.6" fill="#eee" stroke="#1c1c1c" stroke-width="1.95"/>
<ellipse cx="253.5" cy="246" rx="3.4" ry="3.4" fill="#eee" stroke="#1c1c1c" stroke-width="1.95"/>
<ellipse cx="265" cy="244" rx="3" ry="3" fill="#eee" stroke="#1c1c1c" stroke-width="1.95"/>
<path d="M243 232h28M243 237h10m6 0h10M257 228v12M247 252h20" fill="none" stroke="#333" stroke-width="1.82" stroke-linecap="butt" stroke-linejoin="round"/>
<path d="M255 240l8 -6M245 240h6" fill="none" stroke="#eee" stroke-width="2.08" stroke-linecap="butt" stroke-linejoin="round"/>
<rect x="239.5" y="261" width="33.5" height="24" fill="none" stroke="#1c1c1c" stroke-width="2.6"/>
<line x1="285.5" y1="160" x2="339.5" y2="160" stroke="#1c1c1c" stroke-width="2.47" stroke-dasharray="9.5 4.6" stroke-linecap="butt"/>
<line x1="339.5" y1="163" x2="338.3" y2="427" stroke="#1c1c1c" stroke-width="2.47" stroke-dasharray="10.5 6.5" stroke-linecap="butt"/>
<line x1="366" y1="427.5" x2="426" y2="427.5" stroke="#1c1c1c" stroke-width="2.34" stroke-dasharray="9 5.5" stroke-linecap="butt"/>
<line x1="372" y1="644.5" x2="420" y2="644.5" stroke="#1c1c1c" stroke-width="2.34" stroke-dasharray="8 5.5" stroke-linecap="butt"/>
<line x1="318" y1="322" x2="394.5" y2="322" stroke="#1c1c1c" stroke-width="2.08" stroke-linecap="butt"/>
<polygon points="314,322 323,319.4 323,324.6" fill="#1c1c1c" stroke="#1c1c1c" stroke-width="0.65" stroke-linejoin="miter"/>
<rect x="180" y="417.6" width="49" height="3.8" fill="none" stroke="#1c1c1c" stroke-width="1.95"/>
<line x1="174" y1="421.4" x2="181" y2="421.4" stroke="#1c1c1c" stroke-width="2.86" stroke-linecap="butt"/>
<line x1="180" y1="434" x2="212" y2="434" stroke="#1c1c1c" stroke-width="1.82" stroke-linecap="butt"/>
<path d="M180.5 350A56.5 68 0 0 1 236 405L236.3 414" fill="none" stroke="#1c1c1c" stroke-width="1.95" stroke-linecap="butt" stroke-linejoin="round"/>
<polyline points="226,421 212.5,437 212.5,488 312.5,488 312.5,435" fill="none" stroke="#1c1c1c" stroke-width="2.86" stroke-linejoin="miter"/>
<line x1="219" y1="442" x2="219" y2="481" stroke="#1c1c1c" stroke-width="1.69" stroke-linecap="butt"/>
<line x1="224.1" y1="442" x2="224.1" y2="481" stroke="#1c1c1c" stroke-width="1.69" stroke-linecap="butt"/>
<line x1="229.1" y1="442" x2="229.1" y2="481" stroke="#1c1c1c" stroke-width="1.69" stroke-linecap="butt"/>
<line x1="234.2" y1="442" x2="234.2" y2="481" stroke="#1c1c1c" stroke-width="1.69" stroke-linecap="butt"/>
<line x1="239.2" y1="442" x2="239.2" y2="481" stroke="#1c1c1c" stroke-width="1.69" stroke-linecap="butt"/>
<line x1="244.3" y1="442" x2="244.3" y2="481" stroke="#1c1c1c" stroke-width="1.69" stroke-linecap="butt"/>
<line x1="249.3" y1="442" x2="249.3" y2="481" stroke="#1c1c1c" stroke-width="1.69" stroke-linecap="butt"/>
<line x1="254.4" y1="442" x2="254.4" y2="481" stroke="#1c1c1c" stroke-width="1.69" stroke-linecap="butt"/>
<line x1="259.4" y1="442" x2="259.4" y2="481" stroke="#1c1c1c" stroke-width="1.69" stroke-linecap="butt"/>
<line x1="264.5" y1="442" x2="264.5" y2="481" stroke="#1c1c1c" stroke-width="1.69" stroke-linecap="butt"/>
<line x1="269.5" y1="442" x2="269.5" y2="481" stroke="#1c1c1c" stroke-width="1.69" stroke-linecap="butt"/>
<line x1="274.6" y1="442" x2="274.6" y2="481" stroke="#1c1c1c" stroke-width="1.69" stroke-linecap="butt"/>
<line x1="279.6" y1="442" x2="279.6" y2="481" stroke="#1c1c1c" stroke-width="1.69" stroke-linecap="butt"/>
<line x1="284.7" y1="442" x2="284.7" y2="481" stroke="#1c1c1c" stroke-width="1.69" stroke-linecap="butt"/>
<line x1="289.7" y1="442" x2="289.7" y2="481" stroke="#1c1c1c" stroke-width="1.69" stroke-linecap="butt"/>
<line x1="294.8" y1="442" x2="294.8" y2="481" stroke="#1c1c1c" stroke-width="1.69" stroke-linecap="butt"/>
<line x1="299.8" y1="442" x2="299.8" y2="481" stroke="#1c1c1c" stroke-width="1.69" stroke-linecap="butt"/>
<line x1="304.9" y1="442" x2="304.9" y2="481" stroke="#1c1c1c" stroke-width="1.69" stroke-linecap="butt"/>
<line x1="309.9" y1="442" x2="309.9" y2="481" stroke="#1c1c1c" stroke-width="1.69" stroke-linecap="butt"/>
<line x1="212.5" y1="437" x2="249" y2="392.5" stroke="#1c1c1c" stroke-width="3.9" stroke-linecap="butt"/>
<path d="M249 392.5Q262 405 262.5 433Q263 405 276 392.5" fill="none" stroke="#1c1c1c" stroke-width="2.08" stroke-linecap="butt" stroke-linejoin="round"/>
<line x1="276" y1="392.5" x2="313" y2="435.5" stroke="#1c1c1c" stroke-width="3.9" stroke-linecap="butt"/>
<polyline points="362,528 314,528" fill="none" stroke="#1c1c1c" stroke-width="2.6" stroke-linejoin="miter"/>
<rect x="321" y="528.5" width="38.5" height="115.5" fill="none" stroke="#1c1c1c" stroke-width="2.6" rx="3"/>
<line x1="325" y1="537" x2="356.5" y2="537" stroke="#1c1c1c" stroke-width="2.73" stroke-linecap="butt"/>
<line x1="325" y1="544.5" x2="356.5" y2="544.5" stroke="#1c1c1c" stroke-width="2.73" stroke-linecap="butt"/>
<line x1="325" y1="552.1" x2="356.5" y2="552.1" stroke="#1c1c1c" stroke-width="2.73" stroke-linecap="butt"/>
<line x1="325" y1="559.6" x2="356.5" y2="559.6" stroke="#1c1c1c" stroke-width="2.73" stroke-linecap="butt"/>
<line x1="325" y1="567.2" x2="356.5" y2="567.2" stroke="#1c1c1c" stroke-width="2.73" stroke-linecap="butt"/>
<line x1="325" y1="574.7" x2="356.5" y2="574.7" stroke="#1c1c1c" stroke-width="2.73" stroke-linecap="butt"/>
<line x1="325" y1="582.2" x2="356.5" y2="582.2" stroke="#1c1c1c" stroke-width="2.73" stroke-linecap="butt"/>
<line x1="325" y1="589.8" x2="356.5" y2="589.8" stroke="#1c1c1c" stroke-width="2.73" stroke-linecap="butt"/>
<line x1="325" y1="597.3" x2="356.5" y2="597.3" stroke="#1c1c1c" stroke-width="2.73" stroke-linecap="butt"/>
<line x1="325" y1="604.9" x2="356.5" y2="604.9" stroke="#1c1c1c" stroke-width="2.73" stroke-linecap="butt"/>
<line x1="325" y1="612.4" x2="356.5" y2="612.4" stroke="#1c1c1c" stroke-width="2.73" stroke-linecap="butt"/>
<line x1="325" y1="619.9" x2="356.5" y2="619.9" stroke="#1c1c1c" stroke-width="2.73" stroke-linecap="butt"/>
<line x1="325" y1="627.5" x2="356.5" y2="627.5" stroke="#1c1c1c" stroke-width="2.73" stroke-linecap="butt"/>
<line x1="325" y1="635" x2="356.5" y2="635" stroke="#1c1c1c" stroke-width="2.73" stroke-linecap="butt"/>
<line x1="359.5" y1="528.5" x2="394.5" y2="569.5" stroke="#1c1c1c" stroke-width="3.9" stroke-linecap="butt"/>
<path d="M394.5 569.5Q388 583 362.5 586.5Q388 590 394.5 603" fill="none" stroke="#1c1c1c" stroke-width="2.08" stroke-linecap="butt" stroke-linejoin="round"/>
<line x1="394.5" y1="603" x2="360.5" y2="644" stroke="#1c1c1c" stroke-width="3.9" stroke-linecap="butt"/>
<polyline points="314.5,489 314.5,429 362,429 362,528" fill="none" stroke="#1c1c1c" stroke-width="2.6" stroke-linejoin="miter"/>
<polyline points="319,644.5 360.3,644.5 360.3,705 319,705" fill="none" stroke="#1c1c1c" stroke-width="2.6" stroke-linejoin="miter"/>
<rect x="320" y="706" width="37.5" height="170.5" fill="none" stroke="#1c1c1c" stroke-width="2.6" rx="3"/>
<line x1="324.5" y1="715" x2="355.5" y2="715" stroke="#1c1c1c" stroke-width="2.73" stroke-linecap="butt"/>
<line x1="324.5" y1="722.6" x2="355.5" y2="722.6" stroke="#1c1c1c" stroke-width="2.73" stroke-linecap="butt"/>
<line x1="324.5" y1="730.2" x2="355.5" y2="730.2" stroke="#1c1c1c" stroke-width="2.73" stroke-linecap="butt"/>
<line x1="324.5" y1="737.8" x2="355.5" y2="737.8" stroke="#1c1c1c" stroke-width="2.73" stroke-linecap="butt"/>
<line x1="324.5" y1="745.4" x2="355.5" y2="745.4" stroke="#1c1c1c" stroke-width="2.73" stroke-linecap="butt"/>
<line x1="324.5" y1="753" x2="355.5" y2="753" stroke="#1c1c1c" stroke-width="2.73" stroke-linecap="butt"/>
<line x1="324.5" y1="760.6" x2="355.5" y2="760.6" stroke="#1c1c1c" stroke-width="2.73" stroke-linecap="butt"/>
<line x1="324.5" y1="768.2" x2="355.5" y2="768.2" stroke="#1c1c1c" stroke-width="2.73" stroke-linecap="butt"/>
<line x1="324.5" y1="775.8" x2="355.5" y2="775.8" stroke="#1c1c1c" stroke-width="2.73" stroke-linecap="butt"/>
<line x1="324.5" y1="783.4" x2="355.5" y2="783.4" stroke="#1c1c1c" stroke-width="2.73" stroke-linecap="butt"/>
<line x1="324.5" y1="791" x2="355.5" y2="791" stroke="#1c1c1c" stroke-width="2.73" stroke-linecap="butt"/>
<line x1="324.5" y1="798.6" x2="355.5" y2="798.6" stroke="#1c1c1c" stroke-width="2.73" stroke-linecap="butt"/>
<line x1="324.5" y1="806.2" x2="355.5" y2="806.2" stroke="#1c1c1c" stroke-width="2.73" stroke-linecap="butt"/>
<line x1="324.5" y1="813.8" x2="355.5" y2="813.8" stroke="#1c1c1c" stroke-width="2.73" stroke-linecap="butt"/>
<line x1="324.5" y1="821.4" x2="355.5" y2="821.4" stroke="#1c1c1c" stroke-width="2.73" stroke-linecap="butt"/>
<line x1="324.5" y1="829" x2="355.5" y2="829" stroke="#1c1c1c" stroke-width="2.73" stroke-linecap="butt"/>
<line x1="324.5" y1="836.6" x2="355.5" y2="836.6" stroke="#1c1c1c" stroke-width="2.73" stroke-linecap="butt"/>
<line x1="324.5" y1="844.2" x2="355.5" y2="844.2" stroke="#1c1c1c" stroke-width="2.73" stroke-linecap="butt"/>
<line x1="324.5" y1="851.8" x2="355.5" y2="851.8" stroke="#1c1c1c" stroke-width="2.73" stroke-linecap="butt"/>
<line x1="324.5" y1="859.4" x2="355.5" y2="859.4" stroke="#1c1c1c" stroke-width="2.73" stroke-linecap="butt"/>
<line x1="324.5" y1="867" x2="355.5" y2="867" stroke="#1c1c1c" stroke-width="2.73" stroke-linecap="butt"/>
<polyline points="319,878 360,878 360,926" fill="none" stroke="#1c1c1c" stroke-width="2.6" stroke-linejoin="miter"/>
<path d="M360.5 643.5Q366 648 368.5 656V712L366 716" fill="none" stroke="#1c1c1c" stroke-width="3.38" stroke-linecap="butt" stroke-linejoin="round"/>
<line x1="363" y1="656" x2="363" y2="712" stroke="#1c1c1c" stroke-width="1.69" stroke-linecap="butt"/>
<path d="M369 718C398 712 418 690 419.5 654" fill="none" stroke="#1c1c1c" stroke-width="1.95" stroke-linecap="butt" stroke-linejoin="round"/>
<line x1="366" y1="715" x2="393.7" y2="745.4" stroke="#1c1c1c" stroke-width="3.9" stroke-linecap="butt"/>
<path d="M393.7 745.4Q387 757 361 762Q388 766 393.7 779" fill="none" stroke="#1c1c1c" stroke-width="2.08" stroke-linecap="butt" stroke-linejoin="round"/>
<line x1="393.7" y1="779" x2="358.3" y2="818" stroke="#1c1c1c" stroke-width="3.9" stroke-linecap="butt"/>
<path d="M358.3 818Q388 822 393.7 836" fill="none" stroke="#1c1c1c" stroke-width="2.08" stroke-linecap="butt" stroke-linejoin="round"/>
<line x1="393.7" y1="836" x2="357.4" y2="876.4" stroke="#1c1c1c" stroke-width="3.9" stroke-linecap="butt"/>
<line x1="426.5" y1="428" x2="426.5" y2="643" stroke="#1c1c1c" stroke-width="2.6" stroke-linecap="butt"/>
<line x1="434" y1="436" x2="434" y2="631" stroke="#1c1c1c" stroke-width="2.08" stroke-linecap="butt"/>
<line x1="425.5" y1="427.7" x2="614" y2="426" stroke="#1c1c1c" stroke-width="2.86" stroke-linecap="butt"/>
<line x1="434" y1="436.5" x2="614" y2="435.5" stroke="#1c1c1c" stroke-width="2.08" stroke-linecap="butt"/>
<rect x="434" y="436.5" width="113" height="65" fill="none" stroke="#1c1c1c" stroke-width="2.08"/>
<rect x="439.5" y="441.5" width="102.5" height="55" fill="none" stroke="#6a6a6a" stroke-width="4.42" rx="27" stroke-dasharray="6 3.5"/>
<rect x="460" y="454" width="58.5" height="30.5" fill="none" stroke="#1c1c1c" stroke-width="2.6" rx="15"/>
<ellipse cx="489.2" cy="469.7" rx="1.9" ry="1.9" fill="#222" stroke="none" stroke-width="0"/>
<line x1="489" y1="438.5" x2="489" y2="448" stroke="#1c1c1c" stroke-width="3.9" stroke-linecap="butt"/>
<line x1="435" y1="469.5" x2="446" y2="469.5" stroke="#1c1c1c" stroke-width="2.86" stroke-linecap="butt"/>
<line x1="438" y1="465" x2="438" y2="474" stroke="#1c1c1c" stroke-width="1.82" stroke-linecap="butt"/>
<rect x="549" y="436" width="65" height="69" fill="none" stroke="#1c1c1c" stroke-width="2.08"/>
<line x1="555" y1="441" x2="576" y2="463" stroke="#1c1c1c" stroke-width="2.34" stroke-linecap="butt"/>
<line x1="587" y1="475" x2="610" y2="499" stroke="#1c1c1c" stroke-width="2.34" stroke-linecap="butt"/>
<line x1="610" y1="441" x2="587" y2="464" stroke="#1c1c1c" stroke-width="2.34" stroke-linecap="butt"/>
<line x1="576" y1="476" x2="555" y2="499" stroke="#1c1c1c" stroke-width="2.34" stroke-linecap="butt"/>
<ellipse cx="581.5" cy="469.5" rx="2.4" ry="2.4" fill="#333" stroke="none" stroke-width="0"/>
<ellipse cx="602.5" cy="469" rx="2" ry="2.2" fill="none" stroke="#1c1c1c" stroke-width="1.56"/>
<line x1="604" y1="469" x2="612" y2="469" stroke="#1c1c1c" stroke-width="1.82" stroke-linecap="butt"/>
<path d="M436 506V587M445.4 506V587M454.7 506V587M464.1 506V587M473.4 506V587M482.8 506V587M492.1 506V587M501.5 506V587M510.8 506V587M520.2 506V587M529.5 506V587M538.9 506V587M548.2 506V587M557.6 506V587M566.9 506V587M576.3 506V587M585.6 506V587M595 506V587M604.3 506V587M613.7 506V587" fill="none" stroke="#2a2a2a" stroke-width="2.21" stroke-linecap="butt" stroke-linejoin="round"/>
<path d="M436 523h9.3M436 545h9.3M436 567h9.3M445.4 512h9.3M445.4 534h9.3M445.4 556h9.3M445.4 578h9.3M454.7 523h9.3M454.7 545h9.3M454.7 567h9.3M464.1 512h9.3M464.1 534h9.3M464.1 556h9.3M464.1 578h9.3M473.4 523h9.3M473.4 545h9.3M473.4 567h9.3M482.8 512h9.3M482.8 534h9.3M482.8 556h9.3M482.8 578h9.3M492.1 523h9.3M492.1 545h9.3M492.1 567h9.3M501.5 512h9.3M501.5 534h9.3M501.5 556h9.3M501.5 578h9.3M510.8 523h9.3M510.8 545h9.3M510.8 567h9.3M520.2 512h9.3M520.2 534h9.3M520.2 556h9.3M520.2 578h9.3M529.5 523h9.3M529.5 545h9.3M529.5 567h9.3M538.9 512h9.3M538.9 534h9.3M538.9 556h9.3M538.9 578h9.3M548.2 523h9.3M548.2 545h9.3M548.2 567h9.3M557.6 512h9.3M557.6 534h9.3M557.6 556h9.3M557.6 578h9.3M566.9 523h9.3M566.9 545h9.3M566.9 567h9.3M576.3 512h9.3M576.3 534h9.3M576.3 556h9.3M576.3 578h9.3M585.6 523h9.3M585.6 545h9.3M585.6 567h9.3M595 512h9.3M595 534h9.3M595 556h9.3M595 578h9.3M604.3 523h9.3M604.3 545h9.3M604.3 567h9.3" fill="none" stroke="#2a2a2a" stroke-width="2.21" stroke-linecap="butt" stroke-linejoin="round"/>
<path d="M554.5 586V630M563.9 586V630M573.2 586V630M582.6 586V630M591.9 586V630M601.3 586V630M610.6 586V630" fill="none" stroke="#2a2a2a" stroke-width="2.21" stroke-linecap="butt" stroke-linejoin="round"/>
<path d="M554.5 603h9.3M554.5 625h9.3M563.9 592h9.3M563.9 614h9.3M573.2 603h9.3M573.2 625h9.3M582.6 592h9.3M582.6 614h9.3M591.9 603h9.3M591.9 625h9.3M601.3 592h9.3M601.3 614h9.3M610.6 603h3.4M610.6 625h3.4" fill="none" stroke="#2a2a2a" stroke-width="2.21" stroke-linecap="butt" stroke-linejoin="round"/>
<line x1="434" y1="506" x2="614" y2="506" stroke="#1c1c1c" stroke-width="2.08" stroke-linecap="butt"/>
<line x1="428" y1="514" x2="487" y2="514" stroke="#1c1c1c" stroke-width="3.38" stroke-linecap="butt"/>
<path d="M487 514C486 548 462 572 428 578" fill="none" stroke="#1c1c1c" stroke-width="1.95" stroke-linecap="butt" stroke-linejoin="round"/>
<line x1="601.5" y1="507.5" x2="569" y2="540.5" stroke="#1c1c1c" stroke-width="3.38" stroke-linecap="butt"/>
<path d="M556 508A45 45 0 0 0 569 540.5" fill="none" stroke="#1c1c1c" stroke-width="1.95" stroke-linecap="butt" stroke-linejoin="round"/>
<rect x="434" y="588" width="119.7" height="41" fill="#fff" stroke="#1c1c1c" stroke-width="2.34"/>
<path d="M457.5 612C455.5 597 464.5 591 471.5 588.5C478.5 591 487.5 597 485.5 612C483.5 623 459.5 623 457.5 612Z" fill="#fff" stroke="#1c1c1c" stroke-width="3.12" stroke-linecap="butt" stroke-linejoin="round"/>
<path d="M461.5 611C460.0 600 466.5 595 471.5 593C476.5 595 483.0 600 481.5 611C479.5 619 463.5 619 461.5 611Z" fill="none" stroke="#444" stroke-width="1.95" stroke-linecap="butt" stroke-linejoin="round"/>
<ellipse cx="471.5" cy="607" rx="5.6" ry="6.2" fill="none" stroke="#1c1c1c" stroke-width="2.08"/>
<ellipse cx="471.5" cy="607" rx="1.9" ry="2.1" fill="#222" stroke="none" stroke-width="0"/>
<rect x="467" y="621" width="9" height="10" fill="#444" stroke="#1c1c1c" stroke-width="1.56"/>
<line x1="449.5" y1="621.5" x2="457.5" y2="621.5" stroke="#1c1c1c" stroke-width="1.82" stroke-dasharray="3 2" stroke-linecap="butt"/>
<line x1="485.5" y1="621.5" x2="493.5" y2="621.5" stroke="#1c1c1c" stroke-width="1.82" stroke-dasharray="3 2" stroke-linecap="butt"/>
<path d="M508 612C506 597 515 591 522 588.5C529 591 538 597 536 612C534 623 510 623 508 612Z" fill="#fff" stroke="#1c1c1c" stroke-width="3.12" stroke-linecap="butt" stroke-linejoin="round"/>
<path d="M512 611C510.5 600 517 595 522 593C527 595 533.5 600 532 611C530 619 514 619 512 611Z" fill="none" stroke="#444" stroke-width="1.95" stroke-linecap="butt" stroke-linejoin="round"/>
<ellipse cx="522" cy="607" rx="5.6" ry="6.2" fill="none" stroke="#1c1c1c" stroke-width="2.08"/>
<ellipse cx="522" cy="607" rx="1.9" ry="2.1" fill="#222" stroke="none" stroke-width="0"/>
<rect x="517.5" y="621" width="9" height="10" fill="#444" stroke="#1c1c1c" stroke-width="1.56"/>
<line x1="500" y1="621.5" x2="508" y2="621.5" stroke="#1c1c1c" stroke-width="1.82" stroke-dasharray="3 2" stroke-linecap="butt"/>
<line x1="536" y1="621.5" x2="544" y2="621.5" stroke="#1c1c1c" stroke-width="1.82" stroke-dasharray="3 2" stroke-linecap="butt"/>
<line x1="486" y1="621.5" x2="507" y2="621.5" stroke="#1c1c1c" stroke-width="1.82" stroke-dasharray="2.5 2.5" stroke-linecap="butt"/>
<rect x="574.5" y="614" width="20.5" height="13" fill="#fff" stroke="#1c1c1c" stroke-width="2.34"/>
<path d="M574.5 612C572.5 594 578.5 578 584.5 573.5C590.5 578 597 594 595 612Z" fill="#fff" stroke="#1c1c1c" stroke-width="3.12" stroke-linecap="butt" stroke-linejoin="round"/>
<path d="M579 600C578.5 592 581 585 584.5 581C588 585 590.5 592 590 600" fill="none" stroke="#1c1c1c" stroke-width="2.08" stroke-linecap="butt" stroke-linejoin="round"/>
<path d="M576.5 605q2 -4 4 0q2 4 4 0q2 -4 4 0q2 4 4 0" fill="none" stroke="#1c1c1c" stroke-width="1.95" stroke-linecap="butt" stroke-linejoin="round"/>
<ellipse cx="584.5" cy="596" rx="3" ry="3.4" fill="#555" stroke="none" stroke-width="0"/>
<line x1="434" y1="631.3" x2="614" y2="630.5" stroke="#1c1c1c" stroke-width="2.6" stroke-linecap="butt"/>
<polyline points="426,643.5 420.5,643.5 420.5,653.5" fill="none" stroke="#1c1c1c" stroke-width="3.12" stroke-linejoin="miter"/>
<text x="163" y="192.5" font-size="24" textLength="67" lengthAdjust="spacingAndGlyphs" font-weight="normal" font-style="normal" fill="#1a1a1a" stroke="#1a1a1a" stroke-width="1.5">KITCHEN</text>
<text x="231" y="372" font-size="22.5" textLength="55.5" lengthAdjust="spacingAndGlyphs" font-weight="normal" font-style="normal" fill="#1a1a1a" stroke="#1a1a1a" stroke-width="1.5">FOYER</text>
<text x="376" y="545" font-size="22" textLength="36.5" lengthAdjust="spacingAndGlyphs" font-weight="normal" font-style="normal" fill="#1a1a1a" stroke="#1a1a1a" stroke-width="1.5">HALL</text>
<text x="403.5" y="241.5" font-size="21" textLength="109.5" lengthAdjust="spacingAndGlyphs" font-weight="normal" font-style="normal" fill="#1a1a1a" stroke="#1a1a1a" stroke-width="1.5">LIVING ROOM</text>
<text x="403.5" y="264.5" font-size="20.5" textLength="100.5" lengthAdjust="spacingAndGlyphs" font-weight="normal" font-style="normal" fill="#1a1a1a" stroke="#1a1a1a" stroke-width="1.5">17'-0&quot; x 13'-5&quot;</text>
<text x="403.5" y="288.5" font-size="20.5" textLength="109.5" lengthAdjust="spacingAndGlyphs" font-weight="normal" font-style="normal" fill="#1a1a1a" stroke="#1a1a1a" stroke-width="1.5">5.18m x 4.09m</text>
<text x="403" y="327.5" font-size="14.5" textLength="87.5" lengthAdjust="spacingAndGlyphs" font-weight="bold" font-style="normal" fill="#1a1a1a" stroke="#1a1a1a" stroke-width="0.8">SOFFIT EL: 7'-11&quot;</text>
<text x="441" y="767.5" font-size="22" textLength="83" lengthAdjust="spacingAndGlyphs" font-weight="normal" font-style="normal" fill="#1a1a1a" stroke="#1a1a1a" stroke-width="1.5">BEDROOM</text>
<text x="441" y="790" font-size="20" textLength="106.5" lengthAdjust="spacingAndGlyphs" font-weight="normal" font-style="normal" fill="#1a1a1a" stroke="#1a1a1a" stroke-width="1.5">13'-8&quot; x 11'-10&quot;</text>
<text x="441" y="812.5" font-size="20.5" textLength="106.5" lengthAdjust="spacingAndGlyphs" font-weight="normal" font-style="normal" fill="#1a1a1a" stroke="#1a1a1a" stroke-width="1.5">4.16m x 3.61m</text>
</g>
</svg>
</body></html>
